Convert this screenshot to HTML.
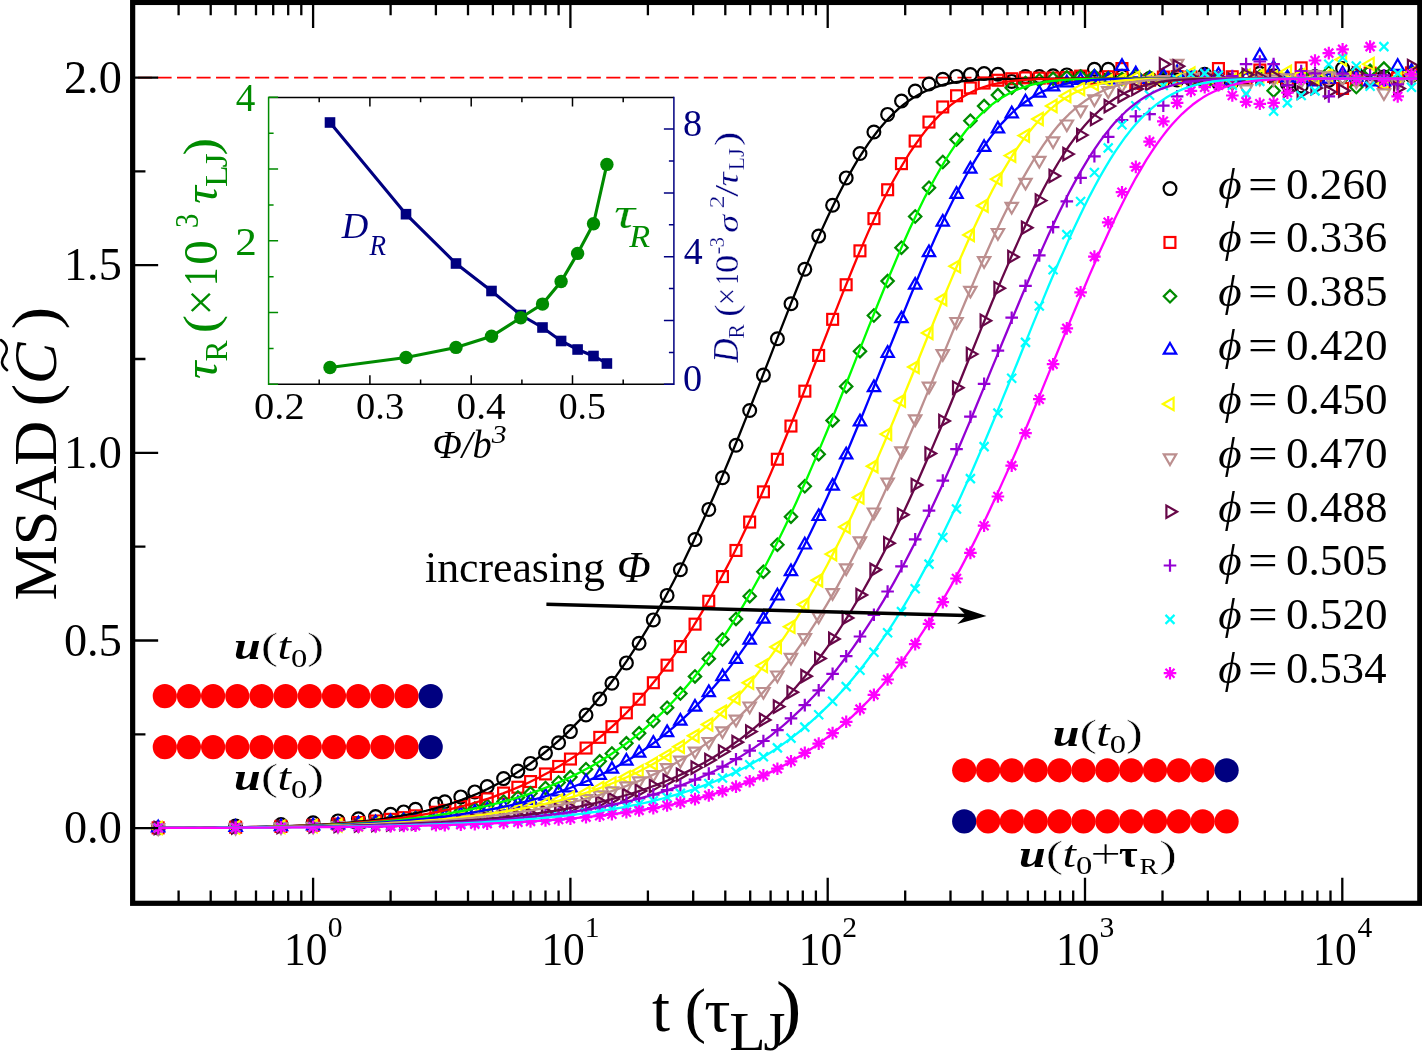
<!DOCTYPE html>
<html><head><meta charset="utf-8"><title>MSAD</title>
<style>html,body{margin:0;padding:0;background:#fff;}svg{display:block;will-change:transform}svg text{font-family:"Liberation Serif",serif}</style></head>
<body><svg width="1422" height="1051" viewBox="0 0 1422 1051" font-family="Liberation Serif, serif">
<rect x="0" y="0" width="1422" height="1051" fill="#fff"/>
<defs><clipPath id="cp"><rect x="132.65" y="2.45" width="1287.1499999999999" height="900.8499999999999"/></clipPath></defs>
<path d="M118.5,77.6H1419.8" stroke="#ff0000" stroke-width="1.6" stroke-dasharray="14.1 5.41" fill="none" clip-path="url(#cp)"/>
<g clip-path="url(#cp)">
<g><circle cx="158.2" cy="827.9" r="6.4" fill="none" stroke="#000000" stroke-width="2.2"/><circle cx="235.6" cy="826.1" r="6.4" fill="none" stroke="#000000" stroke-width="2.2"/><circle cx="281.0" cy="824.5" r="6.4" fill="none" stroke="#000000" stroke-width="2.2"/><circle cx="313.1" cy="822.8" r="6.4" fill="none" stroke="#000000" stroke-width="2.2"/><circle cx="338.0" cy="820.9" r="6.4" fill="none" stroke="#000000" stroke-width="2.2"/><circle cx="358.4" cy="818.8" r="6.4" fill="none" stroke="#000000" stroke-width="2.2"/><circle cx="375.6" cy="816.6" r="6.4" fill="none" stroke="#000000" stroke-width="2.2"/><circle cx="390.6" cy="814.3" r="6.4" fill="none" stroke="#000000" stroke-width="2.2"/><circle cx="403.7" cy="811.9" r="6.4" fill="none" stroke="#000000" stroke-width="2.2"/><circle cx="415.5" cy="809.3" r="6.4" fill="none" stroke="#000000" stroke-width="2.2"/><circle cx="435.9" cy="804.1" r="6.4" fill="none" stroke="#000000" stroke-width="2.2"/><circle cx="444.8" cy="801.8" r="6.4" fill="none" stroke="#000000" stroke-width="2.2"/><circle cx="460.8" cy="796.9" r="6.4" fill="none" stroke="#000000" stroke-width="2.2"/><circle cx="474.8" cy="791.9" r="6.4" fill="none" stroke="#000000" stroke-width="2.2"/><circle cx="487.2" cy="786.6" r="6.4" fill="none" stroke="#000000" stroke-width="2.2"/><circle cx="503.6" cy="778.6" r="6.4" fill="none" stroke="#000000" stroke-width="2.2"/><circle cx="517.9" cy="771.1" r="6.4" fill="none" stroke="#000000" stroke-width="2.2"/><circle cx="530.5" cy="763.4" r="6.4" fill="none" stroke="#000000" stroke-width="2.2"/><circle cx="545.5" cy="753.1" r="6.4" fill="none" stroke="#000000" stroke-width="2.2"/><circle cx="558.6" cy="742.8" r="6.4" fill="none" stroke="#000000" stroke-width="2.2"/><circle cx="570.4" cy="731.6" r="6.4" fill="none" stroke="#000000" stroke-width="2.2"/><circle cx="586.0" cy="715.0" r="6.4" fill="none" stroke="#000000" stroke-width="2.2"/><circle cx="599.7" cy="698.9" r="6.4" fill="none" stroke="#000000" stroke-width="2.2"/><circle cx="611.9" cy="683.2" r="6.4" fill="none" stroke="#000000" stroke-width="2.2"/><circle cx="626.4" cy="662.9" r="6.4" fill="none" stroke="#000000" stroke-width="2.2"/><circle cx="639.1" cy="643.3" r="6.4" fill="none" stroke="#000000" stroke-width="2.2"/><circle cx="653.3" cy="619.9" r="6.4" fill="none" stroke="#000000" stroke-width="2.2"/><circle cx="667.1" cy="595.4" r="6.4" fill="none" stroke="#000000" stroke-width="2.2"/><circle cx="680.4" cy="569.8" r="6.4" fill="none" stroke="#000000" stroke-width="2.2"/><circle cx="695.0" cy="539.6" r="6.4" fill="none" stroke="#000000" stroke-width="2.2"/><circle cx="708.8" cy="509.4" r="6.4" fill="none" stroke="#000000" stroke-width="2.2"/><circle cx="722.5" cy="477.8" r="6.4" fill="none" stroke="#000000" stroke-width="2.2"/><circle cx="736.0" cy="445.2" r="6.4" fill="none" stroke="#000000" stroke-width="2.2"/><circle cx="749.7" cy="410.5" r="6.4" fill="none" stroke="#000000" stroke-width="2.2"/><circle cx="763.4" cy="375.1" r="6.4" fill="none" stroke="#000000" stroke-width="2.2"/><circle cx="777.4" cy="338.8" r="6.4" fill="none" stroke="#000000" stroke-width="2.2"/><circle cx="791.0" cy="303.8" r="6.4" fill="none" stroke="#000000" stroke-width="2.2"/><circle cx="804.8" cy="269.2" r="6.4" fill="none" stroke="#000000" stroke-width="2.2"/><circle cx="818.7" cy="236.1" r="6.4" fill="none" stroke="#000000" stroke-width="2.2"/><circle cx="832.6" cy="205.2" r="6.4" fill="none" stroke="#000000" stroke-width="2.2"/><circle cx="846.2" cy="177.9" r="6.4" fill="none" stroke="#000000" stroke-width="2.2"/><circle cx="860.0" cy="153.5" r="6.4" fill="none" stroke="#000000" stroke-width="2.2"/><circle cx="873.9" cy="132.0" r="6.4" fill="none" stroke="#000000" stroke-width="2.2"/><circle cx="887.6" cy="114.4" r="6.4" fill="none" stroke="#000000" stroke-width="2.2"/><circle cx="901.5" cy="101.0" r="6.4" fill="none" stroke="#000000" stroke-width="2.2"/><circle cx="915.2" cy="91.1" r="6.4" fill="none" stroke="#000000" stroke-width="2.2"/><circle cx="929.0" cy="84.0" r="6.4" fill="none" stroke="#000000" stroke-width="2.2"/><circle cx="942.8" cy="79.3" r="6.4" fill="none" stroke="#000000" stroke-width="2.2"/><circle cx="956.5" cy="76.4" r="6.4" fill="none" stroke="#000000" stroke-width="2.2"/><circle cx="970.4" cy="74.6" r="6.4" fill="none" stroke="#000000" stroke-width="2.2"/><circle cx="984.1" cy="73.5" r="6.4" fill="none" stroke="#000000" stroke-width="2.2"/><circle cx="997.9" cy="74.2" r="6.4" fill="none" stroke="#000000" stroke-width="2.2"/><circle cx="1011.7" cy="81.4" r="6.4" fill="none" stroke="#000000" stroke-width="2.2"/><circle cx="1025.5" cy="76.5" r="6.4" fill="none" stroke="#000000" stroke-width="2.2"/><circle cx="1039.3" cy="76.5" r="6.4" fill="none" stroke="#000000" stroke-width="2.2"/><circle cx="1053.1" cy="75.8" r="6.4" fill="none" stroke="#000000" stroke-width="2.2"/><circle cx="1066.8" cy="74.9" r="6.4" fill="none" stroke="#000000" stroke-width="2.2"/><circle cx="1080.6" cy="76.9" r="6.4" fill="none" stroke="#000000" stroke-width="2.2"/><circle cx="1094.4" cy="69.3" r="6.4" fill="none" stroke="#000000" stroke-width="2.2"/><circle cx="1108.2" cy="69.3" r="6.4" fill="none" stroke="#000000" stroke-width="2.2"/><circle cx="1122.0" cy="76.3" r="6.4" fill="none" stroke="#000000" stroke-width="2.2"/><circle cx="1135.8" cy="78.9" r="6.4" fill="none" stroke="#000000" stroke-width="2.2"/><circle cx="1149.6" cy="78.6" r="6.4" fill="none" stroke="#000000" stroke-width="2.2"/><circle cx="1163.3" cy="80.5" r="6.4" fill="none" stroke="#000000" stroke-width="2.2"/><circle cx="1177.1" cy="79.9" r="6.4" fill="none" stroke="#000000" stroke-width="2.2"/><circle cx="1190.9" cy="78.9" r="6.4" fill="none" stroke="#000000" stroke-width="2.2"/><circle cx="1204.7" cy="74.3" r="6.4" fill="none" stroke="#000000" stroke-width="2.2"/><circle cx="1218.5" cy="83.0" r="6.4" fill="none" stroke="#000000" stroke-width="2.2"/><circle cx="1232.3" cy="81.6" r="6.4" fill="none" stroke="#000000" stroke-width="2.2"/><circle cx="1246.1" cy="76.9" r="6.4" fill="none" stroke="#000000" stroke-width="2.2"/><circle cx="1259.8" cy="73.3" r="6.4" fill="none" stroke="#000000" stroke-width="2.2"/><circle cx="1273.6" cy="75.8" r="6.4" fill="none" stroke="#000000" stroke-width="2.2"/><circle cx="1287.4" cy="83.7" r="6.4" fill="none" stroke="#000000" stroke-width="2.2"/><circle cx="1301.2" cy="86.0" r="6.4" fill="none" stroke="#000000" stroke-width="2.2"/><circle cx="1315.0" cy="76.4" r="6.4" fill="none" stroke="#000000" stroke-width="2.2"/><circle cx="1328.8" cy="80.3" r="6.4" fill="none" stroke="#000000" stroke-width="2.2"/><circle cx="1342.6" cy="68.6" r="6.4" fill="none" stroke="#000000" stroke-width="2.2"/><circle cx="1356.3" cy="73.7" r="6.4" fill="none" stroke="#000000" stroke-width="2.2"/><circle cx="1370.1" cy="73.0" r="6.4" fill="none" stroke="#000000" stroke-width="2.2"/><circle cx="1383.9" cy="76.9" r="6.4" fill="none" stroke="#000000" stroke-width="2.2"/><circle cx="1397.7" cy="76.5" r="6.4" fill="none" stroke="#000000" stroke-width="2.2"/><circle cx="1411.5" cy="75.5" r="6.4" fill="none" stroke="#000000" stroke-width="2.2"/></g>
<g><rect x="152.7" y="822.4" width="10.9" height="10.9" fill="none" stroke="#ff0000" stroke-width="2.2"/><rect x="230.2" y="821.8" width="10.9" height="10.9" fill="none" stroke="#ff0000" stroke-width="2.2"/><rect x="275.5" y="821.0" width="10.9" height="10.9" fill="none" stroke="#ff0000" stroke-width="2.2"/><rect x="307.7" y="819.9" width="10.9" height="10.9" fill="none" stroke="#ff0000" stroke-width="2.2"/><rect x="332.6" y="818.6" width="10.9" height="10.9" fill="none" stroke="#ff0000" stroke-width="2.2"/><rect x="353.0" y="817.1" width="10.9" height="10.9" fill="none" stroke="#ff0000" stroke-width="2.2"/><rect x="370.2" y="815.6" width="10.9" height="10.9" fill="none" stroke="#ff0000" stroke-width="2.2"/><rect x="385.1" y="813.9" width="10.9" height="10.9" fill="none" stroke="#ff0000" stroke-width="2.2"/><rect x="398.3" y="812.2" width="10.9" height="10.9" fill="none" stroke="#ff0000" stroke-width="2.2"/><rect x="410.0" y="810.4" width="10.9" height="10.9" fill="none" stroke="#ff0000" stroke-width="2.2"/><rect x="430.4" y="806.8" width="10.9" height="10.9" fill="none" stroke="#ff0000" stroke-width="2.2"/><rect x="439.4" y="804.9" width="10.9" height="10.9" fill="none" stroke="#ff0000" stroke-width="2.2"/><rect x="455.3" y="801.1" width="10.9" height="10.9" fill="none" stroke="#ff0000" stroke-width="2.2"/><rect x="469.3" y="797.2" width="10.9" height="10.9" fill="none" stroke="#ff0000" stroke-width="2.2"/><rect x="481.8" y="793.4" width="10.9" height="10.9" fill="none" stroke="#ff0000" stroke-width="2.2"/><rect x="498.1" y="787.6" width="10.9" height="10.9" fill="none" stroke="#ff0000" stroke-width="2.2"/><rect x="512.4" y="781.8" width="10.9" height="10.9" fill="none" stroke="#ff0000" stroke-width="2.2"/><rect x="525.1" y="776.1" width="10.9" height="10.9" fill="none" stroke="#ff0000" stroke-width="2.2"/><rect x="540.0" y="768.5" width="10.9" height="10.9" fill="none" stroke="#ff0000" stroke-width="2.2"/><rect x="553.2" y="761.0" width="10.9" height="10.9" fill="none" stroke="#ff0000" stroke-width="2.2"/><rect x="565.0" y="753.6" width="10.9" height="10.9" fill="none" stroke="#ff0000" stroke-width="2.2"/><rect x="580.6" y="742.6" width="10.9" height="10.9" fill="none" stroke="#ff0000" stroke-width="2.2"/><rect x="594.3" y="731.9" width="10.9" height="10.9" fill="none" stroke="#ff0000" stroke-width="2.2"/><rect x="606.5" y="721.2" width="10.9" height="10.9" fill="none" stroke="#ff0000" stroke-width="2.2"/><rect x="620.9" y="707.4" width="10.9" height="10.9" fill="none" stroke="#ff0000" stroke-width="2.2"/><rect x="633.7" y="693.8" width="10.9" height="10.9" fill="none" stroke="#ff0000" stroke-width="2.2"/><rect x="647.9" y="677.3" width="10.9" height="10.9" fill="none" stroke="#ff0000" stroke-width="2.2"/><rect x="661.6" y="659.7" width="10.9" height="10.9" fill="none" stroke="#ff0000" stroke-width="2.2"/><rect x="674.9" y="641.1" width="10.9" height="10.9" fill="none" stroke="#ff0000" stroke-width="2.2"/><rect x="689.6" y="618.7" width="10.9" height="10.9" fill="none" stroke="#ff0000" stroke-width="2.2"/><rect x="703.3" y="595.8" width="10.9" height="10.9" fill="none" stroke="#ff0000" stroke-width="2.2"/><rect x="717.0" y="571.1" width="10.9" height="10.9" fill="none" stroke="#ff0000" stroke-width="2.2"/><rect x="730.5" y="545.0" width="10.9" height="10.9" fill="none" stroke="#ff0000" stroke-width="2.2"/><rect x="744.2" y="516.6" width="10.9" height="10.9" fill="none" stroke="#ff0000" stroke-width="2.2"/><rect x="758.0" y="486.4" width="10.9" height="10.9" fill="none" stroke="#ff0000" stroke-width="2.2"/><rect x="771.9" y="453.8" width="10.9" height="10.9" fill="none" stroke="#ff0000" stroke-width="2.2"/><rect x="785.5" y="420.6" width="10.9" height="10.9" fill="none" stroke="#ff0000" stroke-width="2.2"/><rect x="799.4" y="385.7" width="10.9" height="10.9" fill="none" stroke="#ff0000" stroke-width="2.2"/><rect x="813.2" y="350.0" width="10.9" height="10.9" fill="none" stroke="#ff0000" stroke-width="2.2"/><rect x="827.2" y="313.9" width="10.9" height="10.9" fill="none" stroke="#ff0000" stroke-width="2.2"/><rect x="840.7" y="279.3" width="10.9" height="10.9" fill="none" stroke="#ff0000" stroke-width="2.2"/><rect x="854.5" y="245.4" width="10.9" height="10.9" fill="none" stroke="#ff0000" stroke-width="2.2"/><rect x="868.5" y="213.2" width="10.9" height="10.9" fill="none" stroke="#ff0000" stroke-width="2.2"/><rect x="882.2" y="184.3" width="10.9" height="10.9" fill="none" stroke="#ff0000" stroke-width="2.2"/><rect x="896.0" y="158.2" width="10.9" height="10.9" fill="none" stroke="#ff0000" stroke-width="2.2"/><rect x="909.7" y="135.6" width="10.9" height="10.9" fill="none" stroke="#ff0000" stroke-width="2.2"/><rect x="923.5" y="116.6" width="10.9" height="10.9" fill="none" stroke="#ff0000" stroke-width="2.2"/><rect x="937.3" y="101.5" width="10.9" height="10.9" fill="none" stroke="#ff0000" stroke-width="2.2"/><rect x="951.1" y="90.3" width="10.9" height="10.9" fill="none" stroke="#ff0000" stroke-width="2.2"/><rect x="964.9" y="82.5" width="10.9" height="10.9" fill="none" stroke="#ff0000" stroke-width="2.2"/><rect x="978.7" y="77.6" width="10.9" height="10.9" fill="none" stroke="#ff0000" stroke-width="2.2"/><rect x="992.5" y="74.8" width="10.9" height="10.9" fill="none" stroke="#ff0000" stroke-width="2.2"/><rect x="1006.3" y="73.3" width="10.9" height="10.9" fill="none" stroke="#ff0000" stroke-width="2.2"/><rect x="1020.0" y="72.4" width="10.9" height="10.9" fill="none" stroke="#ff0000" stroke-width="2.2"/><rect x="1033.8" y="72.7" width="10.9" height="10.9" fill="none" stroke="#ff0000" stroke-width="2.2"/><rect x="1047.6" y="72.6" width="10.9" height="10.9" fill="none" stroke="#ff0000" stroke-width="2.2"/><rect x="1061.4" y="72.2" width="10.9" height="10.9" fill="none" stroke="#ff0000" stroke-width="2.2"/><rect x="1075.2" y="70.7" width="10.9" height="10.9" fill="none" stroke="#ff0000" stroke-width="2.2"/><rect x="1089.0" y="72.8" width="10.9" height="10.9" fill="none" stroke="#ff0000" stroke-width="2.2"/><rect x="1102.8" y="71.3" width="10.9" height="10.9" fill="none" stroke="#ff0000" stroke-width="2.2"/><rect x="1116.5" y="63.1" width="10.9" height="10.9" fill="none" stroke="#ff0000" stroke-width="2.2"/><rect x="1130.3" y="78.0" width="10.9" height="10.9" fill="none" stroke="#ff0000" stroke-width="2.2"/><rect x="1144.1" y="74.8" width="10.9" height="10.9" fill="none" stroke="#ff0000" stroke-width="2.2"/><rect x="1157.9" y="71.6" width="10.9" height="10.9" fill="none" stroke="#ff0000" stroke-width="2.2"/><rect x="1171.7" y="71.2" width="10.9" height="10.9" fill="none" stroke="#ff0000" stroke-width="2.2"/><rect x="1185.5" y="71.5" width="10.9" height="10.9" fill="none" stroke="#ff0000" stroke-width="2.2"/><rect x="1199.2" y="73.3" width="10.9" height="10.9" fill="none" stroke="#ff0000" stroke-width="2.2"/><rect x="1213.0" y="63.1" width="10.9" height="10.9" fill="none" stroke="#ff0000" stroke-width="2.2"/><rect x="1226.8" y="71.3" width="10.9" height="10.9" fill="none" stroke="#ff0000" stroke-width="2.2"/><rect x="1240.6" y="73.7" width="10.9" height="10.9" fill="none" stroke="#ff0000" stroke-width="2.2"/><rect x="1254.4" y="64.6" width="10.9" height="10.9" fill="none" stroke="#ff0000" stroke-width="2.2"/><rect x="1268.2" y="71.0" width="10.9" height="10.9" fill="none" stroke="#ff0000" stroke-width="2.2"/><rect x="1282.0" y="74.0" width="10.9" height="10.9" fill="none" stroke="#ff0000" stroke-width="2.2"/><rect x="1295.7" y="62.4" width="10.9" height="10.9" fill="none" stroke="#ff0000" stroke-width="2.2"/><rect x="1309.5" y="73.0" width="10.9" height="10.9" fill="none" stroke="#ff0000" stroke-width="2.2"/><rect x="1323.3" y="72.4" width="10.9" height="10.9" fill="none" stroke="#ff0000" stroke-width="2.2"/><rect x="1337.1" y="83.0" width="10.9" height="10.9" fill="none" stroke="#ff0000" stroke-width="2.2"/><rect x="1350.9" y="74.2" width="10.9" height="10.9" fill="none" stroke="#ff0000" stroke-width="2.2"/><rect x="1364.7" y="67.7" width="10.9" height="10.9" fill="none" stroke="#ff0000" stroke-width="2.2"/><rect x="1378.5" y="77.5" width="10.9" height="10.9" fill="none" stroke="#ff0000" stroke-width="2.2"/><rect x="1392.2" y="72.5" width="10.9" height="10.9" fill="none" stroke="#ff0000" stroke-width="2.2"/><rect x="1406.0" y="67.4" width="10.9" height="10.9" fill="none" stroke="#ff0000" stroke-width="2.2"/></g>
<g><path d="M158.2,821.7l6.2,6.2l-6.2,6.2l-6.2,-6.2z" fill="none" stroke="#008b00" stroke-width="2.2"/><path d="M235.6,821.1l6.2,6.2l-6.2,6.2l-6.2,-6.2z" fill="none" stroke="#008b00" stroke-width="2.2"/><path d="M281.0,820.4l6.2,6.2l-6.2,6.2l-6.2,-6.2z" fill="none" stroke="#008b00" stroke-width="2.2"/><path d="M313.1,819.4l6.2,6.2l-6.2,6.2l-6.2,-6.2z" fill="none" stroke="#008b00" stroke-width="2.2"/><path d="M338.0,818.3l6.2,6.2l-6.2,6.2l-6.2,-6.2z" fill="none" stroke="#008b00" stroke-width="2.2"/><path d="M358.4,817.1l6.2,6.2l-6.2,6.2l-6.2,-6.2z" fill="none" stroke="#008b00" stroke-width="2.2"/><path d="M375.6,815.9l6.2,6.2l-6.2,6.2l-6.2,-6.2z" fill="none" stroke="#008b00" stroke-width="2.2"/><path d="M390.6,814.6l6.2,6.2l-6.2,6.2l-6.2,-6.2z" fill="none" stroke="#008b00" stroke-width="2.2"/><path d="M403.7,813.2l6.2,6.2l-6.2,6.2l-6.2,-6.2z" fill="none" stroke="#008b00" stroke-width="2.2"/><path d="M415.5,811.9l6.2,6.2l-6.2,6.2l-6.2,-6.2z" fill="none" stroke="#008b00" stroke-width="2.2"/><path d="M435.9,809.2l6.2,6.2l-6.2,6.2l-6.2,-6.2z" fill="none" stroke="#008b00" stroke-width="2.2"/><path d="M444.8,807.8l6.2,6.2l-6.2,6.2l-6.2,-6.2z" fill="none" stroke="#008b00" stroke-width="2.2"/><path d="M460.8,805.0l6.2,6.2l-6.2,6.2l-6.2,-6.2z" fill="none" stroke="#008b00" stroke-width="2.2"/><path d="M474.8,802.2l6.2,6.2l-6.2,6.2l-6.2,-6.2z" fill="none" stroke="#008b00" stroke-width="2.2"/><path d="M487.2,799.5l6.2,6.2l-6.2,6.2l-6.2,-6.2z" fill="none" stroke="#008b00" stroke-width="2.2"/><path d="M503.6,795.3l6.2,6.2l-6.2,6.2l-6.2,-6.2z" fill="none" stroke="#008b00" stroke-width="2.2"/><path d="M517.9,791.2l6.2,6.2l-6.2,6.2l-6.2,-6.2z" fill="none" stroke="#008b00" stroke-width="2.2"/><path d="M530.5,787.1l6.2,6.2l-6.2,6.2l-6.2,-6.2z" fill="none" stroke="#008b00" stroke-width="2.2"/><path d="M545.5,781.7l6.2,6.2l-6.2,6.2l-6.2,-6.2z" fill="none" stroke="#008b00" stroke-width="2.2"/><path d="M558.6,776.3l6.2,6.2l-6.2,6.2l-6.2,-6.2z" fill="none" stroke="#008b00" stroke-width="2.2"/><path d="M570.4,770.9l6.2,6.2l-6.2,6.2l-6.2,-6.2z" fill="none" stroke="#008b00" stroke-width="2.2"/><path d="M586.0,763.0l6.2,6.2l-6.2,6.2l-6.2,-6.2z" fill="none" stroke="#008b00" stroke-width="2.2"/><path d="M599.7,755.1l6.2,6.2l-6.2,6.2l-6.2,-6.2z" fill="none" stroke="#008b00" stroke-width="2.2"/><path d="M611.9,747.3l6.2,6.2l-6.2,6.2l-6.2,-6.2z" fill="none" stroke="#008b00" stroke-width="2.2"/><path d="M626.4,737.1l6.2,6.2l-6.2,6.2l-6.2,-6.2z" fill="none" stroke="#008b00" stroke-width="2.2"/><path d="M639.1,727.1l6.2,6.2l-6.2,6.2l-6.2,-6.2z" fill="none" stroke="#008b00" stroke-width="2.2"/><path d="M653.3,714.8l6.2,6.2l-6.2,6.2l-6.2,-6.2z" fill="none" stroke="#008b00" stroke-width="2.2"/><path d="M667.1,701.5l6.2,6.2l-6.2,6.2l-6.2,-6.2z" fill="none" stroke="#008b00" stroke-width="2.2"/><path d="M680.4,687.4l6.2,6.2l-6.2,6.2l-6.2,-6.2z" fill="none" stroke="#008b00" stroke-width="2.2"/><path d="M695.0,670.2l6.2,6.2l-6.2,6.2l-6.2,-6.2z" fill="none" stroke="#008b00" stroke-width="2.2"/><path d="M708.8,652.5l6.2,6.2l-6.2,6.2l-6.2,-6.2z" fill="none" stroke="#008b00" stroke-width="2.2"/><path d="M722.5,633.3l6.2,6.2l-6.2,6.2l-6.2,-6.2z" fill="none" stroke="#008b00" stroke-width="2.2"/><path d="M736.0,612.7l6.2,6.2l-6.2,6.2l-6.2,-6.2z" fill="none" stroke="#008b00" stroke-width="2.2"/><path d="M749.7,590.0l6.2,6.2l-6.2,6.2l-6.2,-6.2z" fill="none" stroke="#008b00" stroke-width="2.2"/><path d="M763.4,565.5l6.2,6.2l-6.2,6.2l-6.2,-6.2z" fill="none" stroke="#008b00" stroke-width="2.2"/><path d="M777.4,538.5l6.2,6.2l-6.2,6.2l-6.2,-6.2z" fill="none" stroke="#008b00" stroke-width="2.2"/><path d="M791.0,510.5l6.2,6.2l-6.2,6.2l-6.2,-6.2z" fill="none" stroke="#008b00" stroke-width="2.2"/><path d="M804.8,480.1l6.2,6.2l-6.2,6.2l-6.2,-6.2z" fill="none" stroke="#008b00" stroke-width="2.2"/><path d="M818.7,448.0l6.2,6.2l-6.2,6.2l-6.2,-6.2z" fill="none" stroke="#008b00" stroke-width="2.2"/><path d="M832.6,414.2l6.2,6.2l-6.2,6.2l-6.2,-6.2z" fill="none" stroke="#008b00" stroke-width="2.2"/><path d="M846.2,380.2l6.2,6.2l-6.2,6.2l-6.2,-6.2z" fill="none" stroke="#008b00" stroke-width="2.2"/><path d="M860.0,345.0l6.2,6.2l-6.2,6.2l-6.2,-6.2z" fill="none" stroke="#008b00" stroke-width="2.2"/><path d="M873.9,309.3l6.2,6.2l-6.2,6.2l-6.2,-6.2z" fill="none" stroke="#008b00" stroke-width="2.2"/><path d="M887.6,274.9l6.2,6.2l-6.2,6.2l-6.2,-6.2z" fill="none" stroke="#008b00" stroke-width="2.2"/><path d="M901.5,241.5l6.2,6.2l-6.2,6.2l-6.2,-6.2z" fill="none" stroke="#008b00" stroke-width="2.2"/><path d="M915.2,210.3l6.2,6.2l-6.2,6.2l-6.2,-6.2z" fill="none" stroke="#008b00" stroke-width="2.2"/><path d="M929.0,181.5l6.2,6.2l-6.2,6.2l-6.2,-6.2z" fill="none" stroke="#008b00" stroke-width="2.2"/><path d="M942.8,155.8l6.2,6.2l-6.2,6.2l-6.2,-6.2z" fill="none" stroke="#008b00" stroke-width="2.2"/><path d="M956.5,133.4l6.2,6.2l-6.2,6.2l-6.2,-6.2z" fill="none" stroke="#008b00" stroke-width="2.2"/><path d="M970.4,114.6l6.2,6.2l-6.2,6.2l-6.2,-6.2z" fill="none" stroke="#008b00" stroke-width="2.2"/><path d="M984.1,99.9l6.2,6.2l-6.2,6.2l-6.2,-6.2z" fill="none" stroke="#008b00" stroke-width="2.2"/><path d="M997.9,88.9l6.2,6.2l-6.2,6.2l-6.2,-6.2z" fill="none" stroke="#008b00" stroke-width="2.2"/><path d="M1011.7,81.5l6.2,6.2l-6.2,6.2l-6.2,-6.2z" fill="none" stroke="#008b00" stroke-width="2.2"/><path d="M1025.5,76.7l6.2,6.2l-6.2,6.2l-6.2,-6.2z" fill="none" stroke="#008b00" stroke-width="2.2"/><path d="M1039.3,74.0l6.2,6.2l-6.2,6.2l-6.2,-6.2z" fill="none" stroke="#008b00" stroke-width="2.2"/><path d="M1053.1,72.6l6.2,6.2l-6.2,6.2l-6.2,-6.2z" fill="none" stroke="#008b00" stroke-width="2.2"/><path d="M1066.8,71.1l6.2,6.2l-6.2,6.2l-6.2,-6.2z" fill="none" stroke="#008b00" stroke-width="2.2"/><path d="M1080.6,70.2l6.2,6.2l-6.2,6.2l-6.2,-6.2z" fill="none" stroke="#008b00" stroke-width="2.2"/><path d="M1094.4,69.7l6.2,6.2l-6.2,6.2l-6.2,-6.2z" fill="none" stroke="#008b00" stroke-width="2.2"/><path d="M1108.2,71.7l6.2,6.2l-6.2,6.2l-6.2,-6.2z" fill="none" stroke="#008b00" stroke-width="2.2"/><path d="M1122.0,72.8l6.2,6.2l-6.2,6.2l-6.2,-6.2z" fill="none" stroke="#008b00" stroke-width="2.2"/><path d="M1135.8,69.1l6.2,6.2l-6.2,6.2l-6.2,-6.2z" fill="none" stroke="#008b00" stroke-width="2.2"/><path d="M1149.6,71.1l6.2,6.2l-6.2,6.2l-6.2,-6.2z" fill="none" stroke="#008b00" stroke-width="2.2"/><path d="M1163.3,71.1l6.2,6.2l-6.2,6.2l-6.2,-6.2z" fill="none" stroke="#008b00" stroke-width="2.2"/><path d="M1177.1,67.7l6.2,6.2l-6.2,6.2l-6.2,-6.2z" fill="none" stroke="#008b00" stroke-width="2.2"/><path d="M1190.9,72.1l6.2,6.2l-6.2,6.2l-6.2,-6.2z" fill="none" stroke="#008b00" stroke-width="2.2"/><path d="M1204.7,77.8l6.2,6.2l-6.2,6.2l-6.2,-6.2z" fill="none" stroke="#008b00" stroke-width="2.2"/><path d="M1218.5,72.5l6.2,6.2l-6.2,6.2l-6.2,-6.2z" fill="none" stroke="#008b00" stroke-width="2.2"/><path d="M1232.3,77.0l6.2,6.2l-6.2,6.2l-6.2,-6.2z" fill="none" stroke="#008b00" stroke-width="2.2"/><path d="M1246.1,68.8l6.2,6.2l-6.2,6.2l-6.2,-6.2z" fill="none" stroke="#008b00" stroke-width="2.2"/><path d="M1259.8,70.4l6.2,6.2l-6.2,6.2l-6.2,-6.2z" fill="none" stroke="#008b00" stroke-width="2.2"/><path d="M1273.6,84.5l6.2,6.2l-6.2,6.2l-6.2,-6.2z" fill="none" stroke="#008b00" stroke-width="2.2"/><path d="M1287.4,71.4l6.2,6.2l-6.2,6.2l-6.2,-6.2z" fill="none" stroke="#008b00" stroke-width="2.2"/><path d="M1301.2,68.3l6.2,6.2l-6.2,6.2l-6.2,-6.2z" fill="none" stroke="#008b00" stroke-width="2.2"/><path d="M1315.0,71.1l6.2,6.2l-6.2,6.2l-6.2,-6.2z" fill="none" stroke="#008b00" stroke-width="2.2"/><path d="M1328.8,66.1l6.2,6.2l-6.2,6.2l-6.2,-6.2z" fill="none" stroke="#008b00" stroke-width="2.2"/><path d="M1342.6,71.7l6.2,6.2l-6.2,6.2l-6.2,-6.2z" fill="none" stroke="#008b00" stroke-width="2.2"/><path d="M1356.3,80.8l6.2,6.2l-6.2,6.2l-6.2,-6.2z" fill="none" stroke="#008b00" stroke-width="2.2"/><path d="M1370.1,64.5l6.2,6.2l-6.2,6.2l-6.2,-6.2z" fill="none" stroke="#008b00" stroke-width="2.2"/><path d="M1383.9,62.4l6.2,6.2l-6.2,6.2l-6.2,-6.2z" fill="none" stroke="#008b00" stroke-width="2.2"/><path d="M1397.7,74.8l6.2,6.2l-6.2,6.2l-6.2,-6.2z" fill="none" stroke="#008b00" stroke-width="2.2"/><path d="M1411.5,66.7l6.2,6.2l-6.2,6.2l-6.2,-6.2z" fill="none" stroke="#008b00" stroke-width="2.2"/></g>
<g><path d="M158.2,820.8L164.3,831.4L152.0,831.4z" fill="none" stroke="#0000ff" stroke-width="2.2"/><path d="M235.6,820.3L241.8,830.9L229.5,830.9z" fill="none" stroke="#0000ff" stroke-width="2.2"/><path d="M281.0,819.6L287.1,830.2L274.8,830.2z" fill="none" stroke="#0000ff" stroke-width="2.2"/><path d="M313.1,818.7L319.2,829.4L307.0,829.4z" fill="none" stroke="#0000ff" stroke-width="2.2"/><path d="M338.0,817.8L344.2,828.4L331.9,828.4z" fill="none" stroke="#0000ff" stroke-width="2.2"/><path d="M358.4,816.8L364.6,827.5L352.3,827.5z" fill="none" stroke="#0000ff" stroke-width="2.2"/><path d="M375.6,815.8L381.8,826.4L369.5,826.4z" fill="none" stroke="#0000ff" stroke-width="2.2"/><path d="M390.6,814.7L396.7,825.4L384.4,825.4z" fill="none" stroke="#0000ff" stroke-width="2.2"/><path d="M403.7,813.7L409.9,824.3L397.6,824.3z" fill="none" stroke="#0000ff" stroke-width="2.2"/><path d="M415.5,812.6L421.6,823.2L409.3,823.2z" fill="none" stroke="#0000ff" stroke-width="2.2"/><path d="M435.9,810.4L442.0,821.1L429.7,821.1z" fill="none" stroke="#0000ff" stroke-width="2.2"/><path d="M444.8,809.4L451.0,820.0L438.7,820.0z" fill="none" stroke="#0000ff" stroke-width="2.2"/><path d="M460.8,807.2L466.9,817.8L454.6,817.8z" fill="none" stroke="#0000ff" stroke-width="2.2"/><path d="M474.8,805.0L480.9,815.7L468.6,815.7z" fill="none" stroke="#0000ff" stroke-width="2.2"/><path d="M487.2,802.9L493.4,813.5L481.1,813.5z" fill="none" stroke="#0000ff" stroke-width="2.2"/><path d="M503.6,799.6L509.7,810.3L497.4,810.3z" fill="none" stroke="#0000ff" stroke-width="2.2"/><path d="M517.9,796.4L524.0,807.1L511.7,807.1z" fill="none" stroke="#0000ff" stroke-width="2.2"/><path d="M530.5,793.2L536.7,803.9L524.4,803.9z" fill="none" stroke="#0000ff" stroke-width="2.2"/><path d="M545.5,789.0L551.6,799.7L539.3,799.7z" fill="none" stroke="#0000ff" stroke-width="2.2"/><path d="M558.6,784.8L564.8,795.4L552.5,795.4z" fill="none" stroke="#0000ff" stroke-width="2.2"/><path d="M570.4,780.6L576.6,791.3L564.3,791.3z" fill="none" stroke="#0000ff" stroke-width="2.2"/><path d="M586.0,774.4L592.2,785.0L579.9,785.0z" fill="none" stroke="#0000ff" stroke-width="2.2"/><path d="M599.7,768.2L605.9,778.8L593.6,778.8z" fill="none" stroke="#0000ff" stroke-width="2.2"/><path d="M611.9,762.1L618.1,772.7L605.8,772.7z" fill="none" stroke="#0000ff" stroke-width="2.2"/><path d="M626.4,754.0L632.5,764.6L620.2,764.6z" fill="none" stroke="#0000ff" stroke-width="2.2"/><path d="M639.1,746.0L645.3,756.6L633.0,756.6z" fill="none" stroke="#0000ff" stroke-width="2.2"/><path d="M653.3,736.1L659.5,746.8L647.2,746.8z" fill="none" stroke="#0000ff" stroke-width="2.2"/><path d="M667.1,725.4L673.2,736.1L660.9,736.1z" fill="none" stroke="#0000ff" stroke-width="2.2"/><path d="M680.4,714.0L686.5,724.7L674.2,724.7z" fill="none" stroke="#0000ff" stroke-width="2.2"/><path d="M695.0,700.0L701.2,710.7L688.9,710.7z" fill="none" stroke="#0000ff" stroke-width="2.2"/><path d="M708.8,685.4L714.9,696.1L702.6,696.1z" fill="none" stroke="#0000ff" stroke-width="2.2"/><path d="M722.5,669.4L728.6,680.1L716.3,680.1z" fill="none" stroke="#0000ff" stroke-width="2.2"/><path d="M736.0,652.2L742.1,662.8L729.8,662.8z" fill="none" stroke="#0000ff" stroke-width="2.2"/><path d="M749.7,633.0L755.8,643.6L743.5,643.6z" fill="none" stroke="#0000ff" stroke-width="2.2"/><path d="M763.4,612.0L769.6,622.7L757.3,622.7z" fill="none" stroke="#0000ff" stroke-width="2.2"/><path d="M777.4,588.8L783.5,599.5L771.2,599.5z" fill="none" stroke="#0000ff" stroke-width="2.2"/><path d="M791.0,564.5L797.1,575.1L784.8,575.1z" fill="none" stroke="#0000ff" stroke-width="2.2"/><path d="M804.8,537.8L811.0,548.5L798.7,548.5z" fill="none" stroke="#0000ff" stroke-width="2.2"/><path d="M818.7,509.4L824.8,520.0L812.5,520.0z" fill="none" stroke="#0000ff" stroke-width="2.2"/><path d="M832.6,478.9L838.8,489.6L826.5,489.6z" fill="none" stroke="#0000ff" stroke-width="2.2"/><path d="M846.2,447.8L852.3,458.4L840.0,458.4z" fill="none" stroke="#0000ff" stroke-width="2.2"/><path d="M860.0,414.8L866.1,425.4L853.8,425.4z" fill="none" stroke="#0000ff" stroke-width="2.2"/><path d="M873.9,380.4L880.1,391.1L867.8,391.1z" fill="none" stroke="#0000ff" stroke-width="2.2"/><path d="M887.6,346.1L893.8,356.8L881.5,356.8z" fill="none" stroke="#0000ff" stroke-width="2.2"/><path d="M901.5,311.6L907.6,322.2L895.3,322.2z" fill="none" stroke="#0000ff" stroke-width="2.2"/><path d="M915.2,278.0L921.3,288.6L909.0,288.6z" fill="none" stroke="#0000ff" stroke-width="2.2"/><path d="M929.0,245.5L935.1,256.1L922.8,256.1z" fill="none" stroke="#0000ff" stroke-width="2.2"/><path d="M942.8,215.0L948.9,225.7L936.6,225.7z" fill="none" stroke="#0000ff" stroke-width="2.2"/><path d="M956.5,187.1L962.7,197.8L950.4,197.8z" fill="none" stroke="#0000ff" stroke-width="2.2"/><path d="M970.4,162.0L976.5,172.7L964.2,172.7z" fill="none" stroke="#0000ff" stroke-width="2.2"/><path d="M984.1,140.2L990.3,150.9L978.0,150.9z" fill="none" stroke="#0000ff" stroke-width="2.2"/><path d="M997.9,121.7L1004.1,132.4L991.8,132.4z" fill="none" stroke="#0000ff" stroke-width="2.2"/><path d="M1011.7,106.6L1017.9,117.3L1005.6,117.3z" fill="none" stroke="#0000ff" stroke-width="2.2"/><path d="M1025.5,94.8L1031.6,105.4L1019.3,105.4z" fill="none" stroke="#0000ff" stroke-width="2.2"/><path d="M1039.3,86.0L1045.4,96.6L1033.1,96.6z" fill="none" stroke="#0000ff" stroke-width="2.2"/><path d="M1053.1,79.8L1059.2,90.4L1046.9,90.4z" fill="none" stroke="#0000ff" stroke-width="2.2"/><path d="M1066.8,75.7L1073.0,86.3L1060.7,86.3z" fill="none" stroke="#0000ff" stroke-width="2.2"/><path d="M1080.6,73.2L1086.8,83.8L1074.5,83.8z" fill="none" stroke="#0000ff" stroke-width="2.2"/><path d="M1094.4,70.3L1100.6,80.9L1088.3,80.9z" fill="none" stroke="#0000ff" stroke-width="2.2"/><path d="M1108.2,72.8L1114.4,83.4L1102.1,83.4z" fill="none" stroke="#0000ff" stroke-width="2.2"/><path d="M1122.0,59.2L1128.1,69.9L1115.8,69.9z" fill="none" stroke="#0000ff" stroke-width="2.2"/><path d="M1135.8,66.7L1141.9,77.3L1129.6,77.3z" fill="none" stroke="#0000ff" stroke-width="2.2"/><path d="M1149.6,72.4L1155.7,83.0L1143.4,83.0z" fill="none" stroke="#0000ff" stroke-width="2.2"/><path d="M1163.3,68.8L1169.5,79.4L1157.2,79.4z" fill="none" stroke="#0000ff" stroke-width="2.2"/><path d="M1177.1,65.4L1183.3,76.1L1171.0,76.1z" fill="none" stroke="#0000ff" stroke-width="2.2"/><path d="M1190.9,70.8L1197.1,81.5L1184.8,81.5z" fill="none" stroke="#0000ff" stroke-width="2.2"/><path d="M1204.7,68.9L1210.8,79.5L1198.5,79.5z" fill="none" stroke="#0000ff" stroke-width="2.2"/><path d="M1218.5,67.8L1224.6,78.4L1212.3,78.4z" fill="none" stroke="#0000ff" stroke-width="2.2"/><path d="M1232.3,73.3L1238.4,84.0L1226.1,84.0z" fill="none" stroke="#0000ff" stroke-width="2.2"/><path d="M1246.1,70.8L1252.2,81.4L1239.9,81.4z" fill="none" stroke="#0000ff" stroke-width="2.2"/><path d="M1259.8,48.7L1266.0,59.4L1253.7,59.4z" fill="none" stroke="#0000ff" stroke-width="2.2"/><path d="M1273.6,60.7L1279.8,71.4L1267.5,71.4z" fill="none" stroke="#0000ff" stroke-width="2.2"/><path d="M1287.4,70.6L1293.6,81.3L1281.3,81.3z" fill="none" stroke="#0000ff" stroke-width="2.2"/><path d="M1301.2,71.3L1307.3,81.9L1295.0,81.9z" fill="none" stroke="#0000ff" stroke-width="2.2"/><path d="M1315.0,74.6L1321.1,85.3L1308.8,85.3z" fill="none" stroke="#0000ff" stroke-width="2.2"/><path d="M1328.8,72.0L1334.9,82.7L1322.6,82.7z" fill="none" stroke="#0000ff" stroke-width="2.2"/><path d="M1342.6,66.6L1348.7,77.2L1336.4,77.2z" fill="none" stroke="#0000ff" stroke-width="2.2"/><path d="M1356.3,70.0L1362.5,80.7L1350.2,80.7z" fill="none" stroke="#0000ff" stroke-width="2.2"/><path d="M1370.1,74.6L1376.3,85.3L1364.0,85.3z" fill="none" stroke="#0000ff" stroke-width="2.2"/><path d="M1383.9,74.8L1390.1,85.4L1377.8,85.4z" fill="none" stroke="#0000ff" stroke-width="2.2"/><path d="M1397.7,59.2L1403.8,69.9L1391.5,69.9z" fill="none" stroke="#0000ff" stroke-width="2.2"/><path d="M1411.5,64.1L1417.6,74.8L1405.3,74.8z" fill="none" stroke="#0000ff" stroke-width="2.2"/></g>
<g><path d="M151.1,827.9L161.7,821.8L161.7,834.1z" fill="none" stroke="#ffff00" stroke-width="2.2"/><path d="M228.5,827.4L239.2,821.3L239.2,833.6z" fill="none" stroke="#ffff00" stroke-width="2.2"/><path d="M273.9,826.8L284.5,820.7L284.5,833.0z" fill="none" stroke="#ffff00" stroke-width="2.2"/><path d="M306.0,826.1L316.7,820.0L316.7,832.3z" fill="none" stroke="#ffff00" stroke-width="2.2"/><path d="M330.9,825.4L341.6,819.2L341.6,831.5z" fill="none" stroke="#ffff00" stroke-width="2.2"/><path d="M351.3,824.6L362.0,818.4L362.0,830.7z" fill="none" stroke="#ffff00" stroke-width="2.2"/><path d="M368.5,823.8L379.2,817.6L379.2,829.9z" fill="none" stroke="#ffff00" stroke-width="2.2"/><path d="M383.5,823.0L394.1,816.8L394.1,829.1z" fill="none" stroke="#ffff00" stroke-width="2.2"/><path d="M396.6,822.2L407.3,816.0L407.3,828.3z" fill="none" stroke="#ffff00" stroke-width="2.2"/><path d="M408.4,821.4L419.0,815.2L419.0,827.5z" fill="none" stroke="#ffff00" stroke-width="2.2"/><path d="M428.8,819.8L439.4,813.6L439.4,825.9z" fill="none" stroke="#ffff00" stroke-width="2.2"/><path d="M437.7,819.0L448.4,812.8L448.4,825.1z" fill="none" stroke="#ffff00" stroke-width="2.2"/><path d="M453.7,817.3L464.3,811.2L464.3,823.5z" fill="none" stroke="#ffff00" stroke-width="2.2"/><path d="M467.7,815.7L478.3,809.6L478.3,821.9z" fill="none" stroke="#ffff00" stroke-width="2.2"/><path d="M480.1,814.1L490.8,808.0L490.8,820.3z" fill="none" stroke="#ffff00" stroke-width="2.2"/><path d="M496.5,811.7L507.1,805.6L507.1,817.9z" fill="none" stroke="#ffff00" stroke-width="2.2"/><path d="M510.8,809.3L521.4,803.2L521.4,815.5z" fill="none" stroke="#ffff00" stroke-width="2.2"/><path d="M523.4,806.9L534.1,800.8L534.1,813.1z" fill="none" stroke="#ffff00" stroke-width="2.2"/><path d="M538.4,803.7L549.0,797.6L549.0,809.9z" fill="none" stroke="#ffff00" stroke-width="2.2"/><path d="M551.5,800.6L562.2,794.4L562.2,806.7z" fill="none" stroke="#ffff00" stroke-width="2.2"/><path d="M563.3,797.4L574.0,791.3L574.0,803.6z" fill="none" stroke="#ffff00" stroke-width="2.2"/><path d="M578.9,792.7L589.6,786.6L589.6,798.9z" fill="none" stroke="#ffff00" stroke-width="2.2"/><path d="M592.6,788.1L603.3,781.9L603.3,794.2z" fill="none" stroke="#ffff00" stroke-width="2.2"/><path d="M604.8,783.4L615.5,777.3L615.5,789.6z" fill="none" stroke="#ffff00" stroke-width="2.2"/><path d="M619.3,777.3L629.9,771.1L629.9,783.4z" fill="none" stroke="#ffff00" stroke-width="2.2"/><path d="M632.0,771.2L642.7,765.1L642.7,777.4z" fill="none" stroke="#ffff00" stroke-width="2.2"/><path d="M646.2,763.7L656.9,757.5L656.9,769.8z" fill="none" stroke="#ffff00" stroke-width="2.2"/><path d="M660.0,755.5L670.6,749.3L670.6,761.6z" fill="none" stroke="#ffff00" stroke-width="2.2"/><path d="M673.2,746.7L683.9,740.5L683.9,752.8z" fill="none" stroke="#ffff00" stroke-width="2.2"/><path d="M687.9,735.8L698.6,729.7L698.6,742.0z" fill="none" stroke="#ffff00" stroke-width="2.2"/><path d="M701.7,724.4L712.3,718.3L712.3,730.6z" fill="none" stroke="#ffff00" stroke-width="2.2"/><path d="M715.4,711.8L726.0,705.7L726.0,718.0z" fill="none" stroke="#ffff00" stroke-width="2.2"/><path d="M728.9,698.2L739.5,692.0L739.5,704.3z" fill="none" stroke="#ffff00" stroke-width="2.2"/><path d="M742.6,682.8L753.2,676.6L753.2,688.9z" fill="none" stroke="#ffff00" stroke-width="2.2"/><path d="M756.3,665.8L767.0,659.7L767.0,672.0z" fill="none" stroke="#ffff00" stroke-width="2.2"/><path d="M770.3,646.9L780.9,640.7L780.9,653.0z" fill="none" stroke="#ffff00" stroke-width="2.2"/><path d="M783.9,626.8L794.5,620.6L794.5,632.9z" fill="none" stroke="#ffff00" stroke-width="2.2"/><path d="M797.7,604.5L808.4,598.3L808.4,610.6z" fill="none" stroke="#ffff00" stroke-width="2.2"/><path d="M811.6,580.3L822.2,574.2L822.2,586.5z" fill="none" stroke="#ffff00" stroke-width="2.2"/><path d="M825.5,554.1L836.2,548.0L836.2,560.3z" fill="none" stroke="#ffff00" stroke-width="2.2"/><path d="M839.1,526.9L849.7,520.7L849.7,533.0z" fill="none" stroke="#ffff00" stroke-width="2.2"/><path d="M852.9,497.5L863.5,491.3L863.5,503.6z" fill="none" stroke="#ffff00" stroke-width="2.2"/><path d="M866.8,466.2L877.5,460.0L877.5,472.3z" fill="none" stroke="#ffff00" stroke-width="2.2"/><path d="M880.5,434.1L891.2,427.9L891.2,440.2z" fill="none" stroke="#ffff00" stroke-width="2.2"/><path d="M894.4,400.7L905.0,394.6L905.0,406.9z" fill="none" stroke="#ffff00" stroke-width="2.2"/><path d="M908.1,367.0L918.7,360.9L918.7,373.2z" fill="none" stroke="#ffff00" stroke-width="2.2"/><path d="M921.9,332.9L932.5,326.7L932.5,339.0z" fill="none" stroke="#ffff00" stroke-width="2.2"/><path d="M935.7,299.1L946.3,293.0L946.3,305.3z" fill="none" stroke="#ffff00" stroke-width="2.2"/><path d="M949.4,266.3L960.1,260.1L960.1,272.4z" fill="none" stroke="#ffff00" stroke-width="2.2"/><path d="M963.3,234.9L973.9,228.7L973.9,241.0z" fill="none" stroke="#ffff00" stroke-width="2.2"/><path d="M977.0,205.7L987.7,199.5L987.7,211.8z" fill="none" stroke="#ffff00" stroke-width="2.2"/><path d="M990.8,179.1L1001.5,173.0L1001.5,185.3z" fill="none" stroke="#ffff00" stroke-width="2.2"/><path d="M1004.6,155.6L1015.3,149.5L1015.3,161.8z" fill="none" stroke="#ffff00" stroke-width="2.2"/><path d="M1018.4,135.6L1029.0,129.5L1029.0,141.8z" fill="none" stroke="#ffff00" stroke-width="2.2"/><path d="M1032.2,119.0L1042.8,112.8L1042.8,125.1z" fill="none" stroke="#ffff00" stroke-width="2.2"/><path d="M1046.0,105.9L1056.6,99.7L1056.6,112.0z" fill="none" stroke="#ffff00" stroke-width="2.2"/><path d="M1059.7,96.0L1070.4,89.9L1070.4,102.2z" fill="none" stroke="#ffff00" stroke-width="2.2"/><path d="M1073.5,88.9L1084.2,82.7L1084.2,95.0z" fill="none" stroke="#ffff00" stroke-width="2.2"/><path d="M1087.3,84.1L1098.0,78.0L1098.0,90.3z" fill="none" stroke="#ffff00" stroke-width="2.2"/><path d="M1101.1,81.1L1111.8,74.9L1111.8,87.2z" fill="none" stroke="#ffff00" stroke-width="2.2"/><path d="M1114.9,80.0L1125.5,73.9L1125.5,86.2z" fill="none" stroke="#ffff00" stroke-width="2.2"/><path d="M1128.7,77.6L1139.3,71.5L1139.3,83.8z" fill="none" stroke="#ffff00" stroke-width="2.2"/><path d="M1142.5,79.3L1153.1,73.2L1153.1,85.5z" fill="none" stroke="#ffff00" stroke-width="2.2"/><path d="M1156.2,82.0L1166.9,75.9L1166.9,88.2z" fill="none" stroke="#ffff00" stroke-width="2.2"/><path d="M1170.0,79.8L1180.7,73.6L1180.7,85.9z" fill="none" stroke="#ffff00" stroke-width="2.2"/><path d="M1183.8,73.6L1194.5,67.4L1194.5,79.7z" fill="none" stroke="#ffff00" stroke-width="2.2"/><path d="M1197.6,78.8L1208.2,72.6L1208.2,84.9z" fill="none" stroke="#ffff00" stroke-width="2.2"/><path d="M1211.4,81.9L1222.0,75.7L1222.0,88.0z" fill="none" stroke="#ffff00" stroke-width="2.2"/><path d="M1225.2,80.1L1235.8,73.9L1235.8,86.2z" fill="none" stroke="#ffff00" stroke-width="2.2"/><path d="M1239.0,75.8L1249.6,69.7L1249.6,82.0z" fill="none" stroke="#ffff00" stroke-width="2.2"/><path d="M1252.7,75.8L1263.4,69.7L1263.4,82.0z" fill="none" stroke="#ffff00" stroke-width="2.2"/><path d="M1266.5,76.9L1277.2,70.8L1277.2,83.1z" fill="none" stroke="#ffff00" stroke-width="2.2"/><path d="M1280.3,71.9L1291.0,65.7L1291.0,78.0z" fill="none" stroke="#ffff00" stroke-width="2.2"/><path d="M1294.1,74.7L1304.8,68.6L1304.8,80.9z" fill="none" stroke="#ffff00" stroke-width="2.2"/><path d="M1307.9,77.7L1318.5,71.5L1318.5,83.8z" fill="none" stroke="#ffff00" stroke-width="2.2"/><path d="M1321.7,75.0L1332.3,68.8L1332.3,81.1z" fill="none" stroke="#ffff00" stroke-width="2.2"/><path d="M1335.5,59.6L1346.1,53.4L1346.1,65.7z" fill="none" stroke="#ffff00" stroke-width="2.2"/><path d="M1349.2,72.9L1359.9,66.7L1359.9,79.0z" fill="none" stroke="#ffff00" stroke-width="2.2"/><path d="M1363.0,64.1L1373.7,57.9L1373.7,70.2z" fill="none" stroke="#ffff00" stroke-width="2.2"/><path d="M1376.8,83.4L1387.5,77.2L1387.5,89.5z" fill="none" stroke="#ffff00" stroke-width="2.2"/><path d="M1390.6,78.4L1401.2,72.3L1401.2,84.6z" fill="none" stroke="#ffff00" stroke-width="2.2"/><path d="M1404.4,73.3L1415.0,67.1L1415.0,79.4z" fill="none" stroke="#ffff00" stroke-width="2.2"/></g>
<g><path d="M158.2,835.0L164.3,824.4L152.0,824.4z" fill="none" stroke="#bc8f8f" stroke-width="2.2"/><path d="M235.6,834.6L241.8,823.9L229.5,823.9z" fill="none" stroke="#bc8f8f" stroke-width="2.2"/><path d="M281.0,834.0L287.1,823.4L274.8,823.4z" fill="none" stroke="#bc8f8f" stroke-width="2.2"/><path d="M313.1,833.4L319.2,822.8L307.0,822.8z" fill="none" stroke="#bc8f8f" stroke-width="2.2"/><path d="M338.0,832.8L344.2,822.1L331.9,822.1z" fill="none" stroke="#bc8f8f" stroke-width="2.2"/><path d="M358.4,832.1L364.6,821.5L352.3,821.5z" fill="none" stroke="#bc8f8f" stroke-width="2.2"/><path d="M375.6,831.5L381.8,820.8L369.5,820.8z" fill="none" stroke="#bc8f8f" stroke-width="2.2"/><path d="M390.6,830.8L396.7,820.1L384.4,820.1z" fill="none" stroke="#bc8f8f" stroke-width="2.2"/><path d="M403.7,830.1L409.9,819.5L397.6,819.5z" fill="none" stroke="#bc8f8f" stroke-width="2.2"/><path d="M415.5,829.5L421.6,818.8L409.3,818.8z" fill="none" stroke="#bc8f8f" stroke-width="2.2"/><path d="M435.9,828.1L442.0,817.5L429.7,817.5z" fill="none" stroke="#bc8f8f" stroke-width="2.2"/><path d="M444.8,827.5L451.0,816.8L438.7,816.8z" fill="none" stroke="#bc8f8f" stroke-width="2.2"/><path d="M460.8,826.1L466.9,815.5L454.6,815.5z" fill="none" stroke="#bc8f8f" stroke-width="2.2"/><path d="M474.8,824.8L480.9,814.2L468.6,814.2z" fill="none" stroke="#bc8f8f" stroke-width="2.2"/><path d="M487.2,823.5L493.4,812.8L481.1,812.8z" fill="none" stroke="#bc8f8f" stroke-width="2.2"/><path d="M503.6,821.5L509.7,810.8L497.4,810.8z" fill="none" stroke="#bc8f8f" stroke-width="2.2"/><path d="M517.9,819.5L524.0,808.9L511.7,808.9z" fill="none" stroke="#bc8f8f" stroke-width="2.2"/><path d="M530.5,817.5L536.7,806.9L524.4,806.9z" fill="none" stroke="#bc8f8f" stroke-width="2.2"/><path d="M545.5,814.9L551.6,804.3L539.3,804.3z" fill="none" stroke="#bc8f8f" stroke-width="2.2"/><path d="M558.6,812.3L564.8,801.6L552.5,801.6z" fill="none" stroke="#bc8f8f" stroke-width="2.2"/><path d="M570.4,809.7L576.6,799.0L564.3,799.0z" fill="none" stroke="#bc8f8f" stroke-width="2.2"/><path d="M586.0,805.8L592.2,795.1L579.9,795.1z" fill="none" stroke="#bc8f8f" stroke-width="2.2"/><path d="M599.7,801.9L605.9,791.3L593.6,791.3z" fill="none" stroke="#bc8f8f" stroke-width="2.2"/><path d="M611.9,798.1L618.1,787.4L605.8,787.4z" fill="none" stroke="#bc8f8f" stroke-width="2.2"/><path d="M626.4,793.0L632.5,782.3L620.2,782.3z" fill="none" stroke="#bc8f8f" stroke-width="2.2"/><path d="M639.1,787.9L645.3,777.3L633.0,777.3z" fill="none" stroke="#bc8f8f" stroke-width="2.2"/><path d="M653.3,781.6L659.5,771.0L647.2,771.0z" fill="none" stroke="#bc8f8f" stroke-width="2.2"/><path d="M667.1,774.8L673.2,764.1L660.9,764.1z" fill="none" stroke="#bc8f8f" stroke-width="2.2"/><path d="M680.4,767.4L686.5,756.7L674.2,756.7z" fill="none" stroke="#bc8f8f" stroke-width="2.2"/><path d="M695.0,758.3L701.2,747.6L688.9,747.6z" fill="none" stroke="#bc8f8f" stroke-width="2.2"/><path d="M708.8,748.7L714.9,738.0L702.6,738.0z" fill="none" stroke="#bc8f8f" stroke-width="2.2"/><path d="M722.5,738.0L728.6,727.4L716.3,727.4z" fill="none" stroke="#bc8f8f" stroke-width="2.2"/><path d="M736.0,726.4L742.1,715.7L729.8,715.7z" fill="none" stroke="#bc8f8f" stroke-width="2.2"/><path d="M749.7,713.2L755.8,702.5L743.5,702.5z" fill="none" stroke="#bc8f8f" stroke-width="2.2"/><path d="M763.4,698.6L769.6,688.0L757.3,688.0z" fill="none" stroke="#bc8f8f" stroke-width="2.2"/><path d="M777.4,682.2L783.5,671.5L771.2,671.5z" fill="none" stroke="#bc8f8f" stroke-width="2.2"/><path d="M791.0,664.5L797.1,653.9L784.8,653.9z" fill="none" stroke="#bc8f8f" stroke-width="2.2"/><path d="M804.8,644.8L811.0,634.2L798.7,634.2z" fill="none" stroke="#bc8f8f" stroke-width="2.2"/><path d="M818.7,623.3L824.8,612.6L812.5,612.6z" fill="none" stroke="#bc8f8f" stroke-width="2.2"/><path d="M832.6,599.7L838.8,589.1L826.5,589.1z" fill="none" stroke="#bc8f8f" stroke-width="2.2"/><path d="M846.2,575.0L852.3,564.3L840.0,564.3z" fill="none" stroke="#bc8f8f" stroke-width="2.2"/><path d="M860.0,548.1L866.1,537.4L853.8,537.4z" fill="none" stroke="#bc8f8f" stroke-width="2.2"/><path d="M873.9,519.2L880.1,508.5L867.8,508.5z" fill="none" stroke="#bc8f8f" stroke-width="2.2"/><path d="M887.6,489.3L893.8,478.6L881.5,478.6z" fill="none" stroke="#bc8f8f" stroke-width="2.2"/><path d="M901.5,458.0L907.6,447.3L895.3,447.3z" fill="none" stroke="#bc8f8f" stroke-width="2.2"/><path d="M915.2,426.0L921.3,415.4L909.0,415.4z" fill="none" stroke="#bc8f8f" stroke-width="2.2"/><path d="M929.0,393.4L935.1,382.7L922.8,382.7z" fill="none" stroke="#bc8f8f" stroke-width="2.2"/><path d="M942.8,360.8L948.9,350.1L936.6,350.1z" fill="none" stroke="#bc8f8f" stroke-width="2.2"/><path d="M956.5,328.7L962.7,318.0L950.4,318.0z" fill="none" stroke="#bc8f8f" stroke-width="2.2"/><path d="M970.4,297.4L976.5,286.8L964.2,286.8z" fill="none" stroke="#bc8f8f" stroke-width="2.2"/><path d="M984.1,267.7L990.3,257.1L978.0,257.1z" fill="none" stroke="#bc8f8f" stroke-width="2.2"/><path d="M997.9,239.7L1004.1,229.0L991.8,229.0z" fill="none" stroke="#bc8f8f" stroke-width="2.2"/><path d="M1011.7,213.5L1017.9,202.8L1005.6,202.8z" fill="none" stroke="#bc8f8f" stroke-width="2.2"/><path d="M1025.5,189.4L1031.6,178.8L1019.3,178.8z" fill="none" stroke="#bc8f8f" stroke-width="2.2"/><path d="M1039.3,167.5L1045.4,156.8L1033.1,156.8z" fill="none" stroke="#bc8f8f" stroke-width="2.2"/><path d="M1053.1,148.0L1059.2,137.3L1046.9,137.3z" fill="none" stroke="#bc8f8f" stroke-width="2.2"/><path d="M1066.8,131.1L1073.0,120.5L1060.7,120.5z" fill="none" stroke="#bc8f8f" stroke-width="2.2"/><path d="M1080.6,117.1L1086.8,106.4L1074.5,106.4z" fill="none" stroke="#bc8f8f" stroke-width="2.2"/><path d="M1094.4,106.0L1100.6,95.4L1088.3,95.4z" fill="none" stroke="#bc8f8f" stroke-width="2.2"/><path d="M1108.2,97.9L1114.4,87.2L1102.1,87.2z" fill="none" stroke="#bc8f8f" stroke-width="2.2"/><path d="M1122.0,92.2L1128.1,81.6L1115.8,81.6z" fill="none" stroke="#bc8f8f" stroke-width="2.2"/><path d="M1135.8,88.7L1141.9,78.0L1129.6,78.0z" fill="none" stroke="#bc8f8f" stroke-width="2.2"/><path d="M1149.6,87.6L1155.7,77.0L1143.4,77.0z" fill="none" stroke="#bc8f8f" stroke-width="2.2"/><path d="M1163.3,86.9L1169.5,76.2L1157.2,76.2z" fill="none" stroke="#bc8f8f" stroke-width="2.2"/><path d="M1177.1,70.4L1183.3,59.8L1171.0,59.8z" fill="none" stroke="#bc8f8f" stroke-width="2.2"/><path d="M1190.9,84.8L1197.1,74.2L1184.8,74.2z" fill="none" stroke="#bc8f8f" stroke-width="2.2"/><path d="M1204.7,83.5L1210.8,72.9L1198.5,72.9z" fill="none" stroke="#bc8f8f" stroke-width="2.2"/><path d="M1218.5,89.6L1224.6,79.0L1212.3,79.0z" fill="none" stroke="#bc8f8f" stroke-width="2.2"/><path d="M1232.3,88.9L1238.4,78.3L1226.1,78.3z" fill="none" stroke="#bc8f8f" stroke-width="2.2"/><path d="M1246.1,96.0L1252.2,85.3L1239.9,85.3z" fill="none" stroke="#bc8f8f" stroke-width="2.2"/><path d="M1259.8,85.4L1266.0,74.8L1253.7,74.8z" fill="none" stroke="#bc8f8f" stroke-width="2.2"/><path d="M1273.6,85.9L1279.8,75.3L1267.5,75.3z" fill="none" stroke="#bc8f8f" stroke-width="2.2"/><path d="M1287.4,85.0L1293.6,74.3L1281.3,74.3z" fill="none" stroke="#bc8f8f" stroke-width="2.2"/><path d="M1301.2,87.9L1307.3,77.3L1295.0,77.3z" fill="none" stroke="#bc8f8f" stroke-width="2.2"/><path d="M1315.0,81.6L1321.1,71.0L1308.8,71.0z" fill="none" stroke="#bc8f8f" stroke-width="2.2"/><path d="M1328.8,83.1L1334.9,72.4L1322.6,72.4z" fill="none" stroke="#bc8f8f" stroke-width="2.2"/><path d="M1342.6,85.1L1348.7,74.5L1336.4,74.5z" fill="none" stroke="#bc8f8f" stroke-width="2.2"/><path d="M1356.3,88.1L1362.5,77.5L1350.2,77.5z" fill="none" stroke="#bc8f8f" stroke-width="2.2"/><path d="M1370.1,85.6L1376.3,75.0L1364.0,75.0z" fill="none" stroke="#bc8f8f" stroke-width="2.2"/><path d="M1383.9,99.9L1390.1,89.3L1377.8,89.3z" fill="none" stroke="#bc8f8f" stroke-width="2.2"/><path d="M1397.7,90.5L1403.8,79.8L1391.5,79.8z" fill="none" stroke="#bc8f8f" stroke-width="2.2"/><path d="M1411.5,84.5L1417.6,73.8L1405.3,73.8z" fill="none" stroke="#bc8f8f" stroke-width="2.2"/></g>
<g><path d="M165.3,827.9L154.6,821.8L154.6,834.1z" fill="none" stroke="#670748" stroke-width="2.2"/><path d="M242.7,827.5L232.1,821.4L232.1,833.7z" fill="none" stroke="#670748" stroke-width="2.2"/><path d="M288.1,827.1L277.4,820.9L277.4,833.2z" fill="none" stroke="#670748" stroke-width="2.2"/><path d="M320.2,826.6L309.5,820.4L309.5,832.7z" fill="none" stroke="#670748" stroke-width="2.2"/><path d="M345.1,826.1L334.5,819.9L334.5,832.2z" fill="none" stroke="#670748" stroke-width="2.2"/><path d="M365.5,825.6L354.9,819.4L354.9,831.7z" fill="none" stroke="#670748" stroke-width="2.2"/><path d="M382.7,825.0L372.1,818.9L372.1,831.2z" fill="none" stroke="#670748" stroke-width="2.2"/><path d="M397.7,824.5L387.0,818.4L387.0,830.7z" fill="none" stroke="#670748" stroke-width="2.2"/><path d="M410.8,824.0L400.2,817.9L400.2,830.2z" fill="none" stroke="#670748" stroke-width="2.2"/><path d="M422.6,823.5L411.9,817.3L411.9,829.6z" fill="none" stroke="#670748" stroke-width="2.2"/><path d="M443.0,822.4L432.3,816.3L432.3,828.6z" fill="none" stroke="#670748" stroke-width="2.2"/><path d="M451.9,821.9L441.3,815.8L441.3,828.1z" fill="none" stroke="#670748" stroke-width="2.2"/><path d="M467.9,820.9L457.2,814.7L457.2,827.0z" fill="none" stroke="#670748" stroke-width="2.2"/><path d="M481.9,819.9L471.2,813.7L471.2,826.0z" fill="none" stroke="#670748" stroke-width="2.2"/><path d="M494.3,818.8L483.7,812.7L483.7,825.0z" fill="none" stroke="#670748" stroke-width="2.2"/><path d="M510.7,817.3L500.0,811.1L500.0,823.4z" fill="none" stroke="#670748" stroke-width="2.2"/><path d="M525.0,815.7L514.3,809.6L514.3,821.9z" fill="none" stroke="#670748" stroke-width="2.2"/><path d="M537.6,814.2L527.0,808.1L527.0,820.4z" fill="none" stroke="#670748" stroke-width="2.2"/><path d="M552.6,812.2L541.9,806.0L541.9,818.3z" fill="none" stroke="#670748" stroke-width="2.2"/><path d="M565.7,810.1L555.1,804.0L555.1,816.3z" fill="none" stroke="#670748" stroke-width="2.2"/><path d="M577.5,808.1L566.8,801.9L566.8,814.2z" fill="none" stroke="#670748" stroke-width="2.2"/><path d="M593.1,805.0L582.5,798.9L582.5,811.2z" fill="none" stroke="#670748" stroke-width="2.2"/><path d="M606.8,802.0L596.2,795.9L596.2,808.2z" fill="none" stroke="#670748" stroke-width="2.2"/><path d="M619.0,799.0L608.4,792.9L608.4,805.2z" fill="none" stroke="#670748" stroke-width="2.2"/><path d="M633.5,795.0L622.8,788.9L622.8,801.2z" fill="none" stroke="#670748" stroke-width="2.2"/><path d="M646.2,791.0L635.6,784.9L635.6,797.2z" fill="none" stroke="#670748" stroke-width="2.2"/><path d="M660.4,786.1L649.8,779.9L649.8,792.2z" fill="none" stroke="#670748" stroke-width="2.2"/><path d="M674.2,780.7L663.5,774.5L663.5,786.8z" fill="none" stroke="#670748" stroke-width="2.2"/><path d="M687.5,774.8L676.8,768.7L676.8,781.0z" fill="none" stroke="#670748" stroke-width="2.2"/><path d="M702.1,767.6L691.5,761.5L691.5,773.8z" fill="none" stroke="#670748" stroke-width="2.2"/><path d="M715.9,760.0L705.2,753.8L705.2,766.1z" fill="none" stroke="#670748" stroke-width="2.2"/><path d="M729.6,751.5L718.9,745.3L718.9,757.6z" fill="none" stroke="#670748" stroke-width="2.2"/><path d="M743.1,742.2L732.4,736.0L732.4,748.3z" fill="none" stroke="#670748" stroke-width="2.2"/><path d="M756.8,731.6L746.1,725.5L746.1,737.8z" fill="none" stroke="#670748" stroke-width="2.2"/><path d="M770.5,719.9L759.9,713.7L759.9,726.0z" fill="none" stroke="#670748" stroke-width="2.2"/><path d="M784.5,706.6L773.8,700.5L773.8,712.8z" fill="none" stroke="#670748" stroke-width="2.2"/><path d="M798.1,692.3L787.4,686.1L787.4,698.4z" fill="none" stroke="#670748" stroke-width="2.2"/><path d="M811.9,676.2L801.3,670.0L801.3,682.3z" fill="none" stroke="#670748" stroke-width="2.2"/><path d="M825.8,658.5L815.1,652.3L815.1,664.6z" fill="none" stroke="#670748" stroke-width="2.2"/><path d="M839.7,638.9L829.1,632.7L829.1,645.0z" fill="none" stroke="#670748" stroke-width="2.2"/><path d="M853.3,618.0L842.6,611.8L842.6,624.1z" fill="none" stroke="#670748" stroke-width="2.2"/><path d="M867.1,595.0L856.4,588.8L856.4,601.1z" fill="none" stroke="#670748" stroke-width="2.2"/><path d="M881.0,569.8L870.4,563.7L870.4,576.0z" fill="none" stroke="#670748" stroke-width="2.2"/><path d="M894.8,543.3L884.1,537.1L884.1,549.4z" fill="none" stroke="#670748" stroke-width="2.2"/><path d="M908.6,514.8L897.9,508.6L897.9,520.9z" fill="none" stroke="#670748" stroke-width="2.2"/><path d="M922.3,485.0L911.6,478.8L911.6,491.1z" fill="none" stroke="#670748" stroke-width="2.2"/><path d="M936.1,453.5L925.4,447.4L925.4,459.7z" fill="none" stroke="#670748" stroke-width="2.2"/><path d="M949.9,421.0L939.2,414.9L939.2,427.2z" fill="none" stroke="#670748" stroke-width="2.2"/><path d="M963.6,387.8L953.0,381.6L953.0,393.9z" fill="none" stroke="#670748" stroke-width="2.2"/><path d="M977.5,354.1L966.8,347.9L966.8,360.2z" fill="none" stroke="#670748" stroke-width="2.2"/><path d="M991.2,320.8L980.6,314.6L980.6,326.9z" fill="none" stroke="#670748" stroke-width="2.2"/><path d="M1005.0,288.2L994.4,282.1L994.4,294.4z" fill="none" stroke="#670748" stroke-width="2.2"/><path d="M1018.8,257.0L1008.2,250.9L1008.2,263.2z" fill="none" stroke="#670748" stroke-width="2.2"/><path d="M1032.6,227.7L1021.9,221.6L1021.9,233.9z" fill="none" stroke="#670748" stroke-width="2.2"/><path d="M1046.4,200.6L1035.7,194.4L1035.7,206.7z" fill="none" stroke="#670748" stroke-width="2.2"/><path d="M1060.2,176.0L1049.5,169.8L1049.5,182.1z" fill="none" stroke="#670748" stroke-width="2.2"/><path d="M1073.9,154.1L1063.3,148.0L1063.3,160.3z" fill="none" stroke="#670748" stroke-width="2.2"/><path d="M1087.7,135.1L1077.1,128.9L1077.1,141.2z" fill="none" stroke="#670748" stroke-width="2.2"/><path d="M1101.5,119.1L1090.9,112.9L1090.9,125.2z" fill="none" stroke="#670748" stroke-width="2.2"/><path d="M1115.3,106.1L1104.6,100.0L1104.6,112.3z" fill="none" stroke="#670748" stroke-width="2.2"/><path d="M1129.1,96.2L1118.4,90.0L1118.4,102.3z" fill="none" stroke="#670748" stroke-width="2.2"/><path d="M1142.9,88.9L1132.2,82.8L1132.2,95.1z" fill="none" stroke="#670748" stroke-width="2.2"/><path d="M1156.7,84.0L1146.0,77.9L1146.0,90.2z" fill="none" stroke="#670748" stroke-width="2.2"/><path d="M1170.4,64.2L1159.8,58.1L1159.8,70.4z" fill="none" stroke="#670748" stroke-width="2.2"/><path d="M1184.2,66.3L1173.6,60.2L1173.6,72.5z" fill="none" stroke="#670748" stroke-width="2.2"/><path d="M1198.0,77.4L1187.4,71.2L1187.4,83.5z" fill="none" stroke="#670748" stroke-width="2.2"/><path d="M1211.8,75.6L1201.1,69.4L1201.1,81.7z" fill="none" stroke="#670748" stroke-width="2.2"/><path d="M1225.6,77.7L1214.9,71.6L1214.9,83.9z" fill="none" stroke="#670748" stroke-width="2.2"/><path d="M1239.4,79.5L1228.7,73.4L1228.7,85.7z" fill="none" stroke="#670748" stroke-width="2.2"/><path d="M1253.2,74.8L1242.5,68.7L1242.5,81.0z" fill="none" stroke="#670748" stroke-width="2.2"/><path d="M1266.9,77.8L1256.3,71.6L1256.3,83.9z" fill="none" stroke="#670748" stroke-width="2.2"/><path d="M1280.7,76.4L1270.1,70.2L1270.1,82.5z" fill="none" stroke="#670748" stroke-width="2.2"/><path d="M1294.5,90.7L1283.9,84.6L1283.9,96.9z" fill="none" stroke="#670748" stroke-width="2.2"/><path d="M1308.3,92.6L1297.6,86.5L1297.6,98.8z" fill="none" stroke="#670748" stroke-width="2.2"/><path d="M1322.1,88.1L1311.4,82.0L1311.4,94.3z" fill="none" stroke="#670748" stroke-width="2.2"/><path d="M1335.9,91.9L1325.2,85.7L1325.2,98.0z" fill="none" stroke="#670748" stroke-width="2.2"/><path d="M1349.7,90.7L1339.0,84.6L1339.0,96.9z" fill="none" stroke="#670748" stroke-width="2.2"/><path d="M1363.4,73.4L1352.8,67.3L1352.8,79.6z" fill="none" stroke="#670748" stroke-width="2.2"/><path d="M1377.2,81.2L1366.6,75.1L1366.6,87.4z" fill="none" stroke="#670748" stroke-width="2.2"/><path d="M1391.0,77.9L1380.4,71.7L1380.4,84.0z" fill="none" stroke="#670748" stroke-width="2.2"/><path d="M1404.8,88.4L1394.1,82.2L1394.1,94.5z" fill="none" stroke="#670748" stroke-width="2.2"/><path d="M1418.6,66.0L1407.9,59.9L1407.9,72.2z" fill="none" stroke="#670748" stroke-width="2.2"/></g>
<g><path d="M151.9,827.9h12.6M158.2,821.6v12.6" fill="none" stroke="#9400d3" stroke-width="2.2"/><path d="M229.3,827.6h12.6M235.6,821.3v12.6" fill="none" stroke="#9400d3" stroke-width="2.2"/><path d="M274.7,827.2h12.6M281.0,820.9v12.6" fill="none" stroke="#9400d3" stroke-width="2.2"/><path d="M306.8,826.8h12.6M313.1,820.5v12.6" fill="none" stroke="#9400d3" stroke-width="2.2"/><path d="M331.7,826.4h12.6M338.0,820.1v12.6" fill="none" stroke="#9400d3" stroke-width="2.2"/><path d="M352.1,826.0h12.6M358.4,819.7v12.6" fill="none" stroke="#9400d3" stroke-width="2.2"/><path d="M369.3,825.6h12.6M375.6,819.3v12.6" fill="none" stroke="#9400d3" stroke-width="2.2"/><path d="M384.3,825.2h12.6M390.6,818.9v12.6" fill="none" stroke="#9400d3" stroke-width="2.2"/><path d="M397.4,824.8h12.6M403.7,818.5v12.6" fill="none" stroke="#9400d3" stroke-width="2.2"/><path d="M409.2,824.3h12.6M415.5,818.0v12.6" fill="none" stroke="#9400d3" stroke-width="2.2"/><path d="M429.6,823.5h12.6M435.9,817.2v12.6" fill="none" stroke="#9400d3" stroke-width="2.2"/><path d="M438.5,823.1h12.6M444.8,816.8v12.6" fill="none" stroke="#9400d3" stroke-width="2.2"/><path d="M454.5,822.3h12.6M460.8,816.0v12.6" fill="none" stroke="#9400d3" stroke-width="2.2"/><path d="M468.5,821.5h12.6M474.8,815.2v12.6" fill="none" stroke="#9400d3" stroke-width="2.2"/><path d="M480.9,820.7h12.6M487.2,814.4v12.6" fill="none" stroke="#9400d3" stroke-width="2.2"/><path d="M497.3,819.4h12.6M503.6,813.1v12.6" fill="none" stroke="#9400d3" stroke-width="2.2"/><path d="M511.6,818.2h12.6M517.9,811.9v12.6" fill="none" stroke="#9400d3" stroke-width="2.2"/><path d="M524.2,817.0h12.6M530.5,810.7v12.6" fill="none" stroke="#9400d3" stroke-width="2.2"/><path d="M539.2,815.4h12.6M545.5,809.1v12.6" fill="none" stroke="#9400d3" stroke-width="2.2"/><path d="M552.3,813.7h12.6M558.6,807.4v12.6" fill="none" stroke="#9400d3" stroke-width="2.2"/><path d="M564.1,812.1h12.6M570.4,805.8v12.6" fill="none" stroke="#9400d3" stroke-width="2.2"/><path d="M579.7,809.7h12.6M586.0,803.4v12.6" fill="none" stroke="#9400d3" stroke-width="2.2"/><path d="M593.4,807.3h12.6M599.7,801.0v12.6" fill="none" stroke="#9400d3" stroke-width="2.2"/><path d="M605.6,804.9h12.6M611.9,798.6v12.6" fill="none" stroke="#9400d3" stroke-width="2.2"/><path d="M620.1,801.7h12.6M626.4,795.4v12.6" fill="none" stroke="#9400d3" stroke-width="2.2"/><path d="M632.8,798.5h12.6M639.1,792.2v12.6" fill="none" stroke="#9400d3" stroke-width="2.2"/><path d="M647.0,794.6h12.6M653.3,788.3v12.6" fill="none" stroke="#9400d3" stroke-width="2.2"/><path d="M660.8,790.2h12.6M667.1,783.9v12.6" fill="none" stroke="#9400d3" stroke-width="2.2"/><path d="M674.1,785.5h12.6M680.4,779.2v12.6" fill="none" stroke="#9400d3" stroke-width="2.2"/><path d="M688.7,779.7h12.6M695.0,773.4v12.6" fill="none" stroke="#9400d3" stroke-width="2.2"/><path d="M702.5,773.6h12.6M708.8,767.3v12.6" fill="none" stroke="#9400d3" stroke-width="2.2"/><path d="M716.2,766.7h12.6M722.5,760.4v12.6" fill="none" stroke="#9400d3" stroke-width="2.2"/><path d="M729.7,759.2h12.6M736.0,752.9v12.6" fill="none" stroke="#9400d3" stroke-width="2.2"/><path d="M743.4,750.6h12.6M749.7,744.3v12.6" fill="none" stroke="#9400d3" stroke-width="2.2"/><path d="M757.1,741.0h12.6M763.4,734.7v12.6" fill="none" stroke="#9400d3" stroke-width="2.2"/><path d="M771.1,730.2h12.6M777.4,723.9v12.6" fill="none" stroke="#9400d3" stroke-width="2.2"/><path d="M784.7,718.4h12.6M791.0,712.1v12.6" fill="none" stroke="#9400d3" stroke-width="2.2"/><path d="M798.5,705.1h12.6M804.8,698.8v12.6" fill="none" stroke="#9400d3" stroke-width="2.2"/><path d="M812.4,690.3h12.6M818.7,684.0v12.6" fill="none" stroke="#9400d3" stroke-width="2.2"/><path d="M826.3,673.9h12.6M832.6,667.6v12.6" fill="none" stroke="#9400d3" stroke-width="2.2"/><path d="M839.9,656.2h12.6M846.2,649.9v12.6" fill="none" stroke="#9400d3" stroke-width="2.2"/><path d="M853.7,636.5h12.6M860.0,630.2v12.6" fill="none" stroke="#9400d3" stroke-width="2.2"/><path d="M867.6,614.8h12.6M873.9,608.5v12.6" fill="none" stroke="#9400d3" stroke-width="2.2"/><path d="M881.3,591.5h12.6M887.6,585.2v12.6" fill="none" stroke="#9400d3" stroke-width="2.2"/><path d="M895.2,566.3h12.6M901.5,560.0v12.6" fill="none" stroke="#9400d3" stroke-width="2.2"/><path d="M908.9,539.4h12.6M915.2,533.1v12.6" fill="none" stroke="#9400d3" stroke-width="2.2"/><path d="M922.7,510.7h12.6M929.0,504.4v12.6" fill="none" stroke="#9400d3" stroke-width="2.2"/><path d="M936.5,480.6h12.6M942.8,474.3v12.6" fill="none" stroke="#9400d3" stroke-width="2.2"/><path d="M950.2,449.2h12.6M956.5,442.9v12.6" fill="none" stroke="#9400d3" stroke-width="2.2"/><path d="M964.1,416.7h12.6M970.4,410.4v12.6" fill="none" stroke="#9400d3" stroke-width="2.2"/><path d="M977.8,383.8h12.6M984.1,377.5v12.6" fill="none" stroke="#9400d3" stroke-width="2.2"/><path d="M991.6,350.6h12.6M997.9,344.3v12.6" fill="none" stroke="#9400d3" stroke-width="2.2"/><path d="M1005.4,317.7h12.6M1011.7,311.4v12.6" fill="none" stroke="#9400d3" stroke-width="2.2"/><path d="M1019.2,285.8h12.6M1025.5,279.5v12.6" fill="none" stroke="#9400d3" stroke-width="2.2"/><path d="M1033.0,255.4h12.6M1039.3,249.1v12.6" fill="none" stroke="#9400d3" stroke-width="2.2"/><path d="M1046.8,227.1h12.6M1053.1,220.8v12.6" fill="none" stroke="#9400d3" stroke-width="2.2"/><path d="M1060.5,201.3h12.6M1066.8,195.0v12.6" fill="none" stroke="#9400d3" stroke-width="2.2"/><path d="M1074.3,177.8h12.6M1080.6,171.5v12.6" fill="none" stroke="#9400d3" stroke-width="2.2"/><path d="M1088.1,156.3h12.6M1094.4,150.0v12.6" fill="none" stroke="#9400d3" stroke-width="2.2"/><path d="M1101.9,136.9h12.6M1108.2,130.6v12.6" fill="none" stroke="#9400d3" stroke-width="2.2"/><path d="M1115.7,120.0h12.6M1122.0,113.7v12.6" fill="none" stroke="#9400d3" stroke-width="2.2"/><path d="M1129.5,116.3h12.6M1135.8,110.0v12.6" fill="none" stroke="#9400d3" stroke-width="2.2"/><path d="M1143.3,114.1h12.6M1149.6,107.8v12.6" fill="none" stroke="#9400d3" stroke-width="2.2"/><path d="M1157.0,105.7h12.6M1163.3,99.4v12.6" fill="none" stroke="#9400d3" stroke-width="2.2"/><path d="M1170.8,96.4h12.6M1177.1,90.1v12.6" fill="none" stroke="#9400d3" stroke-width="2.2"/><path d="M1184.6,80.5h12.6M1190.9,74.2v12.6" fill="none" stroke="#9400d3" stroke-width="2.2"/><path d="M1198.4,77.2h12.6M1204.7,70.9v12.6" fill="none" stroke="#9400d3" stroke-width="2.2"/><path d="M1212.2,77.7h12.6M1218.5,71.4v12.6" fill="none" stroke="#9400d3" stroke-width="2.2"/><path d="M1226.0,76.0h12.6M1232.3,69.7v12.6" fill="none" stroke="#9400d3" stroke-width="2.2"/><path d="M1239.8,64.1h12.6M1246.1,57.8v12.6" fill="none" stroke="#9400d3" stroke-width="2.2"/><path d="M1253.5,61.5h12.6M1259.8,55.2v12.6" fill="none" stroke="#9400d3" stroke-width="2.2"/><path d="M1267.3,64.1h12.6M1273.6,57.8v12.6" fill="none" stroke="#9400d3" stroke-width="2.2"/><path d="M1281.1,85.4h12.6M1287.4,79.1v12.6" fill="none" stroke="#9400d3" stroke-width="2.2"/><path d="M1294.9,71.0h12.6M1301.2,64.7v12.6" fill="none" stroke="#9400d3" stroke-width="2.2"/><path d="M1308.7,73.3h12.6M1315.0,67.0v12.6" fill="none" stroke="#9400d3" stroke-width="2.2"/><path d="M1322.5,96.4h12.6M1328.8,90.1v12.6" fill="none" stroke="#9400d3" stroke-width="2.2"/><path d="M1336.3,73.7h12.6M1342.6,67.4v12.6" fill="none" stroke="#9400d3" stroke-width="2.2"/><path d="M1350.0,78.3h12.6M1356.3,72.0v12.6" fill="none" stroke="#9400d3" stroke-width="2.2"/><path d="M1363.8,75.0h12.6M1370.1,68.7v12.6" fill="none" stroke="#9400d3" stroke-width="2.2"/><path d="M1377.6,75.4h12.6M1383.9,69.1v12.6" fill="none" stroke="#9400d3" stroke-width="2.2"/><path d="M1391.4,84.4h12.6M1397.7,78.1v12.6" fill="none" stroke="#9400d3" stroke-width="2.2"/><path d="M1405.2,79.0h12.6M1411.5,72.7v12.6" fill="none" stroke="#9400d3" stroke-width="2.2"/></g>
<g><path d="M153.7,823.4l9.0,9.0M153.7,832.4l9.0,-9.0" fill="none" stroke="#00ffff" stroke-width="2.2"/><path d="M231.1,823.2l9.0,9.0M231.1,832.2l9.0,-9.0" fill="none" stroke="#00ffff" stroke-width="2.2"/><path d="M276.5,822.8l9.0,9.0M276.5,831.8l9.0,-9.0" fill="none" stroke="#00ffff" stroke-width="2.2"/><path d="M308.6,822.5l9.0,9.0M308.6,831.5l9.0,-9.0" fill="none" stroke="#00ffff" stroke-width="2.2"/><path d="M333.5,822.2l9.0,9.0M333.5,831.2l9.0,-9.0" fill="none" stroke="#00ffff" stroke-width="2.2"/><path d="M353.9,821.8l9.0,9.0M353.9,830.8l9.0,-9.0" fill="none" stroke="#00ffff" stroke-width="2.2"/><path d="M371.1,821.5l9.0,9.0M371.1,830.5l9.0,-9.0" fill="none" stroke="#00ffff" stroke-width="2.2"/><path d="M386.1,821.2l9.0,9.0M386.1,830.2l9.0,-9.0" fill="none" stroke="#00ffff" stroke-width="2.2"/><path d="M399.2,820.8l9.0,9.0M399.2,829.8l9.0,-9.0" fill="none" stroke="#00ffff" stroke-width="2.2"/><path d="M411.0,820.5l9.0,9.0M411.0,829.5l9.0,-9.0" fill="none" stroke="#00ffff" stroke-width="2.2"/><path d="M431.4,819.8l9.0,9.0M431.4,828.8l9.0,-9.0" fill="none" stroke="#00ffff" stroke-width="2.2"/><path d="M440.3,819.5l9.0,9.0M440.3,828.5l9.0,-9.0" fill="none" stroke="#00ffff" stroke-width="2.2"/><path d="M456.3,818.8l9.0,9.0M456.3,827.8l9.0,-9.0" fill="none" stroke="#00ffff" stroke-width="2.2"/><path d="M470.3,818.2l9.0,9.0M470.3,827.2l9.0,-9.0" fill="none" stroke="#00ffff" stroke-width="2.2"/><path d="M482.7,817.5l9.0,9.0M482.7,826.5l9.0,-9.0" fill="none" stroke="#00ffff" stroke-width="2.2"/><path d="M499.1,816.5l9.0,9.0M499.1,825.5l9.0,-9.0" fill="none" stroke="#00ffff" stroke-width="2.2"/><path d="M513.4,815.5l9.0,9.0M513.4,824.5l9.0,-9.0" fill="none" stroke="#00ffff" stroke-width="2.2"/><path d="M526.0,814.5l9.0,9.0M526.0,823.5l9.0,-9.0" fill="none" stroke="#00ffff" stroke-width="2.2"/><path d="M541.0,813.2l9.0,9.0M541.0,822.2l9.0,-9.0" fill="none" stroke="#00ffff" stroke-width="2.2"/><path d="M554.1,811.9l9.0,9.0M554.1,820.9l9.0,-9.0" fill="none" stroke="#00ffff" stroke-width="2.2"/><path d="M565.9,810.6l9.0,9.0M565.9,819.6l9.0,-9.0" fill="none" stroke="#00ffff" stroke-width="2.2"/><path d="M581.5,808.6l9.0,9.0M581.5,817.6l9.0,-9.0" fill="none" stroke="#00ffff" stroke-width="2.2"/><path d="M595.2,806.7l9.0,9.0M595.2,815.7l9.0,-9.0" fill="none" stroke="#00ffff" stroke-width="2.2"/><path d="M607.4,804.7l9.0,9.0M607.4,813.7l9.0,-9.0" fill="none" stroke="#00ffff" stroke-width="2.2"/><path d="M621.9,802.1l9.0,9.0M621.9,811.1l9.0,-9.0" fill="none" stroke="#00ffff" stroke-width="2.2"/><path d="M634.6,799.5l9.0,9.0M634.6,808.5l9.0,-9.0" fill="none" stroke="#00ffff" stroke-width="2.2"/><path d="M648.8,796.3l9.0,9.0M648.8,805.3l9.0,-9.0" fill="none" stroke="#00ffff" stroke-width="2.2"/><path d="M662.6,792.8l9.0,9.0M662.6,801.8l9.0,-9.0" fill="none" stroke="#00ffff" stroke-width="2.2"/><path d="M675.9,788.9l9.0,9.0M675.9,797.9l9.0,-9.0" fill="none" stroke="#00ffff" stroke-width="2.2"/><path d="M690.5,784.2l9.0,9.0M690.5,793.2l9.0,-9.0" fill="none" stroke="#00ffff" stroke-width="2.2"/><path d="M704.3,779.1l9.0,9.0M704.3,788.1l9.0,-9.0" fill="none" stroke="#00ffff" stroke-width="2.2"/><path d="M718.0,773.5l9.0,9.0M718.0,782.5l9.0,-9.0" fill="none" stroke="#00ffff" stroke-width="2.2"/><path d="M731.5,767.3l9.0,9.0M731.5,776.3l9.0,-9.0" fill="none" stroke="#00ffff" stroke-width="2.2"/><path d="M745.2,760.2l9.0,9.0M745.2,769.2l9.0,-9.0" fill="none" stroke="#00ffff" stroke-width="2.2"/><path d="M758.9,752.3l9.0,9.0M758.9,761.3l9.0,-9.0" fill="none" stroke="#00ffff" stroke-width="2.2"/><path d="M772.9,743.4l9.0,9.0M772.9,752.4l9.0,-9.0" fill="none" stroke="#00ffff" stroke-width="2.2"/><path d="M786.5,733.6l9.0,9.0M786.5,742.6l9.0,-9.0" fill="none" stroke="#00ffff" stroke-width="2.2"/><path d="M800.3,722.6l9.0,9.0M800.3,731.6l9.0,-9.0" fill="none" stroke="#00ffff" stroke-width="2.2"/><path d="M814.2,710.3l9.0,9.0M814.2,719.3l9.0,-9.0" fill="none" stroke="#00ffff" stroke-width="2.2"/><path d="M828.1,696.7l9.0,9.0M828.1,705.7l9.0,-9.0" fill="none" stroke="#00ffff" stroke-width="2.2"/><path d="M841.7,682.1l9.0,9.0M841.7,691.1l9.0,-9.0" fill="none" stroke="#00ffff" stroke-width="2.2"/><path d="M855.5,665.8l9.0,9.0M855.5,674.8l9.0,-9.0" fill="none" stroke="#00ffff" stroke-width="2.2"/><path d="M869.4,647.7l9.0,9.0M869.4,656.7l9.0,-9.0" fill="none" stroke="#00ffff" stroke-width="2.2"/><path d="M883.1,628.3l9.0,9.0M883.1,637.3l9.0,-9.0" fill="none" stroke="#00ffff" stroke-width="2.2"/><path d="M897.0,607.1l9.0,9.0M897.0,616.1l9.0,-9.0" fill="none" stroke="#00ffff" stroke-width="2.2"/><path d="M910.7,584.3l9.0,9.0M910.7,593.3l9.0,-9.0" fill="none" stroke="#00ffff" stroke-width="2.2"/><path d="M924.5,559.6l9.0,9.0M924.5,568.6l9.0,-9.0" fill="none" stroke="#00ffff" stroke-width="2.2"/><path d="M938.3,533.0l9.0,9.0M938.3,542.0l9.0,-9.0" fill="none" stroke="#00ffff" stroke-width="2.2"/><path d="M952.0,504.5l9.0,9.0M952.0,513.5l9.0,-9.0" fill="none" stroke="#00ffff" stroke-width="2.2"/><path d="M965.9,474.1l9.0,9.0M965.9,483.1l9.0,-9.0" fill="none" stroke="#00ffff" stroke-width="2.2"/><path d="M979.6,442.1l9.0,9.0M979.6,451.1l9.0,-9.0" fill="none" stroke="#00ffff" stroke-width="2.2"/><path d="M993.4,408.6l9.0,9.0M993.4,417.6l9.0,-9.0" fill="none" stroke="#00ffff" stroke-width="2.2"/><path d="M1007.2,373.7l9.0,9.0M1007.2,382.7l9.0,-9.0" fill="none" stroke="#00ffff" stroke-width="2.2"/><path d="M1021.0,337.9l9.0,9.0M1021.0,346.9l9.0,-9.0" fill="none" stroke="#00ffff" stroke-width="2.2"/><path d="M1034.8,301.5l9.0,9.0M1034.8,310.5l9.0,-9.0" fill="none" stroke="#00ffff" stroke-width="2.2"/><path d="M1048.6,265.2l9.0,9.0M1048.6,274.2l9.0,-9.0" fill="none" stroke="#00ffff" stroke-width="2.2"/><path d="M1062.3,230.1l9.0,9.0M1062.3,239.1l9.0,-9.0" fill="none" stroke="#00ffff" stroke-width="2.2"/><path d="M1076.1,197.0l9.0,9.0M1076.1,206.0l9.0,-9.0" fill="none" stroke="#00ffff" stroke-width="2.2"/><path d="M1089.9,168.0l9.0,9.0M1089.9,177.0l9.0,-9.0" fill="none" stroke="#00ffff" stroke-width="2.2"/><path d="M1103.7,143.4l9.0,9.0M1103.7,152.4l9.0,-9.0" fill="none" stroke="#00ffff" stroke-width="2.2"/><path d="M1117.5,120.2l9.0,9.0M1117.5,129.2l9.0,-9.0" fill="none" stroke="#00ffff" stroke-width="2.2"/><path d="M1131.3,101.2l9.0,9.0M1131.3,110.2l9.0,-9.0" fill="none" stroke="#00ffff" stroke-width="2.2"/><path d="M1145.1,90.7l9.0,9.0M1145.1,99.7l9.0,-9.0" fill="none" stroke="#00ffff" stroke-width="2.2"/><path d="M1158.8,81.0l9.0,9.0M1158.8,90.0l9.0,-9.0" fill="none" stroke="#00ffff" stroke-width="2.2"/><path d="M1172.6,75.0l9.0,9.0M1172.6,84.0l9.0,-9.0" fill="none" stroke="#00ffff" stroke-width="2.2"/><path d="M1186.4,69.8l9.0,9.0M1186.4,78.8l9.0,-9.0" fill="none" stroke="#00ffff" stroke-width="2.2"/><path d="M1200.2,68.9l9.0,9.0M1200.2,77.9l9.0,-9.0" fill="none" stroke="#00ffff" stroke-width="2.2"/><path d="M1214.0,70.7l9.0,9.0M1214.0,79.7l9.0,-9.0" fill="none" stroke="#00ffff" stroke-width="2.2"/><path d="M1227.8,80.8l9.0,9.0M1227.8,89.8l9.0,-9.0" fill="none" stroke="#00ffff" stroke-width="2.2"/><path d="M1241.6,89.1l9.0,9.0M1241.6,98.1l9.0,-9.0" fill="none" stroke="#00ffff" stroke-width="2.2"/><path d="M1255.3,76.9l9.0,9.0M1255.3,85.9l9.0,-9.0" fill="none" stroke="#00ffff" stroke-width="2.2"/><path d="M1269.1,106.6l9.0,9.0M1269.1,115.6l9.0,-9.0" fill="none" stroke="#00ffff" stroke-width="2.2"/><path d="M1282.9,98.4l9.0,9.0M1282.9,107.4l9.0,-9.0" fill="none" stroke="#00ffff" stroke-width="2.2"/><path d="M1296.7,91.0l9.0,9.0M1296.7,100.0l9.0,-9.0" fill="none" stroke="#00ffff" stroke-width="2.2"/><path d="M1310.5,86.4l9.0,9.0M1310.5,95.4l9.0,-9.0" fill="none" stroke="#00ffff" stroke-width="2.2"/><path d="M1324.3,59.7l9.0,9.0M1324.3,68.7l9.0,-9.0" fill="none" stroke="#00ffff" stroke-width="2.2"/><path d="M1338.1,53.2l9.0,9.0M1338.1,62.2l9.0,-9.0" fill="none" stroke="#00ffff" stroke-width="2.2"/><path d="M1351.8,61.5l9.0,9.0M1351.8,70.5l9.0,-9.0" fill="none" stroke="#00ffff" stroke-width="2.2"/><path d="M1365.6,81.7l9.0,9.0M1365.6,90.7l9.0,-9.0" fill="none" stroke="#00ffff" stroke-width="2.2"/><path d="M1379.4,42.1l9.0,9.0M1379.4,51.1l9.0,-9.0" fill="none" stroke="#00ffff" stroke-width="2.2"/><path d="M1393.2,68.9l9.0,9.0M1393.2,77.9l9.0,-9.0" fill="none" stroke="#00ffff" stroke-width="2.2"/><path d="M1407.0,82.7l9.0,9.0M1407.0,91.7l9.0,-9.0" fill="none" stroke="#00ffff" stroke-width="2.2"/></g>
<g><path d="M151.9,828.0h12.6M158.2,821.7v12.6M153.7,823.5l9.0,9.0M153.7,832.5l9.0,-9.0" fill="none" stroke="#ff00ff" stroke-width="2.2"/><path d="M229.3,827.7h12.6M235.6,821.4v12.6M231.1,823.2l9.0,9.0M231.1,832.2l9.0,-9.0" fill="none" stroke="#ff00ff" stroke-width="2.2"/><path d="M274.7,827.5h12.6M281.0,821.2v12.6M276.5,823.0l9.0,9.0M276.5,832.0l9.0,-9.0" fill="none" stroke="#ff00ff" stroke-width="2.2"/><path d="M306.8,827.3h12.6M313.1,821.0v12.6M308.6,822.8l9.0,9.0M308.6,831.8l9.0,-9.0" fill="none" stroke="#ff00ff" stroke-width="2.2"/><path d="M331.7,827.0h12.6M338.0,820.7v12.6M333.5,822.5l9.0,9.0M333.5,831.5l9.0,-9.0" fill="none" stroke="#ff00ff" stroke-width="2.2"/><path d="M352.1,826.8h12.6M358.4,820.5v12.6M353.9,822.3l9.0,9.0M353.9,831.3l9.0,-9.0" fill="none" stroke="#ff00ff" stroke-width="2.2"/><path d="M369.3,826.5h12.6M375.6,820.2v12.6M371.1,822.0l9.0,9.0M371.1,831.0l9.0,-9.0" fill="none" stroke="#ff00ff" stroke-width="2.2"/><path d="M384.3,826.3h12.6M390.6,820.0v12.6M386.1,821.8l9.0,9.0M386.1,830.8l9.0,-9.0" fill="none" stroke="#ff00ff" stroke-width="2.2"/><path d="M397.4,826.0h12.6M403.7,819.7v12.6M399.2,821.5l9.0,9.0M399.2,830.5l9.0,-9.0" fill="none" stroke="#ff00ff" stroke-width="2.2"/><path d="M409.2,825.8h12.6M415.5,819.5v12.6M411.0,821.3l9.0,9.0M411.0,830.3l9.0,-9.0" fill="none" stroke="#ff00ff" stroke-width="2.2"/><path d="M429.6,825.3h12.6M435.9,819.0v12.6M431.4,820.8l9.0,9.0M431.4,829.8l9.0,-9.0" fill="none" stroke="#ff00ff" stroke-width="2.2"/><path d="M438.5,825.1h12.6M444.8,818.8v12.6M440.3,820.6l9.0,9.0M440.3,829.6l9.0,-9.0" fill="none" stroke="#ff00ff" stroke-width="2.2"/><path d="M454.5,824.6h12.6M460.8,818.3v12.6M456.3,820.1l9.0,9.0M456.3,829.1l9.0,-9.0" fill="none" stroke="#ff00ff" stroke-width="2.2"/><path d="M468.5,824.1h12.6M474.8,817.8v12.6M470.3,819.6l9.0,9.0M470.3,828.6l9.0,-9.0" fill="none" stroke="#ff00ff" stroke-width="2.2"/><path d="M480.9,823.6h12.6M487.2,817.3v12.6M482.7,819.1l9.0,9.0M482.7,828.1l9.0,-9.0" fill="none" stroke="#ff00ff" stroke-width="2.2"/><path d="M497.3,822.9h12.6M503.6,816.6v12.6M499.1,818.4l9.0,9.0M499.1,827.4l9.0,-9.0" fill="none" stroke="#ff00ff" stroke-width="2.2"/><path d="M511.6,822.2h12.6M517.9,815.9v12.6M513.4,817.7l9.0,9.0M513.4,826.7l9.0,-9.0" fill="none" stroke="#ff00ff" stroke-width="2.2"/><path d="M524.2,821.4h12.6M530.5,815.1v12.6M526.0,816.9l9.0,9.0M526.0,825.9l9.0,-9.0" fill="none" stroke="#ff00ff" stroke-width="2.2"/><path d="M539.2,820.5h12.6M545.5,814.2v12.6M541.0,816.0l9.0,9.0M541.0,825.0l9.0,-9.0" fill="none" stroke="#ff00ff" stroke-width="2.2"/><path d="M552.3,819.5h12.6M558.6,813.2v12.6M554.1,815.0l9.0,9.0M554.1,824.0l9.0,-9.0" fill="none" stroke="#ff00ff" stroke-width="2.2"/><path d="M564.1,818.6h12.6M570.4,812.3v12.6M565.9,814.1l9.0,9.0M565.9,823.1l9.0,-9.0" fill="none" stroke="#ff00ff" stroke-width="2.2"/><path d="M579.7,817.1h12.6M586.0,810.8v12.6M581.5,812.6l9.0,9.0M581.5,821.6l9.0,-9.0" fill="none" stroke="#ff00ff" stroke-width="2.2"/><path d="M593.4,815.7h12.6M599.7,809.4v12.6M595.2,811.2l9.0,9.0M595.2,820.2l9.0,-9.0" fill="none" stroke="#ff00ff" stroke-width="2.2"/><path d="M605.6,814.2h12.6M611.9,807.9v12.6M607.4,809.7l9.0,9.0M607.4,818.7l9.0,-9.0" fill="none" stroke="#ff00ff" stroke-width="2.2"/><path d="M620.1,812.3h12.6M626.4,806.0v12.6M621.9,807.8l9.0,9.0M621.9,816.8l9.0,-9.0" fill="none" stroke="#ff00ff" stroke-width="2.2"/><path d="M632.8,810.4h12.6M639.1,804.1v12.6M634.6,805.9l9.0,9.0M634.6,814.9l9.0,-9.0" fill="none" stroke="#ff00ff" stroke-width="2.2"/><path d="M647.0,808.1h12.6M653.3,801.8v12.6M648.8,803.6l9.0,9.0M648.8,812.6l9.0,-9.0" fill="none" stroke="#ff00ff" stroke-width="2.2"/><path d="M660.8,805.5h12.6M667.1,799.2v12.6M662.6,801.0l9.0,9.0M662.6,810.0l9.0,-9.0" fill="none" stroke="#ff00ff" stroke-width="2.2"/><path d="M674.1,802.6h12.6M680.4,796.3v12.6M675.9,798.1l9.0,9.0M675.9,807.1l9.0,-9.0" fill="none" stroke="#ff00ff" stroke-width="2.2"/><path d="M688.7,799.1h12.6M695.0,792.8v12.6M690.5,794.6l9.0,9.0M690.5,803.6l9.0,-9.0" fill="none" stroke="#ff00ff" stroke-width="2.2"/><path d="M702.5,795.4h12.6M708.8,789.1v12.6M704.3,790.9l9.0,9.0M704.3,799.9l9.0,-9.0" fill="none" stroke="#ff00ff" stroke-width="2.2"/><path d="M716.2,791.2h12.6M722.5,784.9v12.6M718.0,786.7l9.0,9.0M718.0,795.7l9.0,-9.0" fill="none" stroke="#ff00ff" stroke-width="2.2"/><path d="M729.7,786.6h12.6M736.0,780.3v12.6M731.5,782.1l9.0,9.0M731.5,791.1l9.0,-9.0" fill="none" stroke="#ff00ff" stroke-width="2.2"/><path d="M743.4,781.3h12.6M749.7,775.0v12.6M745.2,776.8l9.0,9.0M745.2,785.8l9.0,-9.0" fill="none" stroke="#ff00ff" stroke-width="2.2"/><path d="M757.1,775.4h12.6M763.4,769.1v12.6M758.9,770.9l9.0,9.0M758.9,779.9l9.0,-9.0" fill="none" stroke="#ff00ff" stroke-width="2.2"/><path d="M771.1,768.7h12.6M777.4,762.4v12.6M772.9,764.2l9.0,9.0M772.9,773.2l9.0,-9.0" fill="none" stroke="#ff00ff" stroke-width="2.2"/><path d="M784.7,761.3h12.6M791.0,755.0v12.6M786.5,756.8l9.0,9.0M786.5,765.8l9.0,-9.0" fill="none" stroke="#ff00ff" stroke-width="2.2"/><path d="M798.5,752.9h12.6M804.8,746.6v12.6M800.3,748.4l9.0,9.0M800.3,757.4l9.0,-9.0" fill="none" stroke="#ff00ff" stroke-width="2.2"/><path d="M812.4,743.6h12.6M818.7,737.3v12.6M814.2,739.1l9.0,9.0M814.2,748.1l9.0,-9.0" fill="none" stroke="#ff00ff" stroke-width="2.2"/><path d="M826.3,733.1h12.6M832.6,726.8v12.6M828.1,728.6l9.0,9.0M828.1,737.6l9.0,-9.0" fill="none" stroke="#ff00ff" stroke-width="2.2"/><path d="M839.9,721.8h12.6M846.2,715.5v12.6M841.7,717.3l9.0,9.0M841.7,726.3l9.0,-9.0" fill="none" stroke="#ff00ff" stroke-width="2.2"/><path d="M853.7,709.1h12.6M860.0,702.8v12.6M855.5,704.6l9.0,9.0M855.5,713.6l9.0,-9.0" fill="none" stroke="#ff00ff" stroke-width="2.2"/><path d="M867.6,694.9h12.6M873.9,688.6v12.6M869.4,690.4l9.0,9.0M869.4,699.4l9.0,-9.0" fill="none" stroke="#ff00ff" stroke-width="2.2"/><path d="M881.3,679.5h12.6M887.6,673.2v12.6M883.1,675.0l9.0,9.0M883.1,684.0l9.0,-9.0" fill="none" stroke="#ff00ff" stroke-width="2.2"/><path d="M895.2,662.5h12.6M901.5,656.2v12.6M897.0,658.0l9.0,9.0M897.0,667.0l9.0,-9.0" fill="none" stroke="#ff00ff" stroke-width="2.2"/><path d="M908.9,644.1h12.6M915.2,637.8v12.6M910.7,639.6l9.0,9.0M910.7,648.6l9.0,-9.0" fill="none" stroke="#ff00ff" stroke-width="2.2"/><path d="M922.7,623.9h12.6M929.0,617.6v12.6M924.5,619.4l9.0,9.0M924.5,628.4l9.0,-9.0" fill="none" stroke="#ff00ff" stroke-width="2.2"/><path d="M936.5,602.1h12.6M942.8,595.8v12.6M938.3,597.6l9.0,9.0M938.3,606.6l9.0,-9.0" fill="none" stroke="#ff00ff" stroke-width="2.2"/><path d="M950.2,578.5h12.6M956.5,572.2v12.6M952.0,574.0l9.0,9.0M952.0,583.0l9.0,-9.0" fill="none" stroke="#ff00ff" stroke-width="2.2"/><path d="M964.1,552.9h12.6M970.4,546.6v12.6M965.9,548.4l9.0,9.0M965.9,557.4l9.0,-9.0" fill="none" stroke="#ff00ff" stroke-width="2.2"/><path d="M977.8,525.7h12.6M984.1,519.4v12.6M979.6,521.2l9.0,9.0M979.6,530.2l9.0,-9.0" fill="none" stroke="#ff00ff" stroke-width="2.2"/><path d="M991.6,496.5h12.6M997.9,490.2v12.6M993.4,492.0l9.0,9.0M993.4,501.0l9.0,-9.0" fill="none" stroke="#ff00ff" stroke-width="2.2"/><path d="M1005.4,465.6h12.6M1011.7,459.3v12.6M1007.2,461.1l9.0,9.0M1007.2,470.1l9.0,-9.0" fill="none" stroke="#ff00ff" stroke-width="2.2"/><path d="M1019.2,433.2h12.6M1025.5,426.9v12.6M1021.0,428.7l9.0,9.0M1021.0,437.7l9.0,-9.0" fill="none" stroke="#ff00ff" stroke-width="2.2"/><path d="M1033.0,399.2h12.6M1039.3,392.9v12.6M1034.8,394.7l9.0,9.0M1034.8,403.7l9.0,-9.0" fill="none" stroke="#ff00ff" stroke-width="2.2"/><path d="M1046.8,364.2h12.6M1053.1,357.9v12.6M1048.6,359.7l9.0,9.0M1048.6,368.7l9.0,-9.0" fill="none" stroke="#ff00ff" stroke-width="2.2"/><path d="M1060.5,328.4h12.6M1066.8,322.1v12.6M1062.3,323.9l9.0,9.0M1062.3,332.9l9.0,-9.0" fill="none" stroke="#ff00ff" stroke-width="2.2"/><path d="M1074.3,292.3h12.6M1080.6,286.0v12.6M1076.1,287.8l9.0,9.0M1076.1,296.8l9.0,-9.0" fill="none" stroke="#ff00ff" stroke-width="2.2"/><path d="M1088.1,256.6h12.6M1094.4,250.3v12.6M1089.9,252.1l9.0,9.0M1089.9,261.1l9.0,-9.0" fill="none" stroke="#ff00ff" stroke-width="2.2"/><path d="M1101.9,222.3h12.6M1108.2,216.0v12.6M1103.7,217.8l9.0,9.0M1103.7,226.8l9.0,-9.0" fill="none" stroke="#ff00ff" stroke-width="2.2"/><path d="M1115.7,192.2h12.6M1122.0,185.9v12.6M1117.5,187.7l9.0,9.0M1117.5,196.7l9.0,-9.0" fill="none" stroke="#ff00ff" stroke-width="2.2"/><path d="M1129.5,166.9h12.6M1135.8,160.6v12.6M1131.3,162.4l9.0,9.0M1131.3,171.4l9.0,-9.0" fill="none" stroke="#ff00ff" stroke-width="2.2"/><path d="M1143.3,141.6h12.6M1149.6,135.3v12.6M1145.1,137.1l9.0,9.0M1145.1,146.1l9.0,-9.0" fill="none" stroke="#ff00ff" stroke-width="2.2"/><path d="M1157.0,121.3h12.6M1163.3,115.0v12.6M1158.8,116.8l9.0,9.0M1158.8,125.8l9.0,-9.0" fill="none" stroke="#ff00ff" stroke-width="2.2"/><path d="M1170.8,102.9h12.6M1177.1,96.6v12.6M1172.6,98.4l9.0,9.0M1172.6,107.4l9.0,-9.0" fill="none" stroke="#ff00ff" stroke-width="2.2"/><path d="M1184.6,90.9h12.6M1190.9,84.6v12.6M1186.4,86.4l9.0,9.0M1186.4,95.4l9.0,-9.0" fill="none" stroke="#ff00ff" stroke-width="2.2"/><path d="M1198.4,87.2h12.6M1204.7,80.9v12.6M1200.2,82.7l9.0,9.0M1200.2,91.7l9.0,-9.0" fill="none" stroke="#ff00ff" stroke-width="2.2"/><path d="M1212.2,85.3h12.6M1218.5,79.0v12.6M1214.0,80.8l9.0,9.0M1214.0,89.8l9.0,-9.0" fill="none" stroke="#ff00ff" stroke-width="2.2"/><path d="M1226.0,95.5h12.6M1232.3,89.2v12.6M1227.8,91.0l9.0,9.0M1227.8,100.0l9.0,-9.0" fill="none" stroke="#ff00ff" stroke-width="2.2"/><path d="M1239.8,101.9h12.6M1246.1,95.6v12.6M1241.6,97.4l9.0,9.0M1241.6,106.4l9.0,-9.0" fill="none" stroke="#ff00ff" stroke-width="2.2"/><path d="M1253.5,103.8h12.6M1259.8,97.5v12.6M1255.3,99.3l9.0,9.0M1255.3,108.3l9.0,-9.0" fill="none" stroke="#ff00ff" stroke-width="2.2"/><path d="M1267.3,102.9h12.6M1273.6,96.6v12.6M1269.1,98.4l9.0,9.0M1269.1,107.4l9.0,-9.0" fill="none" stroke="#ff00ff" stroke-width="2.2"/><path d="M1281.1,92.7h12.6M1287.4,86.4v12.6M1282.9,88.2l9.0,9.0M1282.9,97.2l9.0,-9.0" fill="none" stroke="#ff00ff" stroke-width="2.2"/><path d="M1294.9,78.9h12.6M1301.2,72.6v12.6M1296.7,74.4l9.0,9.0M1296.7,83.4l9.0,-9.0" fill="none" stroke="#ff00ff" stroke-width="2.2"/><path d="M1308.7,60.5h12.6M1315.0,54.2v12.6M1310.5,56.0l9.0,9.0M1310.5,65.0l9.0,-9.0" fill="none" stroke="#ff00ff" stroke-width="2.2"/><path d="M1322.5,53.1h12.6M1328.8,46.8v12.6M1324.3,48.6l9.0,9.0M1324.3,57.6l9.0,-9.0" fill="none" stroke="#ff00ff" stroke-width="2.2"/><path d="M1336.3,49.4h12.6M1342.6,43.1v12.6M1338.1,44.9l9.0,9.0M1338.1,53.9l9.0,-9.0" fill="none" stroke="#ff00ff" stroke-width="2.2"/><path d="M1350.0,78.9h12.6M1356.3,72.6v12.6M1351.8,74.4l9.0,9.0M1351.8,83.4l9.0,-9.0" fill="none" stroke="#ff00ff" stroke-width="2.2"/><path d="M1363.8,46.6h12.6M1370.1,40.3v12.6M1365.6,42.1l9.0,9.0M1365.6,51.1l9.0,-9.0" fill="none" stroke="#ff00ff" stroke-width="2.2"/><path d="M1377.6,80.7h12.6M1383.9,74.4v12.6M1379.4,76.2l9.0,9.0M1379.4,85.2l9.0,-9.0" fill="none" stroke="#ff00ff" stroke-width="2.2"/><path d="M1391.4,96.4h12.6M1397.7,90.1v12.6M1393.2,91.9l9.0,9.0M1393.2,100.9l9.0,-9.0" fill="none" stroke="#ff00ff" stroke-width="2.2"/><path d="M1405.2,74.3h12.6M1411.5,68.0v12.6M1407.0,69.8l9.0,9.0M1407.0,78.8l9.0,-9.0" fill="none" stroke="#ff00ff" stroke-width="2.2"/></g>
<polyline points="158.2,827.9 163.3,827.9 168.5,827.8 173.6,827.8 178.8,827.8 183.9,827.8 189.1,827.7 194.2,827.7 199.4,827.6 204.5,827.6 209.6,827.6 214.8,827.5 219.9,827.5 225.1,827.4 230.2,827.3 235.4,827.3 240.5,827.2 245.7,827.1 250.8,827.0 256.0,826.9 261.1,826.8 266.3,826.7 271.4,826.6 276.5,826.4 281.7,826.3 286.8,826.1 292.0,825.9 297.1,825.7 302.3,825.5 307.4,825.3 312.6,825.0 317.7,824.8 322.9,824.5 328.0,824.2 333.2,823.8 338.3,823.5 343.4,823.1 348.6,822.7 353.7,822.2 358.9,821.7 364.0,821.2 369.2,820.6 374.3,820.0 379.5,819.3 384.6,818.6 389.8,817.9 394.9,817.0 400.1,816.2 405.2,815.2 410.3,814.2 415.5,813.2 420.6,812.0 425.8,810.8 430.9,809.5 436.1,808.2 441.2,806.7 446.4,805.1 451.5,803.5 456.7,801.7 461.8,799.9 466.9,797.9 472.1,795.9 477.2,793.7 482.4,791.4 487.5,789.0 492.7,786.4 497.8,783.7 503.0,780.9 508.1,778.0 513.3,774.9 518.4,771.6 523.6,768.2 528.7,764.7 533.8,761.0 539.0,757.1 544.1,753.0 549.3,748.8 554.4,744.4 559.6,739.8 564.7,735.1 569.9,730.1 575.0,724.9 580.2,719.6 585.3,714.0 590.5,708.2 595.6,702.2 600.7,696.0 605.9,689.5 611.0,682.8 616.2,675.9 621.3,668.7 626.5,661.3 631.6,653.7 636.8,645.7 641.9,637.6 647.1,629.1 652.2,620.4 657.4,611.5 662.5,602.2 667.6,592.8 672.8,583.0 677.9,573.0 683.1,562.7 688.2,552.1 693.4,541.4 698.5,530.3 703.7,519.0 708.8,507.5 714.0,495.7 719.1,483.8 724.2,471.6 729.4,459.2 734.5,446.7 739.7,434.0 744.8,421.1 750.0,408.2 755.1,395.1 760.3,382.0 765.4,368.8 770.6,355.6 775.7,342.3 780.9,329.2 786.0,316.1 791.1,303.1 796.3,290.2 801.4,277.5 806.6,265.1 811.7,252.9 816.9,241.0 822.0,229.4 827.2,218.1 832.3,207.2 837.5,196.8 842.6,186.8 847.8,177.2 852.9,168.1 858.0,159.4 863.2,151.3 868.3,143.6 873.5,136.5 878.6,129.8 883.8,123.7 888.9,118.1 894.1,112.9 899.2,108.2 904.4,104.0 909.5,100.3 914.7,96.9 919.8,94.0 924.9,91.4 930.1,89.2 935.2,87.3 940.4,85.6 945.5,84.2 950.7,83.1 955.8,82.2 961.0,81.4 966.1,80.8 971.3,80.3 976.4,79.9 981.5,79.6 986.7,79.3 991.8,79.2 997.0,79.0 1002.1,78.9 1007.3,78.9 1012.4,78.8 1017.6,78.8 1022.7,78.8 1027.9,78.8 1033.0,78.7 1038.2,78.7 1043.3,78.7 1048.4,78.7 1053.6,78.7 1058.7,78.7 1063.9,78.7 1069.0,78.7 1074.2,78.7 1079.3,78.7 1084.5,78.7 1089.6,78.7 1094.8,78.7 1099.9,78.7 1105.1,78.7 1110.2,78.7 1115.3,78.7 1120.5,78.7 1125.6,78.7 1130.8,78.7 1135.9,78.7 1141.1,78.7 1146.2,78.7 1151.4,78.7 1156.5,78.7 1161.7,78.7 1166.8,78.7 1172.0,78.7 1177.1,78.7 1182.2,78.7 1187.4,78.7 1192.5,78.7 1197.7,78.7 1202.8,78.7 1208.0,78.7 1213.1,78.7 1218.3,78.7 1223.4,78.7 1228.6,78.7 1233.7,78.7 1238.8,78.7 1244.0,78.7 1249.1,78.7 1254.3,78.7 1259.4,78.7 1264.6,78.7 1269.7,78.7 1274.9,78.7 1280.0,78.7 1285.2,78.7 1290.3,78.7 1295.5,78.7 1300.6,78.7 1305.7,78.7 1310.9,78.7 1316.0,78.7 1321.2,78.7 1326.3,78.7 1331.5,78.7 1336.6,78.7 1341.8,78.7 1346.9,78.7 1352.1,78.7 1357.2,78.7 1362.4,78.7 1367.5,78.7 1372.6,78.7 1377.8,78.7 1382.9,78.7 1388.1,78.7 1393.2,78.7 1398.4,78.7 1403.5,78.7 1408.7,78.7 1413.8,78.7 1419.0,78.7" fill="none" stroke="#000000" stroke-width="2.3" stroke-linejoin="round"/>
<polyline points="158.2,827.9 163.3,827.9 168.5,827.8 173.6,827.8 178.8,827.8 183.9,827.8 189.1,827.7 194.2,827.7 199.4,827.7 204.5,827.6 209.6,827.6 214.8,827.5 219.9,827.5 225.1,827.4 230.2,827.4 235.4,827.3 240.5,827.2 245.7,827.2 250.8,827.1 256.0,827.0 261.1,826.9 266.3,826.8 271.4,826.7 276.5,826.5 281.7,826.4 286.8,826.3 292.0,826.1 297.1,825.9 302.3,825.7 307.4,825.5 312.6,825.3 317.7,825.1 322.9,824.9 328.0,824.6 333.2,824.3 338.3,824.0 343.4,823.7 348.6,823.3 353.7,822.9 358.9,822.5 364.0,822.1 369.2,821.6 374.3,821.1 379.5,820.6 384.6,820.1 389.8,819.5 394.9,818.8 400.1,818.2 405.2,817.4 410.3,816.7 415.5,815.9 420.6,815.0 425.8,814.1 430.9,813.2 436.1,812.2 441.2,811.1 446.4,810.0 451.5,808.8 456.7,807.6 461.8,806.3 466.9,804.9 472.1,803.5 477.2,802.0 482.4,800.4 487.5,798.8 492.7,797.1 497.8,795.2 503.0,793.4 508.1,791.4 513.3,789.3 518.4,787.1 523.6,784.9 528.7,782.5 533.8,780.0 539.0,777.5 544.1,774.8 549.3,772.0 554.4,769.1 559.6,766.0 564.7,762.8 569.9,759.5 575.0,756.1 580.2,752.5 585.3,748.7 590.5,744.8 595.6,740.8 600.7,736.6 605.9,732.2 611.0,727.6 616.2,722.8 621.3,717.9 626.5,712.8 631.6,707.4 636.8,701.9 641.9,696.2 647.1,690.2 652.2,684.1 657.4,677.7 662.5,671.0 667.6,664.2 672.8,657.1 677.9,649.7 683.1,642.1 688.2,634.3 693.4,626.2 698.5,617.8 703.7,609.2 708.8,600.3 714.0,591.2 719.1,581.8 724.2,572.1 729.4,562.2 734.5,552.0 739.7,541.5 744.8,530.8 750.0,519.9 755.1,508.7 760.3,497.2 765.4,485.5 770.6,473.6 775.7,461.5 780.9,449.2 786.0,436.7 791.1,424.1 796.3,411.3 801.4,398.3 806.6,385.3 811.7,372.2 816.9,359.0 822.0,345.8 827.2,332.6 832.3,319.4 837.5,306.3 842.6,293.4 847.8,280.6 852.9,268.0 858.0,255.6 863.2,243.6 868.3,231.9 873.5,220.5 878.6,209.6 883.8,199.1 888.9,189.0 894.1,179.3 899.2,170.2 904.4,161.5 909.5,153.2 914.7,145.5 919.8,138.3 924.9,131.6 930.1,125.3 935.2,119.6 940.4,114.3 945.5,109.6 950.7,105.2 955.8,101.4 961.0,97.9 966.1,94.9 971.3,92.2 976.4,89.8 981.5,87.8 986.7,86.1 991.8,84.7 997.0,83.5 1002.1,82.5 1007.3,81.6 1012.4,81.0 1017.6,80.4 1022.7,80.0 1027.9,79.7 1033.0,79.4 1038.2,79.2 1043.3,79.1 1048.4,79.0 1053.6,78.9 1058.7,78.8 1063.9,78.8 1069.0,78.8 1074.2,78.8 1079.3,78.7 1084.5,78.7 1089.6,78.7 1094.8,78.7 1099.9,78.7 1105.1,78.7 1110.2,78.7 1115.3,78.7 1120.5,78.7 1125.6,78.7 1130.8,78.7 1135.9,78.7 1141.1,78.7 1146.2,78.7 1151.4,78.7 1156.5,78.7 1161.7,78.7 1166.8,78.7 1172.0,78.7 1177.1,78.7 1182.2,78.7 1187.4,78.7 1192.5,78.7 1197.7,78.7 1202.8,78.7 1208.0,78.7 1213.1,78.7 1218.3,78.7 1223.4,78.7 1228.6,78.7 1233.7,78.7 1238.8,78.7 1244.0,78.7 1249.1,78.7 1254.3,78.7 1259.4,78.7 1264.6,78.7 1269.7,78.7 1274.9,78.7 1280.0,78.7 1285.2,78.7 1290.3,78.7 1295.5,78.7 1300.6,78.7 1305.7,78.7 1310.9,78.7 1316.0,78.7 1321.2,78.7 1326.3,78.7 1331.5,78.7 1336.6,78.7 1341.8,78.7 1346.9,78.7 1352.1,78.7 1357.2,78.7 1362.4,78.7 1367.5,78.7 1372.6,78.7 1377.8,78.7 1382.9,78.7 1388.1,78.7 1393.2,78.7 1398.4,78.7 1403.5,78.7 1408.7,78.7 1413.8,78.7 1419.0,78.7" fill="none" stroke="#ff0000" stroke-width="2.3" stroke-linejoin="round"/>
<polyline points="158.2,827.9 163.3,827.9 168.5,827.9 173.6,827.8 178.8,827.8 183.9,827.8 189.1,827.7 194.2,827.7 199.4,827.7 204.5,827.6 209.6,827.6 214.8,827.6 219.9,827.5 225.1,827.5 230.2,827.4 235.4,827.3 240.5,827.3 245.7,827.2 250.8,827.1 256.0,827.1 261.1,827.0 266.3,826.9 271.4,826.8 276.5,826.7 281.7,826.5 286.8,826.4 292.0,826.3 297.1,826.1 302.3,826.0 307.4,825.8 312.6,825.6 317.7,825.4 322.9,825.2 328.0,825.0 333.2,824.7 338.3,824.5 343.4,824.2 348.6,823.9 353.7,823.6 358.9,823.3 364.0,822.9 369.2,822.6 374.3,822.2 379.5,821.8 384.6,821.3 389.8,820.9 394.9,820.4 400.1,819.8 405.2,819.3 410.3,818.7 415.5,818.1 420.6,817.5 425.8,816.8 430.9,816.1 436.1,815.4 441.2,814.6 446.4,813.8 451.5,812.9 456.7,812.0 461.8,811.0 466.9,810.1 472.1,809.0 477.2,807.9 482.4,806.8 487.5,805.6 492.7,804.4 497.8,803.1 503.0,801.7 508.1,800.3 513.3,798.8 518.4,797.3 523.6,795.7 528.7,794.0 533.8,792.2 539.0,790.4 544.1,788.4 549.3,786.4 554.4,784.3 559.6,782.1 564.7,779.8 569.9,777.4 575.0,774.9 580.2,772.3 585.3,769.6 590.5,766.8 595.6,763.9 600.7,760.8 605.9,757.6 611.0,754.2 616.2,750.7 621.3,747.1 626.5,743.3 631.6,739.4 636.8,735.3 641.9,731.1 647.1,726.6 652.2,722.0 657.4,717.2 662.5,712.3 667.6,707.1 672.8,701.7 677.9,696.2 683.1,690.4 688.2,684.4 693.4,678.2 698.5,671.7 703.7,665.1 708.8,658.1 714.0,651.0 719.1,643.6 724.2,636.0 729.4,628.1 734.5,620.0 739.7,611.6 744.8,602.9 750.0,594.0 755.1,584.8 760.3,575.4 765.4,565.7 770.6,555.8 775.7,545.6 780.9,535.1 786.0,524.4 791.1,513.4 796.3,502.3 801.4,490.8 806.6,479.2 811.7,467.4 816.9,455.3 822.0,443.1 827.2,430.7 832.3,418.2 837.5,405.5 842.6,392.7 847.8,379.8 852.9,366.9 858.0,353.9 863.2,340.9 868.3,327.9 873.5,315.0 878.6,302.2 883.8,289.5 888.9,277.0 894.1,264.7 899.2,252.6 904.4,240.8 909.5,229.3 914.7,218.2 919.8,207.4 924.9,197.1 930.1,187.2 935.2,177.7 940.4,168.6 945.5,160.0 950.7,151.9 955.8,144.3 961.0,137.2 966.1,130.5 971.3,124.4 976.4,118.7 981.5,113.6 986.7,108.9 991.8,104.6 997.0,100.8 1002.1,97.4 1007.3,94.4 1012.4,91.8 1017.6,89.5 1022.7,87.6 1027.9,85.9 1033.0,84.5 1038.2,83.3 1043.3,82.3 1048.4,81.5 1053.6,80.9 1058.7,80.4 1063.9,79.9 1069.0,79.6 1074.2,79.4 1079.3,79.2 1084.5,79.1 1089.6,79.0 1094.8,78.9 1099.9,78.8 1105.1,78.8 1110.2,78.8 1115.3,78.8 1120.5,78.7 1125.6,78.7 1130.8,78.7 1135.9,78.7 1141.1,78.7 1146.2,78.7 1151.4,78.7 1156.5,78.7 1161.7,78.7 1166.8,78.7 1172.0,78.7 1177.1,78.7 1182.2,78.7 1187.4,78.7 1192.5,78.7 1197.7,78.7 1202.8,78.7 1208.0,78.7 1213.1,78.7 1218.3,78.7 1223.4,78.7 1228.6,78.7 1233.7,78.7 1238.8,78.7 1244.0,78.7 1249.1,78.7 1254.3,78.7 1259.4,78.7 1264.6,78.7 1269.7,78.7 1274.9,78.7 1280.0,78.7 1285.2,78.7 1290.3,78.7 1295.5,78.7 1300.6,78.7 1305.7,78.7 1310.9,78.7 1316.0,78.7 1321.2,78.7 1326.3,78.7 1331.5,78.7 1336.6,78.7 1341.8,78.7 1346.9,78.7 1352.1,78.7 1357.2,78.7 1362.4,78.7 1367.5,78.7 1372.6,78.7 1377.8,78.7 1382.9,78.7 1388.1,78.7 1393.2,78.7 1398.4,78.7 1403.5,78.7 1408.7,78.7 1413.8,78.7 1419.0,78.7" fill="none" stroke="#00ff00" stroke-width="2.3" stroke-linejoin="round"/>
<polyline points="158.2,827.9 163.3,827.9 168.5,827.9 173.6,827.8 178.8,827.8 183.9,827.8 189.1,827.8 194.2,827.7 199.4,827.7 204.5,827.7 209.6,827.6 214.8,827.6 219.9,827.5 225.1,827.5 230.2,827.4 235.4,827.4 240.5,827.3 245.7,827.3 250.8,827.2 256.0,827.1 261.1,827.0 266.3,827.0 271.4,826.9 276.5,826.8 281.7,826.7 286.8,826.5 292.0,826.4 297.1,826.3 302.3,826.2 307.4,826.0 312.6,825.8 317.7,825.7 322.9,825.5 328.0,825.3 333.2,825.1 338.3,824.9 343.4,824.7 348.6,824.4 353.7,824.2 358.9,823.9 364.0,823.6 369.2,823.3 374.3,823.0 379.5,822.6 384.6,822.3 389.8,821.9 394.9,821.5 400.1,821.1 405.2,820.6 410.3,820.2 415.5,819.7 420.6,819.2 425.8,818.7 430.9,818.1 436.1,817.5 441.2,816.9 446.4,816.3 451.5,815.6 456.7,814.9 461.8,814.2 466.9,813.4 472.1,812.6 477.2,811.7 482.4,810.9 487.5,809.9 492.7,809.0 497.8,808.0 503.0,806.9 508.1,805.8 513.3,804.7 518.4,803.5 523.6,802.2 528.7,800.9 533.8,799.5 539.0,798.1 544.1,796.6 549.3,795.0 554.4,793.3 559.6,791.6 564.7,789.8 569.9,788.0 575.0,786.0 580.2,784.0 585.3,781.8 590.5,779.6 595.6,777.3 600.7,774.9 605.9,772.3 611.0,769.7 616.2,767.0 621.3,764.1 626.5,761.1 631.6,758.0 636.8,754.7 641.9,751.3 647.1,747.8 652.2,744.1 657.4,740.3 662.5,736.3 667.6,732.2 672.8,727.9 677.9,723.4 683.1,718.7 688.2,713.9 693.4,708.9 698.5,703.6 703.7,698.2 708.8,692.6 714.0,686.7 719.1,680.7 724.2,674.4 729.4,667.9 734.5,661.1 739.7,654.1 744.8,646.9 750.0,639.5 755.1,631.8 760.3,623.8 765.4,615.6 770.6,607.1 775.7,598.4 780.9,589.4 786.0,580.2 791.1,570.7 796.3,561.0 801.4,550.9 806.6,540.7 811.7,530.2 816.9,519.4 822.0,508.4 827.2,497.2 832.3,485.8 837.5,474.1 842.6,462.3 847.8,450.2 852.9,438.0 858.0,425.7 863.2,413.2 868.3,400.6 873.5,387.8 878.6,375.1 883.8,362.2 888.9,349.4 894.1,336.5 899.2,323.7 904.4,310.9 909.5,298.3 914.7,285.8 919.8,273.4 924.9,261.3 930.1,249.4 935.2,237.8 940.4,226.5 945.5,215.5 950.7,204.9 955.8,194.7 961.0,184.9 966.1,175.5 971.3,166.6 976.4,158.1 981.5,150.2 986.7,142.7 991.8,135.6 997.0,129.1 1002.1,123.1 1007.3,117.6 1012.4,112.5 1017.6,107.9 1022.7,103.8 1027.9,100.0 1033.0,96.8 1038.2,93.8 1043.3,91.3 1048.4,89.1 1053.6,87.2 1058.7,85.6 1063.9,84.2 1069.0,83.1 1074.2,82.1 1079.3,81.4 1084.5,80.8 1089.6,80.3 1094.8,79.9 1099.9,79.6 1105.1,79.3 1110.2,79.2 1115.3,79.0 1120.5,78.9 1125.6,78.9 1130.8,78.8 1135.9,78.8 1141.1,78.8 1146.2,78.8 1151.4,78.7 1156.5,78.7 1161.7,78.7 1166.8,78.7 1172.0,78.7 1177.1,78.7 1182.2,78.7 1187.4,78.7 1192.5,78.7 1197.7,78.7 1202.8,78.7 1208.0,78.7 1213.1,78.7 1218.3,78.7 1223.4,78.7 1228.6,78.7 1233.7,78.7 1238.8,78.7 1244.0,78.7 1249.1,78.7 1254.3,78.7 1259.4,78.7 1264.6,78.7 1269.7,78.7 1274.9,78.7 1280.0,78.7 1285.2,78.7 1290.3,78.7 1295.5,78.7 1300.6,78.7 1305.7,78.7 1310.9,78.7 1316.0,78.7 1321.2,78.7 1326.3,78.7 1331.5,78.7 1336.6,78.7 1341.8,78.7 1346.9,78.7 1352.1,78.7 1357.2,78.7 1362.4,78.7 1367.5,78.7 1372.6,78.7 1377.8,78.7 1382.9,78.7 1388.1,78.7 1393.2,78.7 1398.4,78.7 1403.5,78.7 1408.7,78.7 1413.8,78.7 1419.0,78.7" fill="none" stroke="#0000ff" stroke-width="2.3" stroke-linejoin="round"/>
<polyline points="158.2,827.9 163.3,827.9 168.5,827.9 173.6,827.9 178.8,827.8 183.9,827.8 189.1,827.8 194.2,827.8 199.4,827.7 204.5,827.7 209.6,827.7 214.8,827.6 219.9,827.6 225.1,827.5 230.2,827.5 235.4,827.4 240.5,827.4 245.7,827.3 250.8,827.3 256.0,827.2 261.1,827.1 266.3,827.1 271.4,827.0 276.5,826.9 281.7,826.8 286.8,826.7 292.0,826.6 297.1,826.5 302.3,826.4 307.4,826.3 312.6,826.1 317.7,826.0 322.9,825.9 328.0,825.7 333.2,825.5 338.3,825.4 343.4,825.2 348.6,825.0 353.7,824.8 358.9,824.6 364.0,824.4 369.2,824.1 374.3,823.9 379.5,823.6 384.6,823.3 389.8,823.0 394.9,822.7 400.1,822.4 405.2,822.1 410.3,821.8 415.5,821.4 420.6,821.0 425.8,820.6 430.9,820.2 436.1,819.8 441.2,819.3 446.4,818.8 451.5,818.3 456.7,817.8 461.8,817.2 466.9,816.7 472.1,816.1 477.2,815.4 482.4,814.8 487.5,814.1 492.7,813.4 497.8,812.6 503.0,811.8 508.1,811.0 513.3,810.1 518.4,809.2 523.6,808.3 528.7,807.3 533.8,806.3 539.0,805.2 544.1,804.1 549.3,802.9 554.4,801.7 559.6,800.4 564.7,799.0 569.9,797.6 575.0,796.2 580.2,794.6 585.3,793.0 590.5,791.3 595.6,789.6 600.7,787.8 605.9,785.8 611.0,783.8 616.2,781.8 621.3,779.6 626.5,777.3 631.6,774.9 636.8,772.5 641.9,769.9 647.1,767.2 652.2,764.4 657.4,761.5 662.5,758.4 667.6,755.2 672.8,751.9 677.9,748.5 683.1,744.9 688.2,741.1 693.4,737.2 698.5,733.2 703.7,728.9 708.8,724.6 714.0,720.0 719.1,715.2 724.2,710.3 729.4,705.2 734.5,699.8 739.7,694.3 744.8,688.6 750.0,682.6 755.1,676.5 760.3,670.1 765.4,663.5 770.6,656.6 775.7,649.5 780.9,642.2 786.0,634.6 791.1,626.8 796.3,618.8 801.4,610.4 806.6,601.9 811.7,593.0 816.9,583.9 822.0,574.6 827.2,565.0 832.3,555.1 837.5,545.0 842.6,534.7 847.8,524.1 852.9,513.3 858.0,502.2 863.2,490.9 868.3,479.4 873.5,467.7 878.6,455.9 883.8,443.8 888.9,431.6 894.1,419.3 899.2,406.8 904.4,394.3 909.5,381.7 914.7,369.0 919.8,356.3 924.9,343.5 930.1,330.9 935.2,318.2 940.4,305.7 945.5,293.2 950.7,280.9 955.8,268.8 961.0,256.9 966.1,245.2 971.3,233.8 976.4,222.7 981.5,211.9 986.7,201.5 991.8,191.4 997.0,181.8 1002.1,172.6 1007.3,163.8 1012.4,155.5 1017.6,147.7 1022.7,140.4 1027.9,133.5 1033.0,127.2 1038.2,121.3 1043.3,115.9 1048.4,111.0 1053.6,106.5 1058.7,102.5 1063.9,99.0 1069.0,95.8 1074.2,93.0 1079.3,90.6 1084.5,88.5 1089.6,86.7 1094.8,85.1 1099.9,83.8 1105.1,82.8 1110.2,81.9 1115.3,81.2 1120.5,80.6 1125.6,80.1 1130.8,79.8 1135.9,79.5 1141.1,79.3 1146.2,79.1 1151.4,79.0 1156.5,78.9 1161.7,78.9 1166.8,78.8 1172.0,78.8 1177.1,78.8 1182.2,78.7 1187.4,78.7 1192.5,78.7 1197.7,78.7 1202.8,78.7 1208.0,78.7 1213.1,78.7 1218.3,78.7 1223.4,78.7 1228.6,78.7 1233.7,78.7 1238.8,78.7 1244.0,78.7 1249.1,78.7 1254.3,78.7 1259.4,78.7 1264.6,78.7 1269.7,78.7 1274.9,78.7 1280.0,78.7 1285.2,78.7 1290.3,78.7 1295.5,78.7 1300.6,78.7 1305.7,78.7 1310.9,78.7 1316.0,78.7 1321.2,78.7 1326.3,78.7 1331.5,78.7 1336.6,78.7 1341.8,78.7 1346.9,78.7 1352.1,78.7 1357.2,78.7 1362.4,78.7 1367.5,78.7 1372.6,78.7 1377.8,78.7 1382.9,78.7 1388.1,78.7 1393.2,78.7 1398.4,78.7 1403.5,78.7 1408.7,78.7 1413.8,78.7 1419.0,78.7" fill="none" stroke="#ffff00" stroke-width="2.3" stroke-linejoin="round"/>
<polyline points="158.2,827.9 163.3,827.9 168.5,827.9 173.6,827.9 178.8,827.8 183.9,827.8 189.1,827.8 194.2,827.8 199.4,827.7 204.5,827.7 209.6,827.7 214.8,827.6 219.9,827.6 225.1,827.6 230.2,827.5 235.4,827.5 240.5,827.4 245.7,827.4 250.8,827.3 256.0,827.3 261.1,827.2 266.3,827.1 271.4,827.1 276.5,827.0 281.7,826.9 286.8,826.8 292.0,826.8 297.1,826.7 302.3,826.6 307.4,826.4 312.6,826.3 317.7,826.2 322.9,826.1 328.0,826.0 333.2,825.8 338.3,825.7 343.4,825.5 348.6,825.4 353.7,825.2 358.9,825.0 364.0,824.8 369.2,824.6 374.3,824.4 379.5,824.2 384.6,824.0 389.8,823.7 394.9,823.5 400.1,823.2 405.2,823.0 410.3,822.7 415.5,822.4 420.6,822.1 425.8,821.7 430.9,821.4 436.1,821.0 441.2,820.6 446.4,820.3 451.5,819.8 456.7,819.4 461.8,819.0 466.9,818.5 472.1,818.0 477.2,817.5 482.4,816.9 487.5,816.4 492.7,815.8 497.8,815.1 503.0,814.5 508.1,813.8 513.3,813.1 518.4,812.4 523.6,811.6 528.7,810.8 533.8,809.9 539.0,809.0 544.1,808.1 549.3,807.1 554.4,806.1 559.6,805.0 564.7,803.9 569.9,802.8 575.0,801.5 580.2,800.3 585.3,798.9 590.5,797.5 595.6,796.1 600.7,794.6 605.9,793.0 611.0,791.3 616.2,789.6 621.3,787.8 626.5,785.9 631.6,783.9 636.8,781.9 641.9,779.7 647.1,777.5 652.2,775.1 657.4,772.7 662.5,770.1 667.6,767.5 672.8,764.7 677.9,761.8 683.1,758.8 688.2,755.6 693.4,752.4 698.5,748.9 703.7,745.4 708.8,741.7 714.0,737.8 719.1,733.8 724.2,729.6 729.4,725.3 734.5,720.8 739.7,716.1 744.8,711.2 750.0,706.1 755.1,700.8 760.3,695.4 765.4,689.7 770.6,683.8 775.7,677.7 780.9,671.4 786.0,664.8 791.1,658.1 796.3,651.0 801.4,643.8 806.6,636.3 811.7,628.6 816.9,620.6 822.0,612.3 827.2,603.8 832.3,595.1 837.5,586.1 842.6,576.8 847.8,567.3 852.9,557.6 858.0,547.6 863.2,537.3 868.3,526.9 873.5,516.2 878.6,505.2 883.8,494.1 888.9,482.7 894.1,471.2 899.2,459.5 904.4,447.6 909.5,435.6 914.7,423.5 919.8,411.2 924.9,398.9 930.1,386.5 935.2,374.0 940.4,361.6 945.5,349.1 950.7,336.6 955.8,324.2 961.0,311.9 966.1,299.7 971.3,287.6 976.4,275.6 981.5,263.8 986.7,252.2 991.8,240.8 997.0,229.6 1002.1,218.8 1007.3,208.2 1012.4,198.0 1017.6,188.1 1022.7,178.6 1027.9,169.6 1033.0,161.0 1038.2,152.9 1043.3,145.2 1048.4,138.0 1053.6,131.3 1058.7,125.1 1063.9,119.4 1069.0,114.2 1074.2,109.5 1079.3,105.2 1084.5,101.3 1089.6,97.9 1094.8,94.8 1099.9,92.2 1105.1,89.8 1110.2,87.8 1115.3,86.1 1120.5,84.7 1125.6,83.5 1130.8,82.5 1135.9,81.6 1141.1,81.0 1146.2,80.4 1151.4,80.0 1156.5,79.7 1161.7,79.4 1166.8,79.2 1172.0,79.1 1177.1,79.0 1182.2,78.9 1187.4,78.8 1192.5,78.8 1197.7,78.8 1202.8,78.8 1208.0,78.7 1213.1,78.7 1218.3,78.7 1223.4,78.7 1228.6,78.7 1233.7,78.7 1238.8,78.7 1244.0,78.7 1249.1,78.7 1254.3,78.7 1259.4,78.7 1264.6,78.7 1269.7,78.7 1274.9,78.7 1280.0,78.7 1285.2,78.7 1290.3,78.7 1295.5,78.7 1300.6,78.7 1305.7,78.7 1310.9,78.7 1316.0,78.7 1321.2,78.7 1326.3,78.7 1331.5,78.7 1336.6,78.7 1341.8,78.7 1346.9,78.7 1352.1,78.7 1357.2,78.7 1362.4,78.7 1367.5,78.7 1372.6,78.7 1377.8,78.7 1382.9,78.7 1388.1,78.7 1393.2,78.7 1398.4,78.7 1403.5,78.7 1408.7,78.7 1413.8,78.7 1419.0,78.7" fill="none" stroke="#bc8f8f" stroke-width="2.3" stroke-linejoin="round"/>
<polyline points="158.2,827.9 163.3,827.9 168.5,827.9 173.6,827.9 178.8,827.9 183.9,827.8 189.1,827.8 194.2,827.8 199.4,827.8 204.5,827.7 209.6,827.7 214.8,827.7 219.9,827.7 225.1,827.6 230.2,827.6 235.4,827.5 240.5,827.5 245.7,827.5 250.8,827.4 256.0,827.4 261.1,827.3 266.3,827.3 271.4,827.2 276.5,827.1 281.7,827.1 286.8,827.0 292.0,826.9 297.1,826.9 302.3,826.8 307.4,826.7 312.6,826.6 317.7,826.5 322.9,826.4 328.0,826.3 333.2,826.2 338.3,826.1 343.4,825.9 348.6,825.8 353.7,825.7 358.9,825.5 364.0,825.4 369.2,825.2 374.3,825.1 379.5,824.9 384.6,824.7 389.8,824.6 394.9,824.4 400.1,824.2 405.2,823.9 410.3,823.7 415.5,823.5 420.6,823.2 425.8,823.0 430.9,822.7 436.1,822.4 441.2,822.2 446.4,821.8 451.5,821.5 456.7,821.2 461.8,820.8 466.9,820.5 472.1,820.1 477.2,819.7 482.4,819.3 487.5,818.8 492.7,818.4 497.8,817.9 503.0,817.4 508.1,816.8 513.3,816.3 518.4,815.7 523.6,815.1 528.7,814.5 533.8,813.8 539.0,813.1 544.1,812.4 549.3,811.6 554.4,810.8 559.6,810.0 564.7,809.1 569.9,808.2 575.0,807.3 580.2,806.3 585.3,805.2 590.5,804.1 595.6,803.0 600.7,801.8 605.9,800.6 611.0,799.3 616.2,797.9 621.3,796.5 626.5,795.0 631.6,793.5 636.8,791.8 641.9,790.2 647.1,788.4 652.2,786.5 657.4,784.6 662.5,782.6 667.6,780.5 672.8,778.3 677.9,776.0 683.1,773.6 688.2,771.1 693.4,768.5 698.5,765.8 703.7,763.0 708.8,760.1 714.0,757.0 719.1,753.8 724.2,750.4 729.4,747.0 734.5,743.3 739.7,739.6 744.8,735.6 750.0,731.5 755.1,727.3 760.3,722.9 765.4,718.3 770.6,713.5 775.7,708.5 780.9,703.4 786.0,698.0 791.1,692.4 796.3,686.7 801.4,680.7 806.6,674.5 811.7,668.0 816.9,661.4 822.0,654.5 827.2,647.4 832.3,640.0 837.5,632.4 842.6,624.5 847.8,616.4 852.9,608.0 858.0,599.4 863.2,590.5 868.3,581.4 873.5,572.0 878.6,562.4 883.8,552.5 888.9,542.3 894.1,531.9 899.2,521.3 904.4,510.5 909.5,499.4 914.7,488.1 919.8,476.5 924.9,464.8 930.1,452.9 935.2,440.9 940.4,428.7 945.5,416.3 950.7,403.8 955.8,391.3 961.0,378.7 966.1,366.0 971.3,353.3 976.4,340.6 981.5,327.9 986.7,315.3 991.8,302.8 997.0,290.4 1002.1,278.1 1007.3,266.1 1012.4,254.2 1017.6,242.6 1022.7,231.3 1027.9,220.2 1033.0,209.5 1038.2,199.2 1043.3,189.2 1048.4,179.7 1053.6,170.6 1058.7,162.0 1063.9,153.8 1069.0,146.0 1074.2,138.8 1079.3,132.1 1084.5,125.8 1089.6,120.1 1094.8,114.8 1099.9,110.0 1105.1,105.6 1110.2,101.7 1115.3,98.2 1120.5,95.2 1125.6,92.5 1130.8,90.1 1135.9,88.1 1141.1,86.3 1146.2,84.8 1151.4,83.6 1156.5,82.6 1161.7,81.7 1166.8,81.0 1172.0,80.5 1177.1,80.0 1182.2,79.7 1187.4,79.4 1192.5,79.2 1197.7,79.1 1202.8,79.0 1208.0,78.9 1213.1,78.8 1218.3,78.8 1223.4,78.8 1228.6,78.8 1233.7,78.7 1238.8,78.7 1244.0,78.7 1249.1,78.7 1254.3,78.7 1259.4,78.7 1264.6,78.7 1269.7,78.7 1274.9,78.7 1280.0,78.7 1285.2,78.7 1290.3,78.7 1295.5,78.7 1300.6,78.7 1305.7,78.7 1310.9,78.7 1316.0,78.7 1321.2,78.7 1326.3,78.7 1331.5,78.7 1336.6,78.7 1341.8,78.7 1346.9,78.7 1352.1,78.7 1357.2,78.7 1362.4,78.7 1367.5,78.7 1372.6,78.7 1377.8,78.7 1382.9,78.7 1388.1,78.7 1393.2,78.7 1398.4,78.7 1403.5,78.7 1408.7,78.7 1413.8,78.7 1419.0,78.7" fill="none" stroke="#670748" stroke-width="2.3" stroke-linejoin="round"/>
<polyline points="158.2,827.9 163.3,827.9 168.5,827.9 173.6,827.9 178.8,827.9 183.9,827.9 189.1,827.8 194.2,827.8 199.4,827.8 204.5,827.8 209.6,827.8 214.8,827.7 219.9,827.7 225.1,827.7 230.2,827.6 235.4,827.6 240.5,827.6 245.7,827.5 250.8,827.5 256.0,827.5 261.1,827.4 266.3,827.4 271.4,827.3 276.5,827.3 281.7,827.2 286.8,827.2 292.0,827.1 297.1,827.0 302.3,827.0 307.4,826.9 312.6,826.8 317.7,826.7 322.9,826.7 328.0,826.6 333.2,826.5 338.3,826.4 343.4,826.3 348.6,826.2 353.7,826.1 358.9,826.0 364.0,825.9 369.2,825.7 374.3,825.6 379.5,825.5 384.6,825.3 389.8,825.2 394.9,825.0 400.1,824.9 405.2,824.7 410.3,824.5 415.5,824.4 420.6,824.2 425.8,824.0 430.9,823.7 436.1,823.5 441.2,823.3 446.4,823.0 451.5,822.8 456.7,822.5 461.8,822.3 466.9,822.0 472.1,821.7 477.2,821.3 482.4,821.0 487.5,820.6 492.7,820.3 497.8,819.9 503.0,819.5 508.1,819.1 513.3,818.6 518.4,818.2 523.6,817.7 528.7,817.2 533.8,816.7 539.0,816.1 544.1,815.5 549.3,814.9 554.4,814.3 559.6,813.6 564.7,813.0 569.9,812.2 575.0,811.5 580.2,810.7 585.3,809.9 590.5,809.0 595.6,808.1 600.7,807.1 605.9,806.1 611.0,805.1 616.2,804.0 621.3,802.9 626.5,801.7 631.6,800.5 636.8,799.2 641.9,797.8 647.1,796.4 652.2,794.9 657.4,793.4 662.5,791.8 667.6,790.1 672.8,788.3 677.9,786.5 683.1,784.6 688.2,782.6 693.4,780.5 698.5,778.3 703.7,776.0 708.8,773.6 714.0,771.2 719.1,768.6 724.2,765.9 729.4,763.1 734.5,760.1 739.7,757.1 744.8,753.9 750.0,750.5 755.1,747.1 760.3,743.5 765.4,739.7 770.6,735.8 775.7,731.7 780.9,727.5 786.0,723.1 791.1,718.5 796.3,713.7 801.4,708.8 806.6,703.6 811.7,698.3 816.9,692.7 822.0,687.0 827.2,681.0 832.3,674.8 837.5,668.4 842.6,661.8 847.8,654.9 852.9,647.8 858.0,640.5 863.2,632.9 868.3,625.1 873.5,617.0 878.6,608.7 883.8,600.1 888.9,591.2 894.1,582.1 899.2,572.8 904.4,563.2 909.5,553.4 914.7,543.3 919.8,532.9 924.9,522.3 930.1,511.5 935.2,500.5 940.4,489.3 945.5,477.9 950.7,466.2 955.8,454.4 961.0,442.5 966.1,430.4 971.3,418.2 976.4,405.8 981.5,393.4 986.7,380.9 991.8,368.4 997.0,355.9 1002.1,343.3 1007.3,330.8 1012.4,318.4 1017.6,306.0 1022.7,293.8 1027.9,281.7 1033.0,269.7 1038.2,257.9 1043.3,246.4 1048.4,235.0 1053.6,224.0 1058.7,213.3 1063.9,202.8 1069.0,192.8 1074.2,183.1 1079.3,173.9 1084.5,165.1 1089.6,156.7 1094.8,148.8 1099.9,141.4 1105.1,134.5 1110.2,128.1 1115.3,122.1 1120.5,116.7 1125.6,111.7 1130.8,107.2 1135.9,103.1 1141.1,99.5 1146.2,96.3 1151.4,93.4 1156.5,90.9 1161.7,88.8 1166.8,86.9 1172.0,85.4 1177.1,84.0 1182.2,82.9 1187.4,82.0 1192.5,81.3 1197.7,80.7 1202.8,80.2 1208.0,79.8 1213.1,79.5 1218.3,79.3 1223.4,79.1 1228.6,79.0 1233.7,78.9 1238.8,78.9 1244.0,78.8 1249.1,78.8 1254.3,78.8 1259.4,78.7 1264.6,78.7 1269.7,78.7 1274.9,78.7 1280.0,78.7 1285.2,78.7 1290.3,78.7 1295.5,78.7 1300.6,78.7 1305.7,78.7 1310.9,78.7 1316.0,78.7 1321.2,78.7 1326.3,78.7 1331.5,78.7 1336.6,78.7 1341.8,78.7 1346.9,78.7 1352.1,78.7 1357.2,78.7 1362.4,78.7 1367.5,78.7 1372.6,78.7 1377.8,78.7 1382.9,78.7 1388.1,78.7 1393.2,78.7 1398.4,78.7 1403.5,78.7 1408.7,78.7 1413.8,78.7 1419.0,78.7" fill="none" stroke="#9400d3" stroke-width="2.3" stroke-linejoin="round"/>
<polyline points="158.2,827.9 163.3,827.9 168.5,827.9 173.6,827.9 178.8,827.9 183.9,827.9 189.1,827.9 194.2,827.8 199.4,827.8 204.5,827.8 209.6,827.8 214.8,827.8 219.9,827.7 225.1,827.7 230.2,827.7 235.4,827.7 240.5,827.6 245.7,827.6 250.8,827.6 256.0,827.5 261.1,827.5 266.3,827.5 271.4,827.4 276.5,827.4 281.7,827.3 286.8,827.3 292.0,827.2 297.1,827.2 302.3,827.1 307.4,827.1 312.6,827.0 317.7,827.0 322.9,826.9 328.0,826.8 333.2,826.7 338.3,826.7 343.4,826.6 348.6,826.5 353.7,826.4 358.9,826.3 364.0,826.2 369.2,826.1 374.3,826.0 379.5,825.9 384.6,825.8 389.8,825.7 394.9,825.6 400.1,825.4 405.2,825.3 410.3,825.2 415.5,825.0 420.6,824.9 425.8,824.7 430.9,824.5 436.1,824.3 441.2,824.2 446.4,824.0 451.5,823.8 456.7,823.5 461.8,823.3 466.9,823.1 472.1,822.8 477.2,822.6 482.4,822.3 487.5,822.0 492.7,821.7 497.8,821.4 503.0,821.1 508.1,820.7 513.3,820.4 518.4,820.0 523.6,819.6 528.7,819.2 533.8,818.8 539.0,818.3 544.1,817.9 549.3,817.4 554.4,816.9 559.6,816.3 564.7,815.8 569.9,815.2 575.0,814.6 580.2,813.9 585.3,813.3 590.5,812.5 595.6,811.8 600.7,811.0 605.9,810.2 611.0,809.4 616.2,808.5 621.3,807.6 626.5,806.6 631.6,805.6 636.8,804.6 641.9,803.5 647.1,802.3 652.2,801.1 657.4,799.9 662.5,798.5 667.6,797.2 672.8,795.7 677.9,794.2 683.1,792.7 688.2,791.0 693.4,789.3 698.5,787.5 703.7,785.6 708.8,783.7 714.0,781.7 719.1,779.5 724.2,777.3 729.4,775.0 734.5,772.6 739.7,770.1 744.8,767.4 750.0,764.7 755.1,761.8 760.3,758.8 765.4,755.7 770.6,752.5 775.7,749.1 780.9,745.6 786.0,741.9 791.1,738.1 796.3,734.1 801.4,730.0 806.6,725.7 811.7,721.2 816.9,716.5 822.0,711.7 827.2,706.7 832.3,701.5 837.5,696.0 842.6,690.4 847.8,684.6 852.9,678.5 858.0,672.3 863.2,665.8 868.3,659.0 873.5,652.1 878.6,644.9 883.8,637.4 888.9,629.8 894.1,621.8 899.2,613.6 904.4,605.2 909.5,596.5 914.7,587.6 919.8,578.4 924.9,568.9 930.1,559.2 935.2,549.2 940.4,539.0 945.5,528.5 950.7,517.8 955.8,506.9 961.0,495.8 966.1,484.4 971.3,472.8 976.4,461.0 981.5,449.1 986.7,437.0 991.8,424.8 997.0,412.4 1002.1,399.9 1007.3,387.3 1012.4,374.7 1017.6,362.0 1022.7,349.3 1027.9,336.6 1033.0,323.9 1038.2,311.4 1043.3,298.9 1048.4,286.5 1053.6,274.3 1058.7,262.3 1063.9,250.6 1069.0,239.0 1074.2,227.8 1079.3,216.9 1084.5,206.3 1089.6,196.1 1094.8,186.3 1099.9,176.9 1105.1,167.9 1110.2,159.4 1115.3,151.3 1120.5,143.8 1125.6,136.7 1130.8,130.1 1135.9,124.0 1141.1,118.4 1146.2,113.3 1151.4,108.6 1156.5,104.4 1161.7,100.6 1166.8,97.3 1172.0,94.3 1177.1,91.7 1182.2,89.4 1187.4,87.5 1192.5,85.8 1197.7,84.4 1202.8,83.3 1208.0,82.3 1213.1,81.5 1218.3,80.9 1223.4,80.3 1228.6,79.9 1233.7,79.6 1238.8,79.4 1244.0,79.2 1249.1,79.1 1254.3,79.0 1259.4,78.9 1264.6,78.8 1269.7,78.8 1274.9,78.8 1280.0,78.8 1285.2,78.7 1290.3,78.7 1295.5,78.7 1300.6,78.7 1305.7,78.7 1310.9,78.7 1316.0,78.7 1321.2,78.7 1326.3,78.7 1331.5,78.7 1336.6,78.7 1341.8,78.7 1346.9,78.7 1352.1,78.7 1357.2,78.7 1362.4,78.7 1367.5,78.7 1372.6,78.7 1377.8,78.7 1382.9,78.7 1388.1,78.7 1393.2,78.7 1398.4,78.7 1403.5,78.7 1408.7,78.7 1413.8,78.7 1419.0,78.7" fill="none" stroke="#00ffff" stroke-width="2.3" stroke-linejoin="round"/>
<polyline points="158.2,828.0 163.3,828.0 168.5,827.9 173.6,827.9 178.8,827.9 183.9,827.9 189.1,827.9 194.2,827.9 199.4,827.9 204.5,827.9 209.6,827.8 214.8,827.8 219.9,827.8 225.1,827.8 230.2,827.8 235.4,827.7 240.5,827.7 245.7,827.7 250.8,827.7 256.0,827.6 261.1,827.6 266.3,827.6 271.4,827.6 276.5,827.5 281.7,827.5 286.8,827.5 292.0,827.4 297.1,827.4 302.3,827.3 307.4,827.3 312.6,827.3 317.7,827.2 322.9,827.2 328.0,827.1 333.2,827.1 338.3,827.0 343.4,827.0 348.6,826.9 353.7,826.8 358.9,826.8 364.0,826.7 369.2,826.6 374.3,826.5 379.5,826.5 384.6,826.4 389.8,826.3 394.9,826.2 400.1,826.1 405.2,826.0 410.3,825.9 415.5,825.8 420.6,825.7 425.8,825.6 430.9,825.4 436.1,825.3 441.2,825.2 446.4,825.0 451.5,824.9 456.7,824.7 461.8,824.6 466.9,824.4 472.1,824.2 477.2,824.0 482.4,823.8 487.5,823.6 492.7,823.4 497.8,823.2 503.0,822.9 508.1,822.7 513.3,822.4 518.4,822.1 523.6,821.9 528.7,821.6 533.8,821.3 539.0,820.9 544.1,820.6 549.3,820.2 554.4,819.8 559.6,819.5 564.7,819.0 569.9,818.6 575.0,818.2 580.2,817.7 585.3,817.2 590.5,816.7 595.6,816.1 600.7,815.6 605.9,815.0 611.0,814.4 616.2,813.7 621.3,813.0 626.5,812.3 631.6,811.6 636.8,810.8 641.9,810.0 647.1,809.2 652.2,808.3 657.4,807.4 662.5,806.4 667.6,805.4 672.8,804.3 677.9,803.2 683.1,802.0 688.2,800.8 693.4,799.6 698.5,798.2 703.7,796.9 708.8,795.4 714.0,793.9 719.1,792.3 724.2,790.7 729.4,789.0 734.5,787.2 739.7,785.3 744.8,783.3 750.0,781.3 755.1,779.1 760.3,776.9 765.4,774.6 770.6,772.1 775.7,769.6 780.9,767.0 786.0,764.2 791.1,761.3 796.3,758.3 801.4,755.2 806.6,751.9 811.7,748.5 816.9,745.0 822.0,741.3 827.2,737.5 832.3,733.5 837.5,729.3 842.6,725.0 847.8,720.5 852.9,715.8 858.0,710.9 863.2,705.9 868.3,700.7 873.5,695.2 878.6,689.6 883.8,683.7 888.9,677.6 894.1,671.3 899.2,664.8 904.4,658.1 909.5,651.1 914.7,643.8 919.8,636.4 924.9,628.7 930.1,620.7 935.2,612.5 940.4,604.0 945.5,595.3 950.7,586.3 955.8,577.1 961.0,567.6 966.1,557.9 971.3,547.9 976.4,537.7 981.5,527.2 986.7,516.5 991.8,505.6 997.0,494.5 1002.1,483.1 1007.3,471.6 1012.4,459.9 1017.6,448.0 1022.7,435.9 1027.9,423.8 1033.0,411.5 1038.2,399.1 1043.3,386.6 1048.4,374.1 1053.6,361.5 1058.7,349.0 1063.9,336.4 1069.0,323.9 1074.2,311.5 1079.3,299.2 1084.5,287.0 1089.6,274.9 1094.8,263.0 1099.9,251.3 1105.1,239.9 1110.2,228.7 1115.3,217.8 1120.5,207.3 1125.6,197.1 1130.8,187.2 1135.9,177.8 1141.1,168.8 1146.2,160.2 1151.4,152.1 1156.5,144.5 1161.7,137.4 1166.8,130.8 1172.0,124.6 1177.1,119.0 1182.2,113.8 1187.4,109.1 1192.5,104.8 1197.7,101.0 1202.8,97.6 1208.0,94.6 1213.1,92.0 1218.3,89.7 1223.4,87.7 1228.6,86.0 1233.7,84.6 1238.8,83.4 1244.0,82.4 1249.1,81.6 1254.3,80.9 1259.4,80.4 1264.6,80.0 1269.7,79.6 1274.9,79.4 1280.0,79.2 1285.2,79.1 1290.3,79.0 1295.5,78.9 1300.6,78.8 1305.7,78.8 1310.9,78.8 1316.0,78.8 1321.2,78.7 1326.3,78.7 1331.5,78.7 1336.6,78.7 1341.8,78.7 1346.9,78.7 1352.1,78.7 1357.2,78.7 1362.4,78.7 1367.5,78.7 1372.6,78.7 1377.8,78.7 1382.9,78.7 1388.1,78.7 1393.2,78.7 1398.4,78.7 1403.5,78.7 1408.7,78.7 1413.8,78.7 1419.0,78.7" fill="none" stroke="#ff00ff" stroke-width="2.3" stroke-linejoin="round"/>
</g>
<rect x="132.65" y="2.45" width="1287.1499999999999" height="900.8499999999999" fill="none" stroke="#000" stroke-width="5.2"/>
<path d="M133.3,903.3v-12.8M133.3,2.45v12.8M178.6,903.3v-12.8M178.6,2.45v12.8M210.7,903.3v-12.8M210.7,2.45v12.8M235.6,903.3v-12.8M235.6,2.45v12.8M256.0,903.3v-12.8M256.0,2.45v12.8M273.2,903.3v-12.8M273.2,2.45v12.8M288.2,903.3v-12.8M288.2,2.45v12.8M301.3,903.3v-12.8M301.3,2.45v12.8M313.1,903.3v-25.5M313.1,2.45v25.5M390.6,903.3v-12.8M390.6,2.45v12.8M435.9,903.3v-12.8M435.9,2.45v12.8M468.0,903.3v-12.8M468.0,2.45v12.8M492.9,903.3v-12.8M492.9,2.45v12.8M513.3,903.3v-12.8M513.3,2.45v12.8M530.5,903.3v-12.8M530.5,2.45v12.8M545.5,903.3v-12.8M545.5,2.45v12.8M558.6,903.3v-12.8M558.6,2.45v12.8M570.4,903.3v-25.5M570.4,2.45v25.5M647.9,903.3v-12.8M647.9,2.45v12.8M693.2,903.3v-12.8M693.2,2.45v12.8M725.3,903.3v-12.8M725.3,2.45v12.8M750.2,903.3v-12.8M750.2,2.45v12.8M770.6,903.3v-12.8M770.6,2.45v12.8M787.8,903.3v-12.8M787.8,2.45v12.8M802.8,903.3v-12.8M802.8,2.45v12.8M815.9,903.3v-12.8M815.9,2.45v12.8M827.7,903.3v-25.5M827.7,2.45v25.5M905.2,903.3v-12.8M905.2,2.45v12.8M950.5,903.3v-12.8M950.5,2.45v12.8M982.6,903.3v-12.8M982.6,2.45v12.8M1007.5,903.3v-12.8M1007.5,2.45v12.8M1027.9,903.3v-12.8M1027.9,2.45v12.8M1045.1,903.3v-12.8M1045.1,2.45v12.8M1060.1,903.3v-12.8M1060.1,2.45v12.8M1073.2,903.3v-12.8M1073.2,2.45v12.8M1085.0,903.3v-25.5M1085.0,2.45v25.5M1162.5,903.3v-12.8M1162.5,2.45v12.8M1207.8,903.3v-12.8M1207.8,2.45v12.8M1239.9,903.3v-12.8M1239.9,2.45v12.8M1264.8,903.3v-12.8M1264.8,2.45v12.8M1285.2,903.3v-12.8M1285.2,2.45v12.8M1302.4,903.3v-12.8M1302.4,2.45v12.8M1317.4,903.3v-12.8M1317.4,2.45v12.8M1330.5,903.3v-12.8M1330.5,2.45v12.8M1342.3,903.3v-25.5M1342.3,2.45v25.5M1419.8,903.3v-12.8M1419.8,2.45v12.8M132.65,828.1h25.5M132.65,734.3h12.8M132.65,640.5h25.5M132.65,546.7h12.8M132.65,452.9h25.5M132.65,359.0h12.8M132.65,265.2h25.5M132.65,171.4h12.8M132.65,77.6h25.5" stroke="#000" stroke-width="2.3" fill="none"/>
<text x="63.94" y="843.30" font-size="45.8" textLength="57.82" lengthAdjust="spacingAndGlyphs">0.0</text>
<text x="63.98" y="655.68" font-size="45.8" textLength="57.82" lengthAdjust="spacingAndGlyphs">0.5</text>
<text x="63.94" y="468.05" font-size="45.8" textLength="57.82" lengthAdjust="spacingAndGlyphs">1.0</text>
<text x="63.98" y="280.43" font-size="45.8" textLength="57.82" lengthAdjust="spacingAndGlyphs">1.5</text>
<text x="63.94" y="92.80" font-size="45.8" textLength="57.82" lengthAdjust="spacingAndGlyphs">2.0</text>
<text x="284.08" y="965.30" font-size="45.5" textLength="43.48" lengthAdjust="spacingAndGlyphs">10</text>
<text x="327.87" y="937.20" font-size="29.6">0</text>
<text x="541.38" y="965.30" font-size="45.5" textLength="43.48" lengthAdjust="spacingAndGlyphs">10</text>
<text x="584.70" y="937.20" font-size="29.6">1</text>
<text x="798.68" y="965.30" font-size="45.5" textLength="43.48" lengthAdjust="spacingAndGlyphs">10</text>
<text x="842.30" y="937.20" font-size="29.6">2</text>
<text x="1055.98" y="965.30" font-size="45.5" textLength="43.48" lengthAdjust="spacingAndGlyphs">10</text>
<text x="1099.48" y="937.20" font-size="29.6">3</text>
<text x="1313.28" y="965.30" font-size="45.5" textLength="43.48" lengthAdjust="spacingAndGlyphs">10</text>
<text x="1357.62" y="937.20" font-size="29.6">4</text>
<text x="652.07" y="1030.90" font-size="64.5" textLength="18.01" lengthAdjust="spacingAndGlyphs">t</text>
<text x="684.69" y="1030.90" font-size="62" textLength="21.26" lengthAdjust="spacingAndGlyphs">(</text>
<text x="704.36" y="1030.90" font-size="61.5" textLength="26.27" lengthAdjust="spacingAndGlyphs">τ</text>
<text x="729.38" y="1050.30" font-size="55" textLength="36.39" lengthAdjust="spacingAndGlyphs">L</text>
<text x="763.51" y="1050.30" font-size="55" textLength="21.97" lengthAdjust="spacingAndGlyphs">J</text>
<text x="776.14" y="1030.90" font-size="71.5" textLength="25.41" lengthAdjust="spacingAndGlyphs">)</text>
<g transform="translate(55.6,598.6) rotate(-90)"><text x="-1.79" y="0.00" font-size="62" textLength="179.58" lengthAdjust="spacingAndGlyphs">MSAD</text><text x="192.11" y="0.00" font-size="62.5" textLength="22.69" lengthAdjust="spacingAndGlyphs">(</text><text x="214.42" y="0.00" font-size="61" font-style="italic" textLength="41.70" lengthAdjust="spacingAndGlyphs">C</text><text x="269.00" y="0.00" font-size="62.5" textLength="22.69" lengthAdjust="spacingAndGlyphs">)</text><path d="M228.5,-48.6c3.5,-5.5 9,-6.5 14.5,-2.6c5.5,3.9 11,3 15.5,-3.4" fill="none" stroke="#000" stroke-width="2.6" stroke-linecap="round"/></g>
<circle cx="1170.0" cy="188.6" r="6.4" fill="none" stroke="#000000" stroke-width="2.2"/>
<text x="1218.26" y="198.50" font-size="43.5" font-style="italic" textLength="23.40" lengthAdjust="spacingAndGlyphs">ϕ</text><text x="1248.08" y="198.50" font-size="44" textLength="29.69" lengthAdjust="spacingAndGlyphs">=</text><text x="1285.98" y="198.50" font-size="43.5" textLength="101.54" lengthAdjust="spacingAndGlyphs">0.260</text>
<rect x="1164.5" y="237.0" width="10.9" height="10.9" fill="none" stroke="#ff0000" stroke-width="2.2"/>
<text x="1218.26" y="252.35" font-size="43.5" font-style="italic" textLength="23.40" lengthAdjust="spacingAndGlyphs">ϕ</text><text x="1248.08" y="252.35" font-size="44" textLength="29.69" lengthAdjust="spacingAndGlyphs">=</text><text x="1285.99" y="252.35" font-size="43.5" textLength="101.15" lengthAdjust="spacingAndGlyphs">0.336</text>
<path d="M1170.0,290.1l6.2,6.2l-6.2,6.2l-6.2,-6.2z" fill="none" stroke="#008b00" stroke-width="2.2"/>
<text x="1218.26" y="306.20" font-size="43.5" font-style="italic" textLength="23.40" lengthAdjust="spacingAndGlyphs">ϕ</text><text x="1248.08" y="306.20" font-size="44" textLength="29.69" lengthAdjust="spacingAndGlyphs">=</text><text x="1285.98" y="306.20" font-size="43.5" textLength="101.58" lengthAdjust="spacingAndGlyphs">0.385</text>
<path d="M1170.0,343.0L1176.2,353.7L1163.8,353.7z" fill="none" stroke="#0000ff" stroke-width="2.2"/>
<text x="1218.26" y="360.05" font-size="43.5" font-style="italic" textLength="23.40" lengthAdjust="spacingAndGlyphs">ϕ</text><text x="1248.08" y="360.05" font-size="44" textLength="29.69" lengthAdjust="spacingAndGlyphs">=</text><text x="1285.98" y="360.05" font-size="43.5" textLength="101.54" lengthAdjust="spacingAndGlyphs">0.420</text>
<path d="M1162.9,404.0L1173.6,397.9L1173.6,410.1z" fill="none" stroke="#ffff00" stroke-width="2.2"/>
<text x="1218.26" y="413.90" font-size="43.5" font-style="italic" textLength="23.40" lengthAdjust="spacingAndGlyphs">ϕ</text><text x="1248.08" y="413.90" font-size="44" textLength="29.69" lengthAdjust="spacingAndGlyphs">=</text><text x="1285.98" y="413.90" font-size="43.5" textLength="101.54" lengthAdjust="spacingAndGlyphs">0.450</text>
<path d="M1170.0,465.0L1176.2,454.3L1163.8,454.3z" fill="none" stroke="#bc8f8f" stroke-width="2.2"/>
<text x="1218.26" y="467.75" font-size="43.5" font-style="italic" textLength="23.40" lengthAdjust="spacingAndGlyphs">ϕ</text><text x="1248.08" y="467.75" font-size="44" textLength="29.69" lengthAdjust="spacingAndGlyphs">=</text><text x="1285.98" y="467.75" font-size="43.5" textLength="101.54" lengthAdjust="spacingAndGlyphs">0.470</text>
<path d="M1177.1,511.7L1166.4,505.6L1166.4,517.9z" fill="none" stroke="#670748" stroke-width="2.2"/>
<text x="1218.26" y="521.60" font-size="43.5" font-style="italic" textLength="23.40" lengthAdjust="spacingAndGlyphs">ϕ</text><text x="1248.08" y="521.60" font-size="44" textLength="29.69" lengthAdjust="spacingAndGlyphs">=</text><text x="1285.98" y="521.60" font-size="43.5" textLength="101.54" lengthAdjust="spacingAndGlyphs">0.488</text>
<path d="M1163.7,565.5h12.6M1170.0,559.2v12.6" fill="none" stroke="#9400d3" stroke-width="2.2"/>
<text x="1218.26" y="575.45" font-size="43.5" font-style="italic" textLength="23.40" lengthAdjust="spacingAndGlyphs">ϕ</text><text x="1248.08" y="575.45" font-size="44" textLength="29.69" lengthAdjust="spacingAndGlyphs">=</text><text x="1285.98" y="575.45" font-size="43.5" textLength="101.58" lengthAdjust="spacingAndGlyphs">0.505</text>
<path d="M1165.5,614.9l9.0,9.0M1165.5,623.9l9.0,-9.0" fill="none" stroke="#00ffff" stroke-width="2.2"/>
<text x="1218.26" y="629.30" font-size="43.5" font-style="italic" textLength="23.40" lengthAdjust="spacingAndGlyphs">ϕ</text><text x="1248.08" y="629.30" font-size="44" textLength="29.69" lengthAdjust="spacingAndGlyphs">=</text><text x="1285.98" y="629.30" font-size="43.5" textLength="101.54" lengthAdjust="spacingAndGlyphs">0.520</text>
<path d="M1163.7,673.2h12.6M1170.0,667.0v12.6M1165.5,668.8l9.0,9.0M1165.5,677.8l9.0,-9.0" fill="none" stroke="#ff00ff" stroke-width="2.2"/>
<text x="1218.26" y="683.15" font-size="43.5" font-style="italic" textLength="23.40" lengthAdjust="spacingAndGlyphs">ϕ</text><text x="1248.08" y="683.15" font-size="44" textLength="29.69" lengthAdjust="spacingAndGlyphs">=</text><text x="1286.00" y="683.15" font-size="43.5" textLength="100.50" lengthAdjust="spacingAndGlyphs">0.534</text>
<text x="424.98" y="582.20" font-size="44" textLength="179.85" lengthAdjust="spacingAndGlyphs">increasing</text><text x="617.02" y="582.20" font-size="44.2" font-style="italic" textLength="33.62" lengthAdjust="spacingAndGlyphs">Φ</text>
<path d="M546.4,604.3L966.0,615.6" stroke="#000" stroke-width="3.5" fill="none"/>
<path d="M986.5,616.1L957.3,624.1L966.0,615.6L957.7,606.5z" fill="#000"/>
<circle cx="164.8" cy="696.1" r="12.1" fill="#ff0000"/><circle cx="188.9" cy="696.1" r="12.1" fill="#ff0000"/><circle cx="213.1" cy="696.1" r="12.1" fill="#ff0000"/><circle cx="237.3" cy="696.1" r="12.1" fill="#ff0000"/><circle cx="261.5" cy="696.1" r="12.1" fill="#ff0000"/><circle cx="285.6" cy="696.1" r="12.1" fill="#ff0000"/><circle cx="309.8" cy="696.1" r="12.1" fill="#ff0000"/><circle cx="334.0" cy="696.1" r="12.1" fill="#ff0000"/><circle cx="358.2" cy="696.1" r="12.1" fill="#ff0000"/><circle cx="382.4" cy="696.1" r="12.1" fill="#ff0000"/><circle cx="406.6" cy="696.1" r="12.1" fill="#ff0000"/><circle cx="430.7" cy="696.1" r="12.1" fill="#000080"/>
<circle cx="164.8" cy="747.1" r="12.1" fill="#ff0000"/><circle cx="188.9" cy="747.1" r="12.1" fill="#ff0000"/><circle cx="213.1" cy="747.1" r="12.1" fill="#ff0000"/><circle cx="237.3" cy="747.1" r="12.1" fill="#ff0000"/><circle cx="261.5" cy="747.1" r="12.1" fill="#ff0000"/><circle cx="285.6" cy="747.1" r="12.1" fill="#ff0000"/><circle cx="309.8" cy="747.1" r="12.1" fill="#ff0000"/><circle cx="334.0" cy="747.1" r="12.1" fill="#ff0000"/><circle cx="358.2" cy="747.1" r="12.1" fill="#ff0000"/><circle cx="382.4" cy="747.1" r="12.1" fill="#ff0000"/><circle cx="406.6" cy="747.1" r="12.1" fill="#ff0000"/><circle cx="430.7" cy="747.1" r="12.1" fill="#000080"/>
<circle cx="964.2" cy="770.3" r="12.1" fill="#ff0000"/><circle cx="988.1" cy="770.3" r="12.1" fill="#ff0000"/><circle cx="1011.9" cy="770.3" r="12.1" fill="#ff0000"/><circle cx="1035.8" cy="770.3" r="12.1" fill="#ff0000"/><circle cx="1059.6" cy="770.3" r="12.1" fill="#ff0000"/><circle cx="1083.5" cy="770.3" r="12.1" fill="#ff0000"/><circle cx="1107.3" cy="770.3" r="12.1" fill="#ff0000"/><circle cx="1131.2" cy="770.3" r="12.1" fill="#ff0000"/><circle cx="1155.0" cy="770.3" r="12.1" fill="#ff0000"/><circle cx="1178.9" cy="770.3" r="12.1" fill="#ff0000"/><circle cx="1202.7" cy="770.3" r="12.1" fill="#ff0000"/><circle cx="1226.6" cy="770.3" r="12.1" fill="#000080"/>
<circle cx="964.2" cy="821.4" r="12.1" fill="#000080"/><circle cx="988.1" cy="821.4" r="12.1" fill="#ff0000"/><circle cx="1011.9" cy="821.4" r="12.1" fill="#ff0000"/><circle cx="1035.8" cy="821.4" r="12.1" fill="#ff0000"/><circle cx="1059.6" cy="821.4" r="12.1" fill="#ff0000"/><circle cx="1083.5" cy="821.4" r="12.1" fill="#ff0000"/><circle cx="1107.3" cy="821.4" r="12.1" fill="#ff0000"/><circle cx="1131.2" cy="821.4" r="12.1" fill="#ff0000"/><circle cx="1155.0" cy="821.4" r="12.1" fill="#ff0000"/><circle cx="1178.9" cy="821.4" r="12.1" fill="#ff0000"/><circle cx="1202.7" cy="821.4" r="12.1" fill="#ff0000"/><circle cx="1226.6" cy="821.4" r="12.1" fill="#ff0000"/>
<text x="234.04" y="659.00" font-size="38" font-style="italic" font-weight="bold" textLength="26.73" lengthAdjust="spacingAndGlyphs">u</text><text x="260.79" y="659.00" font-size="38.4" stroke="#fff" stroke-width="0.5" textLength="17.50" lengthAdjust="spacingAndGlyphs">(</text><text x="277.47" y="659.00" font-size="38" font-style="italic" textLength="13.46" lengthAdjust="spacingAndGlyphs">t</text><text x="290.96" y="666.60" font-size="26.2" textLength="16.28" lengthAdjust="spacingAndGlyphs">0</text><text x="307.13" y="659.00" font-size="38.4" stroke="#fff" stroke-width="0.5" textLength="17.24" lengthAdjust="spacingAndGlyphs">)</text>
<text x="234.04" y="790.30" font-size="38" font-style="italic" font-weight="bold" textLength="26.73" lengthAdjust="spacingAndGlyphs">u</text><text x="260.79" y="790.30" font-size="38.4" stroke="#fff" stroke-width="0.5" textLength="17.50" lengthAdjust="spacingAndGlyphs">(</text><text x="277.47" y="790.30" font-size="38" font-style="italic" textLength="13.46" lengthAdjust="spacingAndGlyphs">t</text><text x="290.96" y="797.90" font-size="26.2" textLength="16.28" lengthAdjust="spacingAndGlyphs">0</text><text x="307.13" y="790.30" font-size="38.4" stroke="#fff" stroke-width="0.5" textLength="17.24" lengthAdjust="spacingAndGlyphs">)</text>
<text x="1052.74" y="745.70" font-size="38" font-style="italic" font-weight="bold" textLength="26.73" lengthAdjust="spacingAndGlyphs">u</text><text x="1079.49" y="745.70" font-size="38.4" stroke="#fff" stroke-width="0.5" textLength="17.50" lengthAdjust="spacingAndGlyphs">(</text><text x="1096.17" y="745.70" font-size="38" font-style="italic" textLength="13.46" lengthAdjust="spacingAndGlyphs">t</text><text x="1109.66" y="753.30" font-size="26.2" textLength="16.28" lengthAdjust="spacingAndGlyphs">0</text><text x="1125.83" y="745.70" font-size="38.4" stroke="#fff" stroke-width="0.5" textLength="17.24" lengthAdjust="spacingAndGlyphs">)</text>
<text x="1019.04" y="866.70" font-size="38" font-style="italic" font-weight="bold" textLength="26.73" lengthAdjust="spacingAndGlyphs">u</text><text x="1045.79" y="866.70" font-size="38.4" stroke="#fff" stroke-width="0.5" textLength="17.50" lengthAdjust="spacingAndGlyphs">(</text><text x="1062.47" y="866.70" font-size="38" font-style="italic" textLength="13.46" lengthAdjust="spacingAndGlyphs">t</text><text x="1075.96" y="874.30" font-size="26.2" textLength="16.28" lengthAdjust="spacingAndGlyphs">0</text><text x="1090.19" y="868.20" font-size="43" stroke="#fff" stroke-width="0.4" textLength="30.66" lengthAdjust="spacingAndGlyphs">+</text><text x="1119.11" y="866.70" font-size="37" font-weight="bold" textLength="18.56" lengthAdjust="spacingAndGlyphs">τ</text><text x="1139.60" y="874.30" font-size="22.9" textLength="18.54" lengthAdjust="spacingAndGlyphs">R</text><text x="1159.18" y="866.70" font-size="38.4" stroke="#fff" stroke-width="0.5" textLength="17.76" lengthAdjust="spacingAndGlyphs">)</text>
<path d="M268.6,97.5H673.9M268.6,384.3H673.9M319.2,384.3v-4.8M319.2,97.5v4.8M369.9,384.3v-9.0M369.9,97.5v9.0M420.6,384.3v-4.8M420.6,97.5v4.8M471.2,384.3v-9.0M471.2,97.5v9.0M521.9,384.3v-4.8M521.9,97.5v4.8M572.5,384.3v-9.0M572.5,97.5v9.0M623.2,384.3v-4.8M623.2,97.5v4.8" stroke="#000" stroke-width="1.5" fill="none"/>
<path d="M268.6,96.8V385.0M268.6,384.3h9.5M268.6,348.4h5M268.6,312.6h9.5M268.6,276.7h5M268.6,240.8h9.5M268.6,204.9h5M268.6,169.1h9.5M268.6,133.2h5M268.6,97.3h9.5" stroke="#008b00" stroke-width="1.5" fill="none"/>
<path d="M673.9,96.8V385.0M673.9,384.3h-10M673.9,352.4h-5M673.9,320.5h-10M673.9,288.6h-5M673.9,256.7h-10M673.9,224.8h-5M673.9,192.9h-10M673.9,161.0h-5M673.9,129.1h-10" stroke="#000080" stroke-width="1.5" fill="none"/>
<polyline points="330.0,122.5 406.0,214.2 456.0,263.5 491.5,291 520.8,315 542.5,327.5 561.1,341 577.6,349.5 593.5,356 606.9,363.5" fill="none" stroke="#000080" stroke-width="3.1"/>
<rect x="324.7" y="117.2" width="10.6" height="10.6" fill="#000080"/><rect x="400.7" y="208.9" width="10.6" height="10.6" fill="#000080"/><rect x="450.7" y="258.2" width="10.6" height="10.6" fill="#000080"/><rect x="486.2" y="285.7" width="10.6" height="10.6" fill="#000080"/><rect x="515.5" y="309.7" width="10.6" height="10.6" fill="#000080"/><rect x="537.2" y="322.2" width="10.6" height="10.6" fill="#000080"/><rect x="555.8" y="335.7" width="10.6" height="10.6" fill="#000080"/><rect x="572.3" y="344.2" width="10.6" height="10.6" fill="#000080"/><rect x="588.2" y="350.7" width="10.6" height="10.6" fill="#000080"/><rect x="601.6" y="358.2" width="10.6" height="10.6" fill="#000080"/>
<polyline points="330.0,367.5 406.0,357.5 456.0,347.4 491.5,336.3 520.8,317.8 542.5,304.1 561.1,281.5 577.6,253.4 593.5,223.8 606.9,164.4" fill="none" stroke="#008b00" stroke-width="3.1"/>
<circle cx="330.0" cy="367.5" r="6.7" fill="#008b00"/><circle cx="406.0" cy="357.5" r="6.7" fill="#008b00"/><circle cx="456.0" cy="347.4" r="6.7" fill="#008b00"/><circle cx="491.5" cy="336.3" r="6.7" fill="#008b00"/><circle cx="520.8" cy="317.8" r="6.7" fill="#008b00"/><circle cx="542.5" cy="304.1" r="6.7" fill="#008b00"/><circle cx="561.1" cy="281.5" r="6.7" fill="#008b00"/><circle cx="577.6" cy="253.4" r="6.7" fill="#008b00"/><circle cx="593.5" cy="223.8" r="6.7" fill="#008b00"/><circle cx="606.9" cy="164.4" r="6.7" fill="#008b00"/>
<text x="254.06" y="419.20" font-size="37.3" textLength="50.57" lengthAdjust="spacingAndGlyphs">0.2</text>
<text x="356.14" y="419.20" font-size="37.3" textLength="48.07" lengthAdjust="spacingAndGlyphs">0.3</text>
<text x="456.61" y="419.20" font-size="37.3" textLength="48.90" lengthAdjust="spacingAndGlyphs">0.4</text>
<text x="558.66" y="419.20" font-size="37.3" textLength="47.21" lengthAdjust="spacingAndGlyphs">0.5</text>
<text x="235.74" y="111.00" font-size="39" fill="#008b00" textLength="19.58" lengthAdjust="spacingAndGlyphs">4</text>
<text x="235.20" y="254.60" font-size="39" fill="#008b00" textLength="21.58" lengthAdjust="spacingAndGlyphs">2</text>
<text x="683.04" y="136.20" font-size="37.5" fill="#000080" textLength="19.11" lengthAdjust="spacingAndGlyphs">8</text>
<text x="683.76" y="263.90" font-size="37.5" fill="#000080" textLength="18.93" lengthAdjust="spacingAndGlyphs">4</text>
<text x="683.04" y="391.40" font-size="37.5" fill="#000080" textLength="19.11" lengthAdjust="spacingAndGlyphs">0</text>
<text x="432.40" y="458.40" font-size="39.5" font-style="italic" textLength="59.26" lengthAdjust="spacingAndGlyphs">Φ/b</text><text x="491.84" y="443.20" font-size="24.5" font-style="italic" textLength="14.89" lengthAdjust="spacingAndGlyphs">3</text>
<text x="341.81" y="238.20" font-size="35.4" font-style="italic" fill="#000080" textLength="26.54" lengthAdjust="spacingAndGlyphs">D</text><text x="369.45" y="254.90" font-size="29" font-style="italic" fill="#000080" textLength="16.50" lengthAdjust="spacingAndGlyphs">R</text>
<text x="614.11" y="228.30" font-size="44" font-style="italic" fill="#008b00" stroke="#fff" stroke-width="0.2" textLength="21.01" lengthAdjust="spacingAndGlyphs">τ</text><text x="629.18" y="246.60" font-size="31.5" font-style="italic" fill="#008b00" textLength="20.88" lengthAdjust="spacingAndGlyphs">R</text>
<g transform="translate(217.3,377.8) rotate(-90)"><text x="-1.08" y="0.00" font-size="48" font-style="italic" fill="#008b00" textLength="17.59" lengthAdjust="spacingAndGlyphs">τ</text><text x="16.40" y="9.20" font-size="32.4" fill="#008b00" textLength="20.95" lengthAdjust="spacingAndGlyphs">R</text><text x="44.49" y="0.00" font-size="48.2" fill="#008b00" textLength="18.28" lengthAdjust="spacingAndGlyphs">(</text><text x="62.22" y="0.00" font-size="48" fill="#008b00" textLength="26.21" lengthAdjust="spacingAndGlyphs">×</text><text x="91.78" y="0.00" font-size="48.5" fill="#008b00" textLength="18.32" lengthAdjust="spacingAndGlyphs">1</text><text x="113.12" y="0.00" font-size="48.5" fill="#008b00" textLength="24.66" lengthAdjust="spacingAndGlyphs">0</text><text x="149.93" y="-19.60" font-size="33.3" fill="#008b00" textLength="14.28" lengthAdjust="spacingAndGlyphs">3</text><text x="174.02" y="0.00" font-size="48" font-style="italic" fill="#008b00" textLength="17.59" lengthAdjust="spacingAndGlyphs">τ</text><text x="190.77" y="9.20" font-size="32.4" fill="#008b00" textLength="21.77" lengthAdjust="spacingAndGlyphs">L</text><text x="210.33" y="9.20" font-size="32.4" fill="#008b00" textLength="14.35" lengthAdjust="spacingAndGlyphs">J</text><text x="222.21" y="0.00" font-size="48.2" fill="#008b00" textLength="17.50" lengthAdjust="spacingAndGlyphs">)</text></g>
<g transform="translate(738.1,362.9) rotate(-90)"><text x="0.37" y="0.00" font-size="35.4" font-style="italic" fill="#000080" stroke="#fff" stroke-width="0.22" textLength="24.03" lengthAdjust="spacingAndGlyphs">D</text><text x="24.38" y="6.20" font-size="24" fill="#000080" stroke="#fff" stroke-width="0.22" textLength="14.35" lengthAdjust="spacingAndGlyphs">R</text><text x="46.07" y="0.00" font-size="33" fill="#000080" stroke="#fff" stroke-width="0.22" textLength="12.32" lengthAdjust="spacingAndGlyphs">(</text><text x="57.77" y="0.00" font-size="33" fill="#000080" stroke="#fff" stroke-width="0.22" textLength="17.33" lengthAdjust="spacingAndGlyphs">×</text><text x="78.48" y="0.00" font-size="34.4" fill="#000080" stroke="#fff" stroke-width="0.22" textLength="10.94" lengthAdjust="spacingAndGlyphs">1</text><text x="89.68" y="0.00" font-size="34.4" fill="#000080" stroke="#fff" stroke-width="0.22" textLength="18.64" lengthAdjust="spacingAndGlyphs">0</text><text x="108.57" y="-13.70" font-size="21.9" fill="#000080" stroke="#fff" stroke-width="0.22" textLength="7.44" lengthAdjust="spacingAndGlyphs">-</text><text x="115.54" y="-13.70" font-size="21.9" fill="#000080" stroke="#fff" stroke-width="0.22" textLength="10.05" lengthAdjust="spacingAndGlyphs">3</text><text x="130.22" y="0.00" font-size="29" font-style="italic" fill="#000080" stroke="#fff" stroke-width="0.22" textLength="17.83" lengthAdjust="spacingAndGlyphs">σ</text><text x="154.58" y="-13.70" font-size="21.9" fill="#000080" stroke="#fff" stroke-width="0.22" textLength="12.72" lengthAdjust="spacingAndGlyphs">2</text><text x="165.90" y="0.00" font-size="33" fill="#000080" stroke="#fff" stroke-width="0.22" textLength="12.30" lengthAdjust="spacingAndGlyphs">/</text><text x="176.65" y="0.00" font-size="31" font-style="italic" fill="#000080" stroke="#fff" stroke-width="0.22" textLength="13.78" lengthAdjust="spacingAndGlyphs">τ</text><text x="193.00" y="6.20" font-size="22.5" fill="#000080" stroke="#fff" stroke-width="0.22" textLength="12.76" lengthAdjust="spacingAndGlyphs">L</text><text x="205.93" y="6.20" font-size="22.5" fill="#000080" stroke="#fff" stroke-width="0.22" textLength="8.63" lengthAdjust="spacingAndGlyphs">J</text><text x="217.23" y="0.00" font-size="33" fill="#000080" stroke="#fff" stroke-width="0.22" textLength="14.13" lengthAdjust="spacingAndGlyphs">)</text></g>
</svg></body></html>
